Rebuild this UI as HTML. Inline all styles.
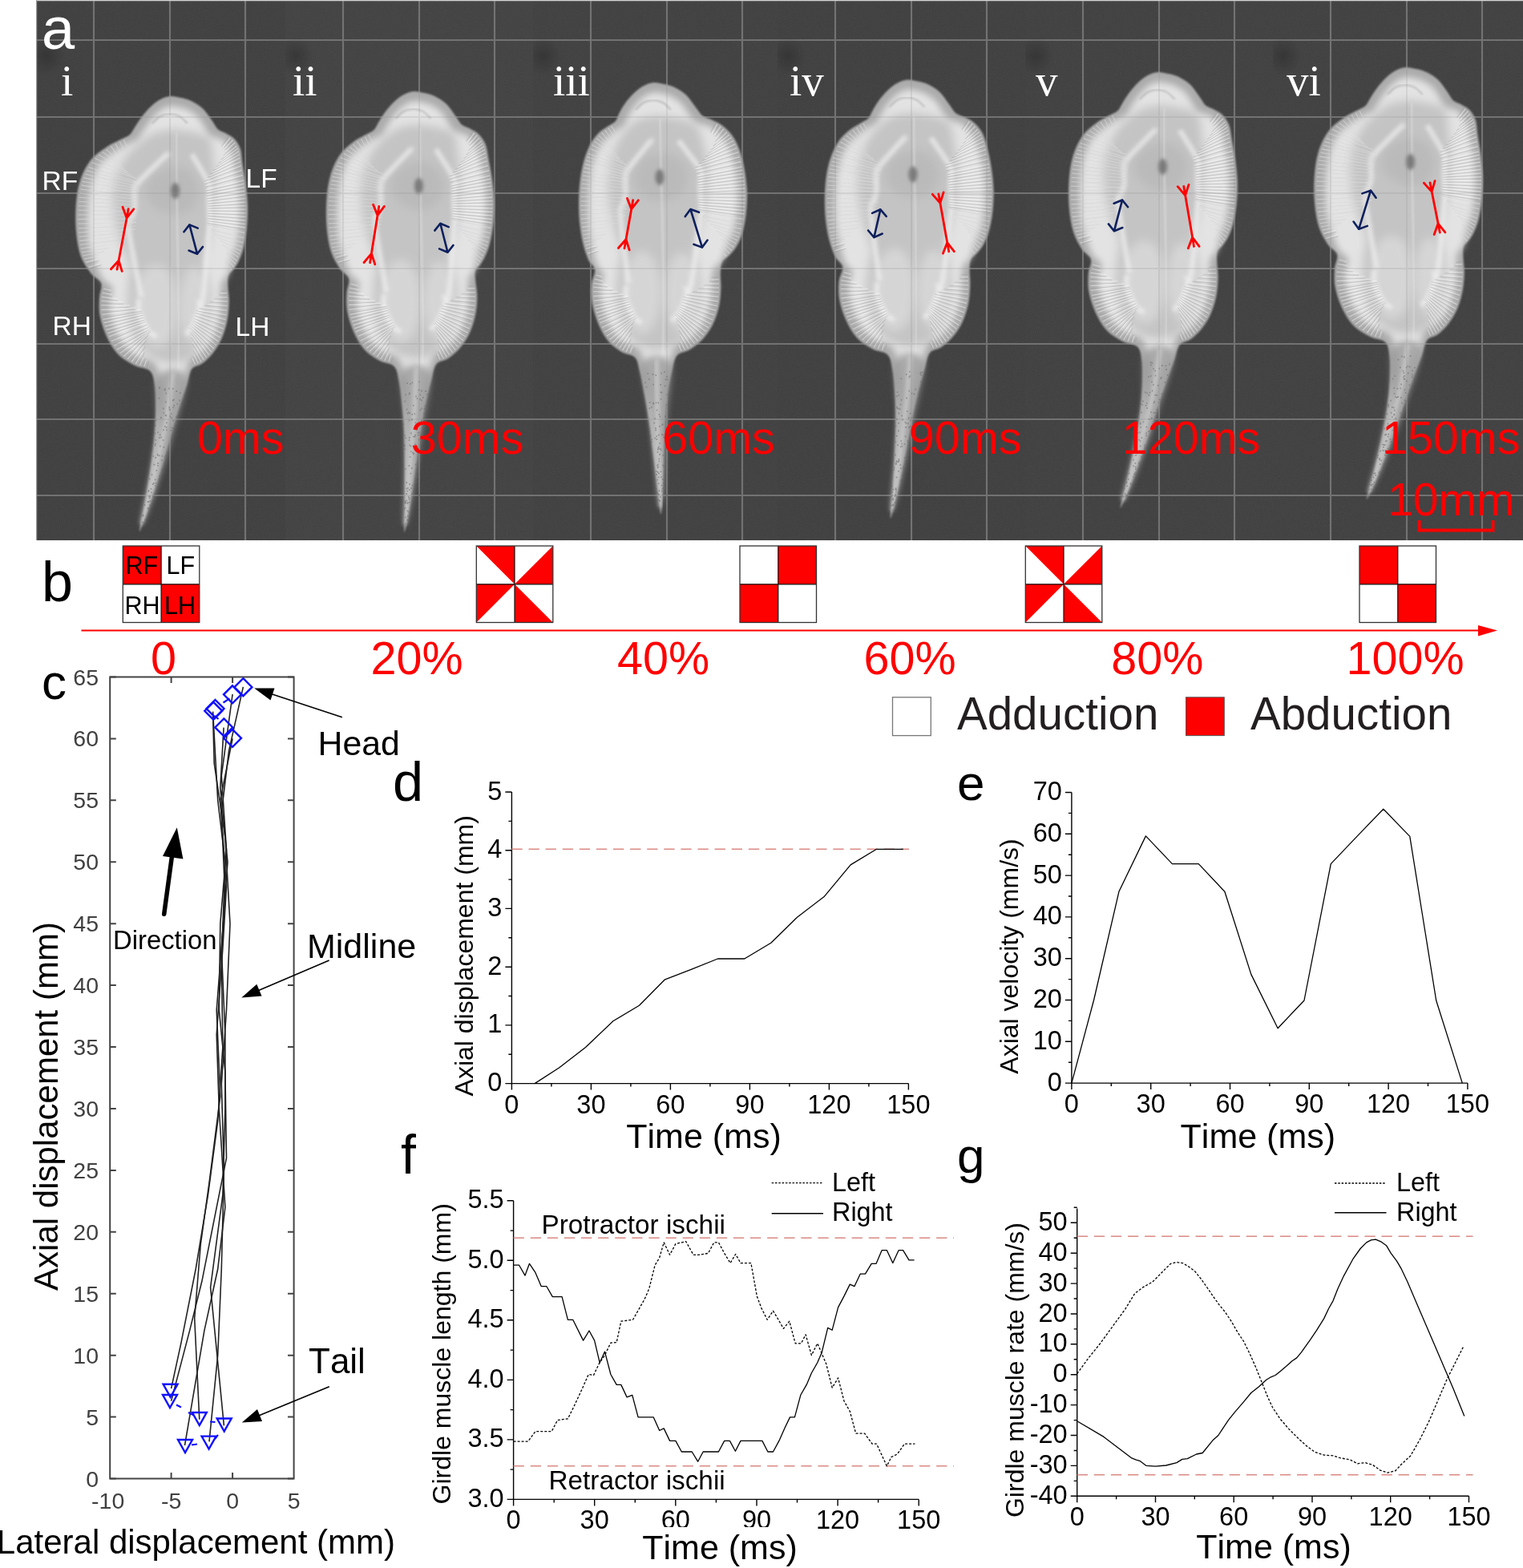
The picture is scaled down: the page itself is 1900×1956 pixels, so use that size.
<!DOCTYPE html>
<html><head><meta charset="utf-8"><title>Figure</title>
<style>html,body{margin:0;padding:0;background:#fff;}body{width:1900px;height:1956px;overflow:hidden;}svg{display:block;} text{font-kerning:none;}</style>
</head><body>
<svg width="1900" height="1956" viewBox="0 0 1900 1956">
<defs><filter id="fb1" x="-5%" y="-5%" width="110%" height="110%"><feGaussianBlur stdDeviation="1.2"/></filter><filter id="fb2" x="-50%" y="-50%" width="200%" height="200%"><feGaussianBlur stdDeviation="2"/></filter><filter id="fb4" x="-30%" y="-30%" width="160%" height="160%"><feGaussianBlur stdDeviation="4"/></filter><filter id="fb6" x="-20%" y="-20%" width="140%" height="140%"><feGaussianBlur stdDeviation="6"/></filter><filter id="nz" x="0" y="0" width="100%" height="100%"><feTurbulence type="fractalNoise" baseFrequency="0.9" numOctaves="2" seed="3"/><feColorMatrix type="matrix" values="0 0 0 0 0.28  0 0 0 0 0.28  0 0 0 0 0.28  0 0 0 0.35 0"/></filter><pattern id="noise" patternUnits="userSpaceOnUse" width="300" height="300"><rect width="300" height="300" filter="url(#nz)"/></pattern><clipPath id="cf0"><rect x="45" y="0" width="311" height="674"/></clipPath><clipPath id="cf1"><rect x="356" y="0" width="309" height="674"/></clipPath><clipPath id="cf2"><rect x="665" y="0" width="305" height="674"/></clipPath><clipPath id="cf3"><rect x="970" y="0" width="309" height="674"/></clipPath><clipPath id="cf4"><rect x="1279" y="0" width="309" height="674"/></clipPath><clipPath id="cf5"><rect x="1588" y="0" width="312" height="674"/></clipPath><radialGradient id="smg"><stop offset="0" stop-color="#1e1e1e" stop-opacity="0.35"/><stop offset="1" stop-color="#1e1e1e" stop-opacity="0"/></radialGradient></defs>
<rect x="45" y="0" width="1855" height="674" fill="#474747"/>
<rect x="45" y="0" width="311" height="674" fill="#3b3b3b"/>
<rect x="356" y="0" width="309" height="674" fill="#3e3e3e"/>
<rect x="665" y="0" width="305" height="674" fill="#3c3c3c"/>
<rect x="970" y="0" width="309" height="674" fill="#3b3b3b"/>
<rect x="1279" y="0" width="309" height="674" fill="#3c3c3c"/>
<rect x="1588" y="0" width="312" height="674" fill="#3c3c3c"/>
<rect x="45" y="0" width="1855" height="674" fill="url(#noise)" opacity="0.5"/>
<path d="M45 50.0H356M45 146.0H356M45 241.0H356M45 335.0H356M45 429.0H356M45 523.0H356M45 618.0H356M117.0 0V674M212.0 0V674M306.0 0V674M356 50.0H665M356 146.0H665M356 241.0H665M356 335.0H665M356 429.0H665M356 523.0H665M356 618.0H665M428.0 0V674M523.0 0V674M617.0 0V674M665 50.0H970M665 146.0H970M665 241.0H970M665 335.0H970M665 429.0H970M665 523.0H970M665 618.0H970M737.0 0V674M832.0 0V674M926.0 0V674M970 50.0H1279M970 146.0H1279M970 241.0H1279M970 335.0H1279M970 429.0H1279M970 523.0H1279M970 618.0H1279M1042.0 0V674M1137.0 0V674M1231.0 0V674M1279 50.0H1588M1279 146.0H1588M1279 241.0H1588M1279 335.0H1588M1279 429.0H1588M1279 523.0H1588M1279 618.0H1588M1351.0 0V674M1446.0 0V674M1540.0 0V674M1588 50.0H1900M1588 146.0H1900M1588 241.0H1900M1588 335.0H1900M1588 429.0H1900M1588 523.0H1900M1588 618.0H1900M1660.0 0V674M1755.0 0V674M1849.0 0V674" stroke="#727272" stroke-width="2.2" fill="none" opacity="0.9"/>
<g clip-path="url(#cf0)"><ellipse cx="58.0" cy="70" rx="22" ry="24" fill="url(#smg)"/></g>
<g clip-path="url(#cf1)"><ellipse cx="369.0" cy="70" rx="22" ry="24" fill="url(#smg)"/></g>
<g clip-path="url(#cf2)"><ellipse cx="678.0" cy="70" rx="22" ry="24" fill="url(#smg)"/></g>
<g clip-path="url(#cf3)"><ellipse cx="983.0" cy="70" rx="22" ry="24" fill="url(#smg)"/></g>
<g clip-path="url(#cf4)"><ellipse cx="1292.0" cy="70" rx="22" ry="24" fill="url(#smg)"/></g>
<g clip-path="url(#cf5)"><ellipse cx="1601.0" cy="70" rx="22" ry="24" fill="url(#smg)"/></g>
<g clip-path="url(#cf0)">
<g><path d="M212.4 120.0 C216.2 119.6 219.5 120.9 223.1 121.5 C226.7 122.2 230.3 122.7 233.8 124.0 C237.4 125.3 241.2 127.2 244.6 129.2 C247.9 131.3 251.0 133.5 253.8 136.3 C256.6 139.1 259.1 142.9 261.4 146.1 C263.8 149.3 265.8 152.6 267.6 155.3 C269.5 158.0 270.2 160.1 272.7 162.1 C275.3 164.0 279.7 165.0 283.0 167.0 C286.4 168.9 290.0 170.5 292.9 173.7 C295.7 176.9 298.4 180.9 300.0 186.0 C301.6 191.1 301.4 197.2 302.5 204.4 C303.5 211.6 305.3 220.2 306.4 228.9 C307.5 237.6 308.7 247.4 309.0 256.6 C309.2 265.8 308.8 275.5 307.9 284.2 C307.1 292.9 305.5 301.8 303.9 308.7 C302.2 315.6 300.0 321.0 297.9 325.6 C295.8 330.2 293.3 333.3 291.1 336.3 C288.9 339.4 285.9 340.4 284.8 344.0 C283.7 347.6 284.3 352.4 284.5 357.8 C284.6 363.2 285.9 369.3 285.8 376.2 C285.6 383.1 285.1 391.6 283.6 399.2 C282.1 406.9 279.7 415.3 276.6 422.3 C273.6 429.2 269.5 435.4 265.4 440.7 C261.3 445.9 256.6 450.2 252.2 453.6 C247.8 456.9 242.4 456.0 239.1 460.6 C235.9 465.2 235.6 472.4 232.8 481.0 C230.0 489.6 225.4 501.9 222.1 512.4 C218.7 522.9 215.7 533.3 212.7 543.8 C209.6 554.2 206.8 564.7 203.7 575.2 C200.6 585.6 197.5 596.1 194.2 606.5 C190.8 617.0 187.2 628.5 183.8 637.9 C180.5 647.3 174.8 663.0 174.0 663.0 C173.1 663.0 177.2 647.3 178.9 637.9 C180.6 628.5 182.7 617.0 184.3 606.5 C186.0 596.1 187.6 585.6 189.0 575.2 C190.4 564.7 191.9 554.2 192.7 543.8 C193.6 533.3 194.1 522.9 194.2 512.4 C194.2 501.9 194.1 489.3 193.0 481.0 C191.8 472.8 191.2 467.0 187.1 462.8 C182.9 458.6 174.8 459.4 168.2 456.0 C161.6 452.6 153.4 448.1 147.6 442.2 C141.8 436.3 137.3 428.6 133.5 420.7 C129.7 412.8 126.4 402.8 124.8 394.6 C123.2 386.5 123.7 378.5 124.0 371.6 C124.2 364.7 128.0 358.3 126.3 353.2 C124.5 348.1 117.7 346.6 113.5 340.9 C109.2 335.3 103.8 327.9 100.7 319.5 C97.7 311.0 96.1 300.8 95.1 290.3 C94.1 279.8 94.0 267.3 94.7 256.6 C95.5 245.8 96.7 235.3 99.8 225.9 C102.9 216.4 107.7 206.8 113.2 199.8 C118.7 192.7 126.7 187.8 132.8 183.5 C138.9 179.3 145.1 176.9 149.9 174.3 C154.7 171.8 158.5 170.8 161.6 168.2 C164.6 165.5 165.7 162.2 168.3 158.4 C170.9 154.6 173.8 149.7 177.1 145.5 C180.3 141.3 184.0 136.8 187.8 133.2 C191.6 129.6 196.0 126.2 200.1 124.0 C204.2 121.8 208.5 120.4 212.4 120.0 Z" fill="#ababab" filter="url(#fb1)"/><path d="M213.5 132.0 C216.7 131.6 219.6 132.9 222.6 133.5 C225.7 134.2 228.7 134.6 231.7 135.8 C234.7 137.0 237.9 138.7 240.6 140.6 C243.4 142.4 246.0 144.4 248.1 146.9 C250.3 149.4 252.0 152.8 253.7 155.6 C255.3 158.4 256.6 161.2 258.0 163.5 C259.4 165.7 259.8 167.4 262.1 168.9 C264.3 170.4 268.4 170.9 271.6 172.3 C274.8 173.8 278.1 173.8 281.2 177.5 C284.2 181.2 287.9 188.9 289.9 194.5 C291.9 200.1 292.0 204.7 293.2 211.1 C294.4 217.5 296.1 225.2 297.0 232.9 C298.0 240.6 298.8 249.0 299.0 257.0 C299.2 265.0 299.0 273.5 298.3 281.1 C297.7 288.7 296.6 296.7 295.2 302.8 C293.8 308.9 291.9 311.1 289.9 317.9 C288.0 324.7 285.7 337.9 283.6 343.4 C281.5 348.9 278.4 347.6 277.1 351.0 C275.8 354.3 275.9 358.7 275.6 363.3 C275.3 368.0 276.0 373.2 275.6 379.0 C275.2 384.8 274.6 391.6 273.2 397.9 C271.8 404.1 269.9 410.9 267.4 416.5 C265.0 422.2 261.8 427.3 258.4 431.7 C255.0 436.0 250.7 439.7 247.0 442.6 C243.3 445.4 239.1 444.3 236.3 448.8 C233.6 453.2 232.7 460.6 230.4 469.1 C228.1 477.7 225.4 489.8 222.6 500.3 C219.7 510.7 216.3 521.2 213.4 531.7 C210.5 542.1 208.0 552.6 205.2 563.0 C202.3 573.5 199.3 583.9 196.2 594.4 C193.0 604.8 189.5 616.3 186.3 625.7 C183.2 635.1 177.7 650.8 177.1 650.8 C176.5 650.8 180.7 635.1 182.6 625.6 C184.6 616.2 186.8 604.7 188.7 594.3 C190.6 583.9 192.4 573.4 193.9 563.0 C195.5 552.6 197.0 542.2 198.1 531.8 C199.3 521.5 200.6 511.3 200.8 501.1 C201.1 490.8 201.2 478.4 199.6 470.2 C198.0 462.0 195.3 455.6 191.2 451.6 C187.0 447.6 180.4 449.0 174.9 446.2 C169.4 443.3 162.9 439.6 158.2 434.6 C153.4 429.6 149.6 423.1 146.3 416.4 C143.0 409.6 140.0 401.2 138.5 394.2 C137.0 387.3 137.1 380.5 137.4 374.5 C137.6 368.6 141.5 363.1 139.8 358.6 C138.2 354.0 131.9 354.8 127.4 347.1 C122.9 339.4 115.9 322.6 112.9 312.5 C109.9 302.4 110.0 295.6 109.5 286.4 C109.0 277.1 109.2 266.4 109.9 257.0 C110.6 247.7 111.6 238.7 113.9 230.4 C116.1 222.1 119.0 213.6 123.1 207.3 C127.3 201.0 132.3 197.5 138.6 192.8 C145.0 188.0 155.6 181.9 161.0 178.8 C166.5 175.7 168.9 176.3 171.5 174.2 C174.1 172.0 174.6 169.2 176.7 166.0 C178.8 162.8 181.4 158.6 184.1 154.9 C186.8 151.2 189.8 147.2 193.0 144.0 C196.2 140.8 199.7 137.6 203.1 135.6 C206.5 133.6 210.2 132.3 213.5 132.0 Z" fill="#e3e3e3" filter="url(#fb4)"/><path d="M185.1 170.0 C194.2 164.5 203.5 163.0 212.0 162.0 C220.5 161.0 228.1 162.3 236.2 164.0 C244.4 165.7 256.2 166.8 261.1 172.0 C265.9 177.2 264.3 185.3 265.5 195.0 C266.7 204.7 268.2 217.5 268.4 230.0 C268.6 242.5 268.1 257.5 266.7 270.0 C265.3 282.5 262.0 295.0 260.1 305.0 C258.2 315.0 255.1 320.8 255.5 330.0 C255.8 339.2 260.8 350.0 262.3 360.0 C263.8 370.0 265.2 380.0 264.4 390.0 C263.6 400.0 261.1 411.3 257.4 420.0 C253.8 428.7 247.9 436.7 242.6 442.0 C237.3 447.3 231.4 450.3 225.4 452.0 C219.3 453.7 213.4 453.7 206.4 452.0 C199.4 450.3 190.1 447.3 183.5 442.0 C176.8 436.7 170.3 428.7 166.3 420.0 C162.3 411.3 160.5 400.0 159.4 390.0 C158.3 380.0 159.2 369.7 159.7 360.0 C160.2 350.3 163.7 341.2 162.3 332.0 C160.9 322.8 154.6 315.3 151.2 305.0 C147.9 294.7 143.8 282.5 142.4 270.0 C140.9 257.5 139.9 242.5 142.4 230.0 C144.9 217.5 150.3 205.0 157.4 195.0 C164.5 185.0 176.0 175.5 185.1 170.0 Z" fill="#ababab" opacity="0.55" filter="url(#fb6)"/><path d="M248.5 238.0 C248.5 241.4 247.9 245.0 246.8 248.3 C245.7 251.5 243.9 254.7 241.9 257.3 C239.8 259.9 237.2 262.3 234.4 264.0 C231.6 265.7 228.4 267.0 225.2 267.5 C222.0 268.1 219.1 268.1 215.4 267.5 C211.7 267.0 207.1 265.7 203.1 264.0 C199.2 262.3 194.8 259.9 191.7 257.3 C188.5 254.7 185.9 251.5 184.2 248.3 C182.5 245.0 181.6 241.4 181.6 238.0 C181.6 234.6 182.5 231.0 184.2 227.7 C185.9 224.5 188.5 221.3 191.7 218.7 C194.8 216.1 199.2 213.7 203.1 212.0 C207.1 210.3 211.7 209.0 215.4 208.5 C219.1 207.9 222.1 207.9 225.3 208.5 C228.4 209.0 231.6 210.3 234.4 212.0 C237.2 213.7 239.8 216.1 241.9 218.7 C243.9 221.3 245.7 224.5 246.8 227.7 C247.9 231.0 248.5 234.6 248.5 238.0 Z" fill="#a9a9a9" opacity="0.35" filter="url(#fb6)"/><path d="M220.7 382.0 C220.7 387.9 220.3 394.2 219.5 399.8 C218.7 405.4 217.5 410.9 215.8 415.4 C214.2 420.0 212.2 424.1 209.7 427.0 C207.2 430.0 203.8 432.2 200.8 433.2 C197.7 434.2 194.3 434.2 191.2 433.2 C188.2 432.2 185.0 430.0 182.3 427.0 C179.6 424.1 177.0 420.0 175.0 415.4 C173.0 410.9 171.3 405.4 170.2 399.8 C169.2 394.2 168.6 387.9 168.6 382.0 C168.5 376.1 169.1 369.8 169.9 364.2 C170.6 358.6 171.7 353.1 173.4 348.6 C175.1 344.0 177.4 339.9 180.1 337.0 C182.7 334.0 186.1 331.8 189.4 330.8 C192.7 329.8 196.4 329.8 199.8 330.8 C203.1 331.8 206.9 334.0 209.5 337.0 C212.2 339.9 214.1 344.0 215.8 348.6 C217.4 353.1 218.6 358.6 219.4 364.2 C220.3 369.8 220.7 376.1 220.7 382.0 Z" fill="#e4e4e4" opacity="0.55" filter="url(#fb6)"/><path d="M262.7 382.0 C262.7 387.7 262.3 393.7 261.5 399.1 C260.8 404.5 259.6 409.8 258.2 414.1 C256.8 418.5 255.0 422.5 253.1 425.3 C251.2 428.2 248.9 430.3 246.8 431.2 C244.6 432.2 242.3 432.2 240.1 431.2 C238.0 430.3 235.7 428.2 233.8 425.3 C231.9 422.5 230.1 418.5 228.7 414.1 C227.3 409.8 226.1 404.5 225.4 399.1 C224.6 393.7 224.2 387.7 224.2 382.0 C224.2 376.3 224.6 370.3 225.3 364.9 C226.0 359.5 227.1 354.2 228.4 349.9 C229.7 345.5 231.3 341.5 233.1 338.7 C234.9 335.8 236.9 333.7 239.0 332.8 C241.0 331.8 243.3 331.8 245.4 332.8 C247.5 333.7 249.7 335.8 251.7 338.7 C253.7 341.5 255.7 345.5 257.3 349.9 C258.9 354.2 260.4 359.5 261.3 364.9 C262.2 370.3 262.6 376.3 262.7 382.0 Z" fill="#e4e4e4" opacity="0.55" filter="url(#fb6)"/><path d="M239.3 192.2 C242.7 198.0 256.1 219.7 259.8 227.1 C263.5 234.6 261.2 233.3 261.4 236.7 C261.6 240.2 261.1 244.4 261.0 248.1 C260.9 251.7 260.8 255.2 260.9 258.7 C261.0 262.3 261.3 265.7 261.5 269.2 C261.7 272.8 262.2 276.9 262.1 280.1 C261.9 283.3 262.2 273.2 260.7 288.3 C259.2 303.4 255.7 355.7 253.2 370.6 C250.6 385.5 246.8 376.4 245.5 377.6" fill="none" stroke="#f0f0f0" stroke-width="7" opacity="0.65" filter="url(#fb2)"/><path d="M251.1 378.1 C250.7 379.5 249.3 383.7 248.4 386.4 C247.4 389.1 246.3 391.8 245.4 394.3 C244.5 396.8 243.7 399.1 242.8 401.3 C241.9 403.6 241.1 405.7 239.9 407.7 C238.7 409.7 237.2 411.6 235.8 413.2 C234.4 414.8 232.2 416.5 231.4 417.2" fill="none" stroke="#f0f0f0" stroke-width="7" opacity="0.65" filter="url(#fb2)"/><path d="M195.5 419.9 C194.0 419.0 189.0 416.9 186.5 414.4 C183.9 411.8 182.3 408.3 180.4 404.7 C178.5 401.2 176.3 397.0 175.0 393.2 C173.8 389.5 173.0 385.6 172.8 382.2 C172.7 378.8 173.7 374.4 173.9 372.9" fill="none" stroke="#f0f0f0" stroke-width="7" opacity="0.65" filter="url(#fb2)"/><path d="M176.4 370.6 C173.7 356.4 162.2 302.2 160.3 285.7 C158.3 269.1 163.2 275.8 164.5 271.3 C165.8 266.8 167.6 262.8 168.1 258.8 C168.7 254.9 167.8 251.6 167.8 247.8 C167.7 244.0 167.2 239.4 167.9 236.1 C168.6 232.8 165.7 235.0 172.0 228.1 C178.4 221.2 200.0 200.6 206.1 194.9 C212.1 189.1 207.8 194.2 208.3 193.6 C208.9 193.1 209.3 192.0 209.5 191.7" fill="none" stroke="#f0f0f0" stroke-width="7" opacity="0.65" filter="url(#fb2)"/><path d="M196.6 470.2 C202.5 458.3 229.1 458.3 232.3 470.2 C235.5 482.2 221.7 519.7 215.7 541.8 C209.6 564.0 202.5 583.6 195.8 603.2 C189.1 622.8 176.9 659.4 175.6 659.4 C174.2 659.4 184.3 622.8 187.8 603.2 C191.3 583.6 195.2 564.0 196.7 541.8 C198.1 519.7 190.6 482.2 196.6 470.2 Z" fill="#848484" opacity="0.6" filter="url(#fb4)"/><path d="M215.5 465.1 C214.2 474.5 211.1 503.5 208.1 521.4 C205.0 539.3 201.1 555.4 197.2 572.5 C193.3 589.5 188.3 610.0 184.8 623.6 C181.3 637.3 177.7 649.2 176.2 654.3" fill="none" stroke="#d8d8d8" stroke-width="5" opacity="0.6" filter="url(#fb2)"/><path d="M219.7 165.0 C219.8 177.5 219.9 214.2 220.3 240.0 C220.7 265.8 221.4 293.3 222.0 320.0 C222.5 346.7 223.2 376.7 223.4 400.0 C223.5 423.3 223.1 450.0 223.0 460.0" fill="none" stroke="#ececec" stroke-width="3" opacity="0.35" filter="url(#fb1)"/><ellipse cx="218.6" cy="238.0" rx="5.5" ry="10" fill="#7a7a7a" filter="url(#fb2)"/><path d="M189.7 154.0 C191.4 152.5 196.3 147.0 200.0 145.0 C203.7 143.0 208.0 142.0 212.0 142.0 C216.0 142.0 220.4 143.0 224.0 145.0 C227.6 147.0 232.2 152.5 233.8 154.0" fill="none" stroke="#a0a0a0" stroke-width="2" opacity="0.55" filter="url(#fb1)"/><clipPath id="fc0"><path d="M212.6 122.5 C216.3 122.1 219.5 123.4 223.0 124.0 C226.5 124.7 229.9 125.2 233.4 126.5 C236.8 127.7 240.5 129.6 243.8 131.6 C247.0 133.6 249.9 135.7 252.6 138.5 C255.3 141.2 257.7 145.0 259.9 148.1 C262.1 151.2 263.9 154.4 265.6 157.0 C267.4 159.6 268.0 161.6 270.5 163.5 C273.0 165.3 277.3 166.2 280.6 168.1 C284.0 169.9 287.5 171.2 290.4 174.5 C293.3 177.8 296.1 182.5 297.8 187.8 C299.5 193.0 299.4 198.8 300.5 205.8 C301.6 212.8 303.4 221.3 304.5 229.8 C305.5 238.2 306.6 247.7 306.9 256.7 C307.1 265.6 306.7 275.1 305.9 283.5 C305.1 292.0 303.7 300.7 302.1 307.5 C300.4 314.2 298.3 318.9 296.2 324.0 C294.1 329.0 291.7 334.2 289.5 337.8 C287.4 341.4 284.4 341.9 283.2 345.5 C282.1 349.0 282.6 353.7 282.6 359.0 C282.7 364.2 283.8 370.1 283.6 376.8 C283.4 383.5 282.9 391.6 281.4 399.0 C280.0 406.3 277.6 414.4 274.7 421.1 C271.8 427.7 267.9 433.8 263.9 438.8 C260.0 443.8 255.3 448.0 251.0 451.3 C246.8 454.5 241.6 453.6 238.5 458.1 C235.4 462.7 235.1 469.9 232.4 478.5 C229.6 487.2 225.5 499.4 222.2 509.9 C219.0 520.3 215.9 530.8 212.9 541.3 C209.8 551.7 207.1 562.2 204.0 572.6 C201.0 583.1 197.9 593.5 194.6 604.0 C191.3 614.5 187.7 626.0 184.4 635.4 C181.0 644.8 175.4 660.5 174.6 660.5 C173.8 660.5 177.9 644.8 179.7 635.4 C181.5 625.9 183.5 614.4 185.3 604.0 C187.0 593.5 188.6 583.1 190.0 572.6 C191.5 562.2 193.0 551.7 193.9 541.3 C194.8 530.9 195.5 520.5 195.6 510.0 C195.6 499.6 195.6 487.0 194.3 478.8 C193.1 470.5 192.1 464.6 187.9 460.4 C183.8 456.3 175.9 457.3 169.5 454.0 C163.1 450.6 155.3 446.3 149.8 440.6 C144.2 434.9 139.9 427.5 136.2 419.8 C132.5 412.1 129.2 402.5 127.6 394.6 C126.0 386.6 126.5 378.9 126.8 372.2 C127.0 365.5 130.9 359.3 129.1 354.3 C127.4 349.3 120.7 348.3 116.4 342.2 C112.1 336.2 106.3 326.8 103.2 318.0 C100.2 309.2 99.0 299.7 98.1 289.5 C97.2 279.3 97.1 267.1 97.9 256.7 C98.7 246.2 99.8 236.0 102.7 226.8 C105.6 217.6 110.0 208.3 115.2 201.4 C120.4 194.5 127.8 189.8 133.9 185.5 C140.1 181.1 147.2 177.9 152.2 175.3 C157.1 172.6 160.6 172.0 163.6 169.4 C166.6 166.9 167.6 163.6 170.1 160.0 C172.6 156.3 175.4 151.5 178.6 147.4 C181.7 143.4 185.2 139.0 188.9 135.5 C192.6 132.0 196.8 128.6 200.7 126.4 C204.7 124.3 208.9 122.9 212.6 122.5 Z"/></clipPath><g clip-path="url(#fc0)"><path d="M285.6 170.4L276.7 182.4M289.3 172.8L279.5 184.3M292.4 175.7L280.8 187.3M295.0 179.2L278.7 194.1M296.8 182.3L275.7 199.5M298.2 185.6L272.4 204.3M299.2 189.4L268.9 208.6M300.0 193.6L265.6 213.0M300.5 198.2L262.4 217.4M301.0 203.2L259.0 221.6M301.6 208.5L255.5 225.8M302.6 214.4L255.6 229.2M303.8 220.6L256.4 233.2M304.9 227.1L257.2 238.1M305.5 231.4L257.7 241.0M306.1 235.8L258.1 244.4M306.6 240.4L258.5 247.7M307.0 245.0L258.8 251.0M307.4 249.7L259.0 254.2M307.6 254.3L259.2 257.2M307.8 258.9L259.3 260.0M307.8 263.5L259.3 263.0M307.7 268.2L259.2 266.2M307.5 272.8L259.1 269.4M307.3 277.4L258.9 272.6M306.9 281.8L258.7 275.7M306.5 286.2L258.4 278.5M306.0 290.5L258.7 281.0M305.0 296.8L262.5 286.6M303.9 302.8L266.1 291.6M302.7 308.3L269.7 296.1M301.3 313.1L273.3 300.1M299.8 317.4L276.6 304.4M298.3 321.3L279.7 308.9M296.3 325.9L282.1 314.7M294.1 329.7L284.3 320.2M291.8 333.0L283.0 323.6M289.0 336.8L280.3 327.1M283.7 362.5L275.1 363.1M284.2 367.4L273.4 367.9M284.5 372.7L267.5 372.7M284.4 377.9L261.3 376.8M284.1 383.5L254.9 381.1M283.7 389.3L248.5 384.8M283.0 395.1L244.7 387.5M281.9 400.8L244.2 390.4M280.6 406.6L243.3 393.8M278.9 412.5L242.3 397.2M276.9 418.1L241.3 400.1M274.7 423.3L240.4 402.3M272.2 428.1L239.4 404.2M269.5 432.7L238.2 406.3M266.5 437.0L236.9 408.1M263.4 440.9L235.9 409.4M260.1 444.4L237.1 413.6M256.8 447.7L238.9 420.8M253.5 450.6L240.0 428.5M250.3 453.1L240.9 436.1M246.7 455.2L241.0 443.9M243.0 457.1L238.8 447.8M182.8 459.9L185.6 450.4M177.7 458.3L181.5 447.2M172.3 456.3L180.4 439.6M167.2 453.9L181.3 432.3M162.0 451.0L182.6 425.0M156.8 447.7L184.8 418.0M151.8 444.0L188.2 413.0M147.5 439.8L187.8 412.5M143.7 435.0L186.7 411.2M140.2 429.7L185.1 408.7M137.1 424.0L183.2 405.4M134.2 418.1L181.3 401.4M132.4 414.0L180.3 399.2M130.7 409.6L179.2 396.3M129.2 405.1L178.2 393.3M127.9 400.7L177.4 390.4M126.9 396.5L176.9 388.6M125.8 390.4L169.8 386.0M125.3 384.5L161.9 383.3M125.3 378.9L154.2 379.4M125.6 373.5L146.8 375.1M126.0 368.3L139.6 370.3M126.7 363.1L138.2 365.4M111.5 335.1L126.3 330.5M107.8 329.6L123.2 325.2M104.3 323.3L123.3 318.8M102.6 319.1L129.3 314.1M101.3 314.8L135.6 309.4M100.2 310.2L142.0 304.5M99.2 305.4L148.4 299.6M98.3 300.5L155.1 294.8M97.6 295.4L161.8 290.3M97.0 290.2L168.8 286.0M96.6 284.8L170.6 281.9M96.3 279.2L170.3 277.5M96.2 273.5L170.2 272.9M96.2 267.8L170.2 268.4M96.3 262.1L170.4 264.0M96.6 256.6L170.6 259.9M97.1 251.3L170.9 255.9M97.7 246.1L171.4 252.1M98.4 240.9L171.9 248.4M99.3 235.9L172.5 244.9M100.4 231.0L173.2 241.7M101.6 226.2L173.9 238.9M103.1 221.5L174.8 236.1M104.7 216.9L175.7 233.4M106.5 212.4L176.8 230.7M108.9 208.1L175.6 228.3M113.2 202.2L170.4 222.9M117.8 197.2L164.6 219.0M122.6 192.8L159.1 214.9M127.4 189.0L154.8 209.9M132.1 185.6L151.3 204.7M138.1 181.8L149.9 198.5M143.9 178.8L150.3 192.0M149.2 176.2L154.5 187.4M154.0 173.7L159.4 184.9" stroke="#999999" stroke-width="1.1" opacity="0.36" fill="none"/><path d="M287.4 171.5L278.3 183.4M290.9 174.2L280.7 185.3M293.7 177.4L281.4 188.8M296.3 181.2L279.1 195.8M297.8 184.5L275.7 200.9M298.9 188.1L272.2 205.7M299.7 192.2L268.7 210.3M300.3 196.6L265.3 214.9M300.8 201.5L261.9 219.4M301.4 206.7L258.4 223.7M302.2 212.4L255.4 228.1M303.4 218.5L256.2 231.8M304.5 224.9L257.0 236.5M305.2 229.2L257.4 239.4M305.8 233.6L257.9 242.7M306.4 238.1L258.3 246.0M306.8 242.7L258.7 249.4M307.2 247.4L258.9 252.6M307.5 252.0L259.1 255.7M307.7 256.6L259.2 258.6M307.8 261.2L259.3 261.5M307.8 265.8L259.3 264.6M307.6 270.5L259.2 267.8M307.4 275.1L259.0 271.0M307.1 279.6L258.8 274.2M306.7 284.0L258.6 276.7M306.0 290.5L258.1 281.3M305.0 296.8L261.3 286.3M303.9 302.8L265.1 291.3M302.7 308.3L268.8 295.8M301.3 313.1L272.5 299.8M299.8 317.4L276.0 304.0M298.3 321.3L279.2 308.6M296.3 325.9L281.7 314.3M294.1 329.7L284.0 319.9M291.8 333.0L283.0 323.6M289.0 336.8L280.3 327.1M284.1 365.7L275.4 366.2M284.4 370.9L273.0 371.1M284.5 376.2L266.6 375.6M284.2 381.6L260.0 379.9M283.9 387.3L253.3 384.0M283.3 393.2L246.6 386.9M282.3 398.9L244.4 389.4M281.1 404.7L243.6 392.6M279.5 410.5L242.7 396.1M277.6 416.3L241.7 399.2M275.5 421.6L240.7 401.6M273.1 426.5L239.8 403.6M270.4 431.2L238.6 405.6M267.5 435.6L237.3 407.6M264.4 439.6L236.2 409.1M261.2 443.3L236.4 411.7M257.9 446.6L238.8 418.9M254.6 449.6L240.2 426.8M251.3 452.3L241.3 434.7M247.9 454.5L241.8 442.8M244.2 456.5L239.9 447.3M179.4 458.8L182.4 449.4M174.0 457.0L178.5 446.1M168.8 454.7L178.3 438.6M163.8 452.0L179.3 431.1M158.5 448.8L180.7 423.7M153.4 445.3L183.8 417.3M148.9 441.2L187.9 412.7M145.0 436.6L187.1 411.8M141.4 431.5L185.7 409.6M138.1 425.9L183.9 406.6M135.1 420.1L181.9 402.7M133.3 416.1L180.9 400.5M131.5 411.8L179.8 397.7M130.0 407.3L178.7 394.8M128.6 402.9L177.8 391.8M127.4 398.6L177.2 389.7M126.1 392.4L176.4 386.2M125.4 386.5L169.6 384.0M125.3 380.7L161.9 380.8M125.5 375.2L154.4 376.8M125.8 370.1L147.0 372.6M126.4 364.8L140.1 367.4M127.2 359.7L138.8 362.4M110.3 333.4L125.3 328.8M106.6 327.5L122.1 323.3M104.3 323.3L123.4 319.0M102.6 319.1L129.3 314.1M101.3 314.8L135.6 309.4M100.2 310.2L142.0 304.5M99.2 305.4L148.4 299.6M98.3 300.5L155.1 294.8M97.6 295.4L161.8 290.3M97.0 290.2L168.8 286.0M96.6 284.8L170.6 281.9M96.3 279.2L170.3 277.5M96.2 273.5L170.2 272.9M96.2 267.8L170.2 268.4M96.3 262.1L170.4 264.0M96.6 256.6L170.6 259.9M97.1 251.3L170.9 255.9M97.7 246.1L171.4 252.1M98.4 240.9L171.9 248.4M99.3 235.9L172.5 244.9M100.4 231.0L173.2 241.7M101.6 226.2L173.9 238.9M103.1 221.5L174.8 236.1M104.7 216.9L175.7 233.4M106.5 212.4L176.8 230.7M108.9 208.1L175.6 228.3M113.2 202.2L170.4 222.9M117.8 197.2L164.6 219.0M122.6 192.8L159.1 214.9M127.4 189.0L154.8 209.9M132.1 185.6L151.3 204.7M138.1 181.8L149.9 198.5M143.9 178.8L150.3 192.0M149.2 176.2L154.5 187.4M154.0 173.7L159.4 184.9" stroke="#ffffff" stroke-width="1.3" opacity="0.38" fill="none"/></g><path d="M220.5 503.8h1.6M184.6 613.2h1.6M195.7 566.6h1.6M198.2 593.7h1.6M197.5 496.8h1.6M183.4 625.8h1.6M181.2 613.0h1.6M203.6 557.9h1.6M219.2 520.2h1.6M175.8 637.2h1.6M214.8 484.9h1.6M177.5 643.7h1.6M205.6 518.1h1.6M204.6 485.5h1.6M199.1 556.6h1.6M200.0 521.0h1.6M206.6 518.5h1.6M193.0 530.8h1.6M184.7 626.1h1.6M188.7 592.1h1.6M178.5 653.0h1.6M205.9 501.5h1.6M193.1 605.9h1.6M178.0 643.3h1.6M186.5 624.8h1.6M206.8 533.2h1.6M185.4 633.9h1.6M198.0 568.3h1.6M205.1 486.5h1.6M185.1 619.1h1.6M210.6 510.5h1.6M193.6 602.7h1.6M200.4 545.6h1.6M201.6 568.8h1.6M193.5 571.0h1.6M187.4 565.6h1.6M219.4 488.0h1.6M176.9 651.4h1.6M193.5 548.9h1.6M206.0 567.8h1.6M188.1 614.4h1.6M179.8 630.0h1.6M204.8 569.8h1.6M196.2 580.9h1.6M207.1 527.3h1.6M173.2 646.9h1.6M191.1 616.7h1.6M184.0 634.5h1.6M185.8 621.1h1.6M196.3 578.0h1.6M224.1 490.2h1.6M191.8 579.6h1.6M196.0 568.2h1.6M198.9 542.5h1.6M201.1 574.1h1.6M194.6 586.9h1.6M204.8 485.3h1.6M211.4 511.3h1.6M186.2 630.1h1.6M190.2 619.0h1.6M215.3 524.8h1.6M185.8 597.5h1.6M198.1 483.4h1.6M184.8 611.8h1.6M214.9 499.5h1.6M192.7 540.3h1.6M210.4 508.2h1.6M203.0 509.7h1.6M189.8 604.2h1.6M203.2 536.4h1.6M209.9 484.6h1.6M193.0 553.6h1.6M223.1 499.4h1.6M190.3 569.1h1.6M201.2 585.7h1.6M198.2 484.1h1.6M216.3 505.9h1.6M215.4 508.3h1.6M192.9 598.4h1.6M220.4 518.8h1.6M186.4 619.2h1.6M211.5 519.3h1.6M202.7 549.1h1.6M207.1 536.3h1.6M206.4 490.7h1.6M180.3 648.7h1.6M213.4 533.7h1.6M215.2 534.4h1.6M187.7 609.8h1.6M193.6 524.3h1.6M176.9 633.2h1.6M190.7 622.9h1.6M191.3 579.6h1.6M187.7 631.3h1.6M191.0 602.9h1.6M198.1 546.2h1.6M212.9 516.2h1.6M192.7 555.7h1.6M216.3 498.6h1.6M204.9 531.9h1.6M212.8 537.0h1.6M175.8 636.9h1.6M203.6 515.4h1.6M178.3 652.1h1.6M196.3 539.4h1.6M197.7 597.7h1.6M177.5 642.5h1.6M183.7 633.9h1.6M207.1 564.7h1.6M213.1 521.2h1.6" stroke="#6a6a6a" stroke-width="1.8" opacity="0.55"/></g>
</g>
<g clip-path="url(#cf1)">
<g><path d="M516.0 114.0 C519.8 113.6 523.1 114.9 526.7 115.5 C530.3 116.2 533.9 116.7 537.4 118.0 C541.0 119.3 544.8 121.2 548.2 123.2 C551.5 125.3 554.6 127.5 557.4 130.3 C560.2 133.1 562.7 136.9 565.0 140.1 C567.4 143.3 569.4 146.6 571.3 149.3 C573.3 152.0 574.0 154.1 576.7 156.1 C579.3 158.0 583.8 159.0 587.2 161.0 C590.7 162.9 594.5 164.5 597.5 167.7 C600.6 170.9 603.7 174.9 605.7 180.0 C607.7 185.1 608.2 191.2 609.5 198.4 C610.9 205.6 612.7 214.2 613.9 222.9 C615.1 231.6 616.3 241.4 616.6 250.6 C616.8 259.8 616.4 269.5 615.5 278.2 C614.6 286.9 613.0 295.8 611.3 302.7 C609.6 309.6 607.4 315.0 605.3 319.6 C603.3 324.2 601.0 327.3 598.9 330.3 C596.8 333.4 593.8 334.4 592.8 338.0 C591.9 341.6 593.0 346.4 593.4 351.8 C593.8 357.2 595.4 363.3 595.3 370.2 C595.3 377.1 594.7 385.6 593.0 393.2 C591.4 400.9 588.8 409.3 585.5 416.3 C582.2 423.2 577.8 429.4 573.3 434.7 C568.8 439.9 563.3 444.2 558.4 447.6 C553.5 450.9 547.5 449.9 544.1 454.6 C540.6 459.3 540.1 466.8 537.7 475.7 C535.3 484.7 532.0 497.4 529.7 508.2 C527.5 519.0 525.8 529.8 524.1 540.7 C522.4 551.5 521.1 562.3 519.5 573.1 C518.0 584.0 516.5 594.8 514.9 605.6 C513.3 616.4 511.6 628.3 509.9 638.1 C508.2 647.8 505.4 664.0 504.6 664.0 C503.7 664.0 504.9 647.8 505.0 638.1 C505.0 628.3 505.1 616.4 505.0 605.6 C505.0 594.8 504.9 584.0 504.8 573.1 C504.6 562.3 504.7 551.5 504.2 540.7 C503.7 529.8 502.9 519.0 501.8 508.2 C500.8 497.4 499.5 484.3 497.8 475.7 C496.1 467.2 495.6 461.2 491.6 456.9 C487.5 452.6 479.8 453.5 473.7 450.0 C467.6 446.6 460.2 442.1 454.8 436.2 C449.4 430.3 445.1 422.6 441.5 414.7 C437.9 406.8 434.8 396.8 433.3 388.6 C431.8 380.5 432.2 372.5 432.5 365.6 C432.9 358.7 436.7 352.3 435.2 347.2 C433.8 342.1 427.6 340.6 423.9 334.9 C420.1 329.3 415.5 321.9 412.8 313.5 C410.1 305.0 408.6 294.8 407.6 284.3 C406.7 273.8 406.6 261.3 407.3 250.6 C408.0 239.8 409.2 229.3 411.9 219.9 C414.7 210.4 418.9 200.8 423.6 193.8 C428.3 186.7 434.9 181.8 440.2 177.5 C445.5 173.3 451.2 170.9 455.6 168.3 C459.9 165.8 463.5 164.8 466.3 162.2 C469.1 159.5 469.9 156.2 472.3 152.4 C474.7 148.6 477.5 143.7 480.7 139.5 C483.8 135.3 487.6 130.8 491.4 127.2 C495.2 123.6 499.6 120.2 503.7 118.0 C507.8 115.8 512.1 114.4 516.0 114.0 Z" fill="#ababab" filter="url(#fb1)"/><path d="M517.1 126.0 C520.3 125.6 523.2 126.9 526.2 127.5 C529.3 128.2 532.3 128.6 535.3 129.8 C538.3 131.0 541.5 132.7 544.2 134.6 C547.0 136.4 549.6 138.4 551.7 140.9 C553.9 143.4 555.7 146.8 557.4 149.6 C559.1 152.4 560.4 155.2 561.9 157.5 C563.3 159.7 563.8 161.4 566.2 162.9 C568.5 164.4 572.6 164.9 575.9 166.3 C579.2 167.8 582.6 167.8 585.9 171.5 C589.2 175.2 593.5 182.9 595.9 188.5 C598.3 194.1 598.8 198.7 600.1 205.1 C601.5 211.5 603.1 219.2 604.1 226.9 C605.1 234.6 606.0 243.0 606.2 251.0 C606.4 259.0 606.1 267.5 605.5 275.1 C604.8 282.7 603.7 290.7 602.3 296.8 C600.8 302.9 598.6 305.1 596.8 311.9 C595.0 318.7 593.4 331.9 591.5 337.4 C589.5 342.9 586.3 341.6 585.1 345.0 C583.9 348.3 584.2 352.7 584.1 357.3 C584.0 362.0 584.7 367.2 584.3 373.0 C583.9 378.8 583.2 385.6 581.8 391.9 C580.3 398.1 578.2 404.9 575.5 410.5 C572.9 416.2 569.5 421.3 565.8 425.7 C562.1 430.0 557.5 433.7 553.4 436.6 C549.4 439.4 544.8 438.3 541.7 442.8 C538.6 447.3 537.1 454.6 534.9 463.5 C532.8 472.3 530.9 484.9 529.0 495.6 C527.0 506.4 525.0 517.3 523.3 528.1 C521.7 539.0 520.6 549.7 519.2 560.6 C517.8 571.4 516.4 582.2 514.9 593.0 C513.4 603.8 511.8 615.7 510.3 625.4 C508.7 635.2 506.1 651.4 505.5 651.4 C504.9 651.3 506.2 635.1 506.5 625.4 C506.9 615.6 507.2 603.7 507.4 592.9 C507.7 582.1 507.9 571.4 508.0 560.6 C508.1 549.8 508.2 539.0 508.1 528.3 C507.9 517.6 508.0 507.1 507.3 496.5 C506.6 485.9 505.7 473.0 503.8 464.6 C501.9 456.1 499.7 449.7 495.8 445.6 C491.9 441.5 485.6 443.0 480.5 440.2 C475.3 437.3 469.3 433.6 464.8 428.6 C460.3 423.6 456.7 417.1 453.6 410.4 C450.5 403.6 447.6 395.2 446.2 388.2 C444.8 381.3 444.9 374.5 445.2 368.5 C445.4 362.6 449.2 357.1 447.8 352.6 C446.3 348.0 440.5 348.8 436.5 341.1 C432.6 333.4 426.7 316.6 424.1 306.5 C421.5 296.4 421.4 289.6 420.9 280.4 C420.4 271.1 420.6 260.4 421.3 251.0 C422.0 241.7 422.9 232.7 424.9 224.4 C426.9 216.1 429.7 207.6 433.3 201.3 C437.0 195.0 441.2 191.5 446.7 186.8 C452.3 182.0 461.7 175.9 466.7 172.8 C471.7 169.7 474.1 170.3 476.4 168.2 C478.8 166.0 479.1 163.2 481.0 160.0 C482.9 156.8 485.2 152.6 487.8 148.9 C490.4 145.2 493.5 141.2 496.6 138.0 C499.8 134.8 503.3 131.6 506.7 129.6 C510.1 127.6 513.8 126.3 517.1 126.0 Z" fill="#e3e3e3" filter="url(#fb4)"/><path d="M489.4 164.0 C497.9 158.5 507.2 157.0 515.6 156.0 C524.0 155.0 531.7 156.3 540.0 158.0 C548.3 159.7 560.1 160.8 565.2 166.0 C570.4 171.2 569.3 179.3 570.8 189.0 C572.3 198.7 574.0 211.5 574.3 224.0 C574.6 236.5 574.0 251.5 572.6 264.0 C571.1 276.5 567.6 289.0 565.7 299.0 C563.8 309.0 560.5 314.8 561.1 324.0 C561.8 333.2 567.8 344.0 569.6 354.0 C571.5 364.0 573.1 374.0 572.3 384.0 C571.4 394.0 568.6 405.3 564.7 414.0 C560.8 422.7 554.5 430.7 548.7 436.0 C542.9 441.3 536.3 444.3 529.9 446.0 C523.5 447.7 517.1 447.7 510.3 446.0 C503.4 444.3 495.0 441.3 488.7 436.0 C482.4 430.7 476.2 422.7 472.5 414.0 C468.7 405.3 467.0 394.0 466.0 384.0 C465.0 374.0 465.8 363.7 466.4 354.0 C467.0 344.3 470.7 335.2 469.5 326.0 C468.4 316.8 462.5 309.3 459.5 299.0 C456.4 288.7 452.6 276.5 451.3 264.0 C449.9 251.5 449.1 236.5 451.3 224.0 C453.5 211.5 458.1 199.0 464.5 189.0 C470.8 179.0 480.8 169.5 489.4 164.0 Z" fill="#ababab" opacity="0.55" filter="url(#fb6)"/><path d="M553.6 232.0 C553.6 235.4 553.0 239.0 551.8 242.3 C550.7 245.5 548.9 248.7 546.7 251.3 C544.6 253.9 541.8 256.3 538.9 258.0 C536.0 259.7 532.6 261.0 529.3 261.5 C526.0 262.1 522.8 262.1 519.1 261.5 C515.5 261.0 511.1 259.7 507.4 258.0 C503.7 256.3 499.7 253.9 496.8 251.3 C493.9 248.7 491.5 245.5 489.9 242.3 C488.4 239.0 487.5 235.4 487.5 232.0 C487.5 228.6 488.4 225.0 489.9 221.7 C491.5 218.5 493.9 215.3 496.8 212.7 C499.7 210.1 503.7 207.7 507.4 206.0 C511.1 204.3 515.5 203.0 519.1 202.5 C522.8 201.9 526.1 201.9 529.4 202.5 C532.7 203.0 536.0 204.3 538.9 206.0 C541.8 207.7 544.6 210.1 546.7 212.7 C548.9 215.3 550.7 218.5 551.8 221.7 C553.0 225.0 553.6 228.6 553.6 232.0 Z" fill="#a9a9a9" opacity="0.35" filter="url(#fb6)"/><path d="M525.0 376.0 C525.1 381.9 524.6 388.2 523.7 393.8 C522.8 399.4 521.4 404.9 519.7 409.4 C518.0 414.0 515.9 418.1 513.4 421.0 C511.0 424.0 507.9 426.2 505.0 427.2 C502.1 428.2 498.9 428.2 496.0 427.2 C493.1 426.2 490.1 424.0 487.6 421.0 C485.0 418.1 482.6 414.0 480.7 409.4 C478.8 404.9 477.2 399.4 476.2 393.8 C475.2 388.2 474.7 381.9 474.6 376.0 C474.6 370.1 475.1 363.8 475.9 358.2 C476.7 352.6 477.8 347.1 479.5 342.6 C481.1 338.0 483.4 333.9 485.9 331.0 C488.4 328.0 491.6 325.8 494.6 324.8 C497.7 323.8 501.1 323.8 504.3 324.8 C507.4 325.8 510.8 328.0 513.3 331.0 C515.9 333.9 517.9 338.0 519.6 342.6 C521.3 347.1 522.7 352.6 523.6 358.2 C524.5 363.8 525.0 370.1 525.0 376.0 Z" fill="#e4e4e4" opacity="0.55" filter="url(#fb6)"/><path d="M570.4 376.0 C570.4 381.7 569.9 387.7 569.1 393.1 C568.3 398.5 567.0 403.8 565.5 408.1 C564.0 412.5 562.0 416.5 560.0 419.3 C557.9 422.2 555.5 424.3 553.2 425.2 C550.9 426.2 548.3 426.2 546.0 425.2 C543.7 424.3 541.3 422.2 539.2 419.3 C537.2 416.5 535.2 412.5 533.7 408.1 C532.2 403.8 530.9 398.5 530.1 393.1 C529.3 387.7 528.8 381.7 528.8 376.0 C528.8 370.3 529.3 364.3 530.0 358.9 C530.7 353.5 531.8 348.2 533.1 343.9 C534.4 339.5 536.1 335.5 537.9 332.7 C539.7 329.8 541.8 327.7 543.9 326.8 C546.1 325.8 548.4 325.8 550.7 326.8 C552.9 327.7 555.3 329.8 557.5 332.7 C559.7 335.5 562.0 339.5 563.9 343.9 C565.8 348.2 567.7 353.5 568.8 358.9 C569.9 364.3 570.3 370.3 570.4 376.0 Z" fill="#e4e4e4" opacity="0.55" filter="url(#fb6)"/><path d="M543.7 186.2 C547.3 192.0 561.5 213.7 565.4 221.1 C569.3 228.6 566.8 227.3 567.1 230.7 C567.3 234.2 566.7 238.4 566.6 242.1 C566.6 245.7 566.4 249.2 566.5 252.7 C566.6 256.3 566.9 259.7 567.1 263.2 C567.3 266.8 567.9 270.9 567.7 274.1 C567.6 277.3 567.6 267.2 566.3 282.3 C565.0 297.4 562.5 349.7 560.1 364.6 C557.7 379.5 553.2 370.4 551.8 371.6" fill="none" stroke="#f0f0f0" stroke-width="7" opacity="0.65" filter="url(#fb2)"/><path d="M557.9 372.1 C557.4 373.5 555.9 377.7 554.9 380.4 C553.9 383.1 552.7 385.8 551.7 388.3 C550.7 390.8 549.9 393.1 548.9 395.3 C547.9 397.6 547.0 399.7 545.8 401.7 C544.5 403.7 542.9 405.6 541.3 407.2 C539.8 408.8 537.4 410.5 536.6 411.2" fill="none" stroke="#f0f0f0" stroke-width="7" opacity="0.65" filter="url(#fb2)"/><path d="M500.1 413.9 C498.6 413.0 493.9 410.9 491.5 408.4 C489.1 405.8 487.5 402.3 485.7 398.7 C483.9 395.2 481.9 391.0 480.7 387.2 C479.5 383.5 478.8 379.6 478.6 376.2 C478.5 372.8 479.5 368.4 479.7 366.9" fill="none" stroke="#f0f0f0" stroke-width="7" opacity="0.65" filter="url(#fb2)"/><path d="M482.0 364.6 C479.7 350.4 469.5 296.2 467.8 279.7 C466.1 263.1 470.5 269.8 471.7 265.3 C472.9 260.8 474.6 256.8 475.1 252.8 C475.6 248.9 474.8 245.6 474.7 241.8 C474.7 238.0 474.2 233.4 474.9 230.1 C475.6 226.8 472.8 229.0 478.7 222.1 C484.5 215.2 504.5 194.6 510.1 188.9 C515.6 183.1 511.6 188.2 512.2 187.6 C512.7 187.1 513.0 186.0 513.2 185.7" fill="none" stroke="#f0f0f0" stroke-width="7" opacity="0.65" filter="url(#fb2)"/><path d="M500.9 464.6 C505.7 452.2 532.5 452.2 536.9 464.6 C541.2 476.9 530.3 515.7 526.8 538.6 C523.3 561.6 519.5 581.8 516.0 602.1 C512.4 622.4 506.8 660.3 505.5 660.3 C504.2 660.3 507.6 622.4 508.0 602.1 C508.4 581.8 509.0 561.6 507.8 538.6 C506.7 515.7 496.1 476.9 500.9 464.6 Z" fill="#848484" opacity="0.6" filter="url(#fb4)"/><path d="M519.4 459.3 C518.9 469.0 517.9 499.0 516.7 517.5 C515.6 536.0 514.0 552.7 512.6 570.4 C511.2 588.0 509.6 609.2 508.4 623.3 C507.1 637.4 505.7 649.7 505.2 655.0" fill="none" stroke="#d8d8d8" stroke-width="5" opacity="0.6" filter="url(#fb2)"/><path d="M523.4 159.0 C523.5 171.5 523.8 208.2 524.2 234.0 C524.7 259.8 525.4 287.3 526.0 314.0 C526.6 340.7 527.7 370.7 527.9 394.0 C528.1 417.3 527.3 444.0 527.2 454.0" fill="none" stroke="#ececec" stroke-width="3" opacity="0.35" filter="url(#fb1)"/><ellipse cx="522.5" cy="232.0" rx="5.5" ry="10" fill="#7a7a7a" filter="url(#fb2)"/><path d="M493.4 148.0 C495.1 146.5 499.9 141.0 503.6 139.0 C507.3 137.0 511.6 136.0 515.6 136.0 C519.6 136.0 524.0 137.0 527.6 139.0 C531.2 141.0 535.8 146.5 537.5 148.0" fill="none" stroke="#a0a0a0" stroke-width="2" opacity="0.55" filter="url(#fb1)"/><clipPath id="fc1"><path d="M516.2 116.5 C519.9 116.1 523.1 117.4 526.6 118.0 C530.1 118.7 533.5 119.2 537.0 120.5 C540.4 121.7 544.1 123.6 547.4 125.6 C550.6 127.6 553.5 129.7 556.2 132.5 C558.9 135.2 561.3 139.0 563.5 142.1 C565.7 145.2 567.6 148.4 569.4 151.0 C571.2 153.6 571.9 155.6 574.5 157.5 C577.0 159.3 581.4 160.2 584.9 162.1 C588.3 163.9 592.0 165.2 595.1 168.5 C598.2 171.8 601.5 176.5 603.6 181.8 C605.7 187.0 606.1 192.8 607.5 199.8 C608.9 206.8 610.7 215.3 611.9 223.8 C613.0 232.2 614.1 241.7 614.4 250.7 C614.7 259.6 614.3 269.1 613.4 277.5 C612.6 286.0 611.0 294.7 609.4 301.5 C607.7 308.2 605.5 312.9 603.5 318.0 C601.5 323.0 599.4 328.2 597.4 331.8 C595.3 335.4 592.2 335.9 591.3 339.5 C590.3 343.0 591.2 347.7 591.5 353.0 C591.8 358.2 593.2 364.1 593.0 370.8 C592.9 377.5 592.3 385.6 590.7 393.0 C589.1 400.3 586.6 408.4 583.4 415.1 C580.3 421.7 576.1 427.8 571.8 432.8 C567.4 437.8 562.0 442.0 557.3 445.3 C552.6 448.5 546.9 447.5 543.6 452.1 C540.2 456.8 539.5 464.3 537.1 473.2 C534.8 482.1 531.8 494.8 529.6 505.6 C527.4 516.4 525.6 527.2 523.9 538.1 C522.3 548.9 521.0 559.7 519.5 570.5 C518.0 581.3 516.5 592.1 514.9 603.0 C513.3 613.8 511.6 625.7 510.0 635.4 C508.3 645.2 505.5 661.4 504.8 661.4 C504.0 661.4 505.2 645.1 505.3 635.4 C505.4 625.7 505.5 613.8 505.6 603.0 C505.6 592.1 505.6 581.3 505.5 570.5 C505.4 559.7 505.4 548.9 505.0 538.1 C504.6 527.3 504.0 516.5 503.0 505.8 C502.0 495.0 500.8 482.0 499.0 473.4 C497.3 464.9 496.4 458.7 492.5 454.5 C488.5 450.2 481.0 451.3 475.1 448.0 C469.1 444.6 462.0 440.3 456.9 434.6 C451.7 428.9 447.5 421.5 444.0 413.8 C440.6 406.1 437.4 396.5 436.0 388.6 C434.5 380.6 434.9 372.9 435.2 366.2 C435.5 359.5 439.3 353.3 437.9 348.3 C436.4 343.3 430.3 342.3 426.5 336.2 C422.7 330.2 417.8 320.8 415.1 312.0 C412.4 303.2 411.2 293.7 410.4 283.5 C409.6 273.3 409.5 261.1 410.2 250.7 C410.9 240.2 412.1 230.0 414.7 220.8 C417.2 211.6 421.1 202.3 425.6 195.4 C430.1 188.5 436.1 183.8 441.5 179.5 C446.9 175.1 453.4 171.9 457.9 169.3 C462.3 166.6 465.7 166.0 468.4 163.4 C471.1 160.9 471.8 157.6 474.1 154.0 C476.4 150.3 479.1 145.5 482.2 141.4 C485.3 137.4 488.8 133.0 492.5 129.5 C496.2 126.0 500.4 122.6 504.3 120.4 C508.3 118.3 512.5 116.9 516.2 116.5 Z"/></clipPath><g clip-path="url(#fc1)"><path d="M590.0 164.4L581.7 176.4M593.8 166.8L584.6 178.3M597.2 169.7L586.1 181.3M600.1 173.2L584.4 188.1M602.2 176.3L581.5 193.5M603.9 179.6L578.3 198.3M605.2 183.4L574.8 202.6M606.2 187.6L571.4 207.0M607.1 192.2L568.1 211.4M607.9 197.2L564.6 215.6M608.8 202.5L560.9 219.8M609.9 208.4L561.0 223.2M611.2 214.6L561.9 227.2M612.3 221.1L562.7 232.1M613.0 225.4L563.1 235.0M613.6 229.8L563.6 238.4M614.1 234.4L564.0 241.7M614.6 239.0L564.3 245.0M614.9 243.7L564.6 248.2M615.2 248.3L564.7 251.2M615.3 252.9L564.8 254.0M615.3 257.5L564.8 257.0M615.2 262.2L564.8 260.2M615.1 266.8L564.6 263.4M614.8 271.4L564.5 266.6M614.4 275.8L564.2 269.7M614.0 280.2L563.9 272.5M613.4 284.5L564.3 275.0M612.5 290.8L568.1 280.6M611.3 296.8L571.9 285.6M610.0 302.3L575.7 290.1M608.6 307.1L579.4 294.1M607.0 311.4L582.9 298.4M605.6 315.3L586.1 302.9M603.7 319.9L588.6 308.7M601.6 323.7L590.9 314.2M599.4 327.0L589.7 317.6M596.7 330.8L587.1 321.1M592.9 356.5L583.6 357.1M593.6 361.4L581.8 361.9M594.0 366.7L575.5 366.7M593.9 371.9L568.8 370.8M593.6 377.5L562.0 375.1M593.1 383.3L555.1 378.8M592.3 389.1L550.9 381.5M591.2 394.8L550.4 384.4M589.7 400.6L549.5 387.8M587.9 406.5L548.4 391.2M585.8 412.1L547.3 394.1M583.4 417.3L546.3 396.3M580.7 422.1L545.2 398.2M577.7 426.7L543.9 400.3M574.5 431.0L542.5 402.1M571.1 434.9L541.4 403.4M567.6 438.4L542.7 407.6M563.8 441.7L544.7 414.8M560.0 444.6L545.8 422.5M556.4 447.1L546.9 430.1M552.4 449.2L546.9 437.9M548.4 451.1L544.4 441.8M487.5 453.9L490.5 444.4M482.7 452.3L486.7 441.2M477.6 450.3L485.8 433.6M472.9 447.9L486.7 426.3M468.1 445.0L487.8 419.0M463.3 441.7L489.9 412.0M458.8 438.0L493.1 407.0M454.8 433.8L492.7 406.5M451.2 429.0L491.7 405.2M447.9 423.7L490.2 402.7M444.9 418.0L488.5 399.4M442.1 412.1L486.6 395.4M440.5 408.0L485.7 393.2M438.9 403.6L484.7 390.3M437.5 399.1L483.7 387.3M436.3 394.7L482.9 384.4M435.3 390.5L482.5 382.6M434.3 384.4L475.8 380.0M433.8 378.5L468.3 377.3M433.8 372.9L461.1 373.4M434.0 367.5L454.1 369.1M434.5 362.3L447.3 364.3M435.3 357.1L446.0 359.4M422.3 329.1L436.2 324.5M419.1 323.6L433.4 319.2M416.0 317.3L433.7 312.8M414.5 313.1L439.2 308.1M413.3 308.8L445.0 303.4M412.3 304.2L450.9 298.5M411.4 299.4L456.9 293.6M410.6 294.5L463.0 288.8M409.9 289.4L469.3 284.3M409.4 284.2L475.7 280.0M409.0 278.8L477.3 275.9M408.7 273.2L477.1 271.5M408.6 267.5L477.0 266.9M408.6 261.8L477.0 262.4M408.7 256.1L477.1 258.0M409.0 250.6L477.3 253.9M409.5 245.3L477.7 249.9M410.0 240.1L478.1 246.1M410.7 234.9L478.6 242.4M411.5 229.9L479.1 238.9M412.5 225.0L479.8 235.7M413.7 220.2L480.5 232.9M415.0 215.5L481.2 230.1M416.5 210.9L482.1 227.4M418.2 206.4L483.1 224.7M420.2 202.1L482.0 222.3M423.8 196.2L477.1 216.9M427.7 191.2L471.8 213.0M431.7 186.8L466.8 208.9M435.8 183.0L462.7 203.9M439.8 179.6L459.3 198.7M445.1 175.8L457.7 192.5M450.2 172.8L457.7 186.0M455.1 170.2L461.2 181.4M459.5 167.7L465.7 178.9" stroke="#999999" stroke-width="1.1" opacity="0.36" fill="none"/><path d="M591.9 165.5L583.3 177.4M595.6 168.2L585.9 179.3M598.7 171.4L586.9 182.8M601.5 175.2L584.9 189.8M603.3 178.5L581.6 194.9M604.8 182.1L578.1 199.7M605.9 186.2L574.6 204.3M606.9 190.6L571.1 208.9M607.7 195.5L567.6 213.4M608.5 200.7L563.9 217.7M609.5 206.4L560.8 222.1M610.8 212.5L561.6 225.8M611.9 218.9L562.5 230.5M612.6 223.2L562.9 233.4M613.3 227.6L563.4 236.7M613.8 232.1L563.8 240.0M614.3 236.7L564.2 243.4M614.8 241.4L564.5 246.6M615.1 246.0L564.7 249.7M615.3 250.6L564.8 252.6M615.3 255.2L564.8 255.5M615.3 259.8L564.8 258.6M615.2 264.5L564.7 261.8M614.9 269.1L564.6 265.0M614.6 273.6L564.3 268.2M614.2 278.0L564.1 270.7M613.4 284.5L563.6 275.3M612.5 290.8L566.9 280.3M611.3 296.8L570.9 285.3M610.0 302.3L574.8 289.8M608.6 307.1L578.6 293.8M607.0 311.4L582.2 298.0M605.6 315.3L585.6 302.6M603.7 319.9L588.2 308.3M601.6 323.7L590.6 313.9M599.4 327.0L589.7 317.6M596.7 330.8L587.1 321.1M593.3 359.7L584.0 360.2M593.9 364.9L581.5 365.1M593.9 370.2L574.6 369.6M593.7 375.6L567.5 373.9M593.3 381.3L560.3 378.0M592.6 387.2L553.0 380.9M591.6 392.9L550.6 383.4M590.3 398.7L549.8 386.6M588.5 404.5L548.8 390.1M586.5 410.3L547.7 393.2M584.2 415.6L546.7 395.6M581.6 420.5L545.6 397.6M578.7 425.2L544.4 399.6M575.6 429.6L543.0 401.6M572.3 433.6L541.7 403.1M568.8 437.3L542.0 405.7M565.1 440.6L544.6 412.9M561.3 443.6L546.1 420.8M557.6 446.3L547.3 428.7M553.8 448.5L547.8 436.8M549.7 450.5L545.6 441.3M484.3 452.8L487.5 443.4M479.3 451.0L484.0 440.1M474.4 448.7L483.8 432.6M469.7 446.0L484.7 425.1M464.9 442.8L486.1 417.7M460.2 439.3L489.0 411.3M456.0 435.2L492.9 406.7M452.3 430.6L492.1 405.8M448.9 425.5L490.7 403.6M445.8 419.9L489.0 400.6M443.0 414.1L487.2 396.7M441.3 410.1L486.3 394.5M439.7 405.8L485.2 391.7M438.2 401.3L484.2 388.8M436.8 396.9L483.3 385.8M435.7 392.6L482.7 383.7M434.5 386.4L482.0 380.2M433.9 380.5L475.6 378.0M433.7 374.7L468.3 374.8M433.9 369.2L461.2 370.8M434.3 364.1L454.3 366.6M435.0 358.8L447.8 361.4M435.9 353.7L446.7 356.4M421.2 327.4L435.3 322.8M418.0 321.5L432.5 317.3M416.0 317.3L433.7 313.0M414.5 313.1L439.2 308.1M413.3 308.8L445.0 303.4M412.3 304.2L450.9 298.5M411.4 299.4L456.9 293.6M410.6 294.5L463.0 288.8M409.9 289.4L469.3 284.3M409.4 284.2L475.7 280.0M409.0 278.8L477.3 275.9M408.7 273.2L477.1 271.5M408.6 267.5L477.0 266.9M408.6 261.8L477.0 262.4M408.7 256.1L477.1 258.0M409.0 250.6L477.3 253.9M409.5 245.3L477.7 249.9M410.0 240.1L478.1 246.1M410.7 234.9L478.6 242.4M411.5 229.9L479.1 238.9M412.5 225.0L479.8 235.7M413.7 220.2L480.5 232.9M415.0 215.5L481.2 230.1M416.5 210.9L482.1 227.4M418.2 206.4L483.1 224.7M420.2 202.1L482.0 222.3M423.8 196.2L477.1 216.9M427.7 191.2L471.8 213.0M431.7 186.8L466.8 208.9M435.8 183.0L462.7 203.9M439.8 179.6L459.3 198.7M445.1 175.8L457.7 192.5M450.2 172.8L457.7 186.0M455.1 170.2L461.2 181.4M459.5 167.7L465.7 178.9" stroke="#ffffff" stroke-width="1.3" opacity="0.38" fill="none"/></g><path d="M528.2 515.9h1.6M523.3 497.9h1.6M510.2 490.5h1.6M502.0 654.9h1.6M511.6 590.6h1.6M511.9 556.7h1.6M525.5 509.7h1.6M509.8 491.3h1.6M511.1 478.8h1.6M521.8 548.5h1.6M504.5 543.3h1.6M528.2 521.6h1.6M521.8 486.5h1.6M517.1 543.0h1.6M518.7 536.0h1.6M514.2 564.6h1.6M507.4 637.3h1.6M504.5 500.7h1.6M505.4 645.3h1.6M528.7 510.0h1.6M517.8 579.3h1.6M504.7 633.6h1.6M522.7 539.3h1.6M524.9 499.4h1.6M523.4 492.7h1.6M517.9 601.4h1.6M508.0 626.9h1.6M506.7 510.7h1.6M510.8 570.2h1.6M530.3 488.0h1.6M515.0 566.4h1.6M509.1 514.7h1.6M513.6 477.3h1.6M513.3 523.1h1.6M521.1 542.9h1.6M503.4 635.5h1.6M505.5 546.4h1.6M519.5 594.4h1.6M523.5 511.5h1.6M502.6 529.1h1.6M507.5 612.6h1.6M514.9 505.8h1.6M513.4 516.8h1.6M510.4 555.4h1.6M509.6 581.0h1.6M505.3 492.3h1.6M518.2 494.3h1.6M520.9 539.9h1.6M515.2 566.0h1.6M501.1 651.4h1.6M507.1 478.2h1.6M514.9 544.6h1.6M508.0 608.9h1.6M500.7 648.7h1.6M504.7 625.5h1.6M502.1 632.6h1.6M507.3 648.7h1.6M505.1 653.3h1.6M529.7 507.1h1.6M503.3 554.6h1.6M513.0 584.0h1.6M504.5 560.3h1.6M519.7 497.1h1.6M504.1 556.6h1.6M517.2 554.2h1.6M510.3 603.8h1.6M510.0 546.0h1.6M507.8 515.7h1.6M503.8 555.4h1.6M513.6 605.6h1.6M504.7 585.1h1.6M512.1 540.6h1.6M531.8 491.9h1.6M509.9 611.1h1.6M506.5 602.0h1.6M516.5 516.4h1.6M512.2 609.0h1.6M522.3 476.4h1.6M508.9 638.6h1.6M510.6 642.0h1.6M510.5 515.4h1.6M523.3 573.6h1.6M523.8 541.6h1.6M507.9 628.1h1.6M520.4 587.6h1.6M506.6 616.0h1.6M504.3 627.3h1.6M524.2 541.7h1.6M505.7 627.5h1.6M517.7 527.4h1.6M510.1 626.7h1.6M507.9 643.5h1.6M509.7 622.8h1.6M512.0 540.3h1.6M511.9 563.3h1.6M505.3 625.9h1.6M525.2 487.5h1.6M513.1 523.9h1.6M527.1 496.2h1.6M509.8 524.4h1.6M508.9 619.8h1.6M525.0 525.0h1.6M509.7 549.2h1.6M507.6 648.8h1.6M506.6 609.6h1.6M509.8 621.4h1.6M506.6 624.4h1.6M513.2 615.6h1.6M516.7 544.9h1.6M515.9 615.5h1.6" stroke="#6a6a6a" stroke-width="1.8" opacity="0.55"/></g>
</g>
<g clip-path="url(#cf2)">
<g><path d="M815.4 103.0 C819.2 102.6 822.5 103.9 826.1 104.5 C829.7 105.2 833.3 105.7 836.8 107.0 C840.4 108.3 844.2 110.2 847.6 112.2 C850.9 114.3 854.0 116.5 856.8 119.3 C859.6 122.1 862.0 125.9 864.4 129.1 C866.9 132.3 869.1 135.6 871.2 138.3 C873.3 141.0 874.4 143.1 877.3 145.1 C880.3 147.0 885.0 148.0 889.0 150.0 C893.0 151.9 897.2 153.5 901.3 156.7 C905.4 159.9 910.0 163.9 913.5 169.0 C917.1 174.1 920.2 180.2 922.7 187.4 C925.3 194.6 927.4 203.2 928.9 211.9 C930.4 220.6 931.6 230.4 932.0 239.6 C932.3 248.8 931.7 258.5 930.7 267.2 C929.7 275.9 927.9 284.8 925.8 291.7 C923.7 298.6 921.0 304.0 918.1 308.6 C915.3 313.2 911.9 316.3 908.9 319.3 C906.0 322.4 902.3 323.4 900.7 327.0 C899.0 330.6 899.0 335.4 898.8 340.8 C898.6 346.2 899.7 352.3 899.4 359.2 C899.1 366.1 898.7 374.6 897.0 382.2 C895.2 389.9 892.5 398.3 889.0 405.3 C885.5 412.2 881.0 418.4 876.1 423.7 C871.2 428.9 865.1 433.2 859.8 436.6 C854.6 439.9 848.1 439.1 844.5 443.6 C840.9 448.1 840.1 455.1 838.1 463.6 C836.0 472.0 833.7 484.0 832.2 494.2 C830.8 504.5 830.1 514.7 829.5 524.9 C828.8 535.1 828.6 545.4 828.2 555.6 C827.9 565.8 827.6 576.1 827.3 586.3 C827.0 596.5 826.9 607.8 826.4 617.0 C825.9 626.2 825.4 641.5 824.6 641.5 C823.7 641.5 822.7 626.2 821.5 617.0 C820.3 607.8 818.8 596.5 817.5 586.3 C816.2 576.1 814.8 565.8 813.5 555.6 C812.2 545.4 811.1 535.1 809.5 524.9 C808.0 514.7 806.2 504.5 804.3 494.2 C802.4 484.0 800.2 471.6 798.2 463.6 C796.1 455.5 795.8 449.8 792.0 445.8 C788.2 441.7 781.0 442.4 775.5 439.0 C769.9 435.6 763.4 431.1 758.6 425.2 C753.7 419.3 749.6 411.6 746.3 403.7 C743.0 395.8 740.0 385.8 738.6 377.6 C737.3 369.5 737.4 361.5 738.0 354.6 C738.6 347.7 743.0 341.3 742.3 336.2 C741.7 331.1 736.6 329.6 734.0 323.9 C731.5 318.3 728.9 310.9 727.0 302.5 C725.1 294.0 723.5 283.8 722.7 273.3 C721.9 262.8 721.8 250.3 722.4 239.6 C723.0 228.8 724.3 218.3 726.4 208.9 C728.5 199.4 731.6 189.8 735.0 182.8 C738.3 175.7 742.4 170.8 746.3 166.5 C750.3 162.3 755.0 159.9 758.6 157.3 C762.2 154.8 765.5 153.8 767.8 151.2 C770.1 148.5 770.3 145.2 772.4 141.4 C774.4 137.6 777.0 132.7 780.1 128.5 C783.1 124.3 787.0 119.8 790.8 116.2 C794.6 112.6 799.0 109.2 803.1 107.0 C807.2 104.8 811.5 103.4 815.4 103.0 Z" fill="#ababab" filter="url(#fb1)"/><path d="M816.5 115.0 C819.7 114.6 822.6 115.9 825.6 116.5 C828.7 117.2 831.7 117.6 834.7 118.8 C837.7 120.0 840.9 121.7 843.6 123.6 C846.4 125.4 848.9 127.4 851.2 129.9 C853.4 132.4 855.3 135.8 857.1 138.6 C859.0 141.4 860.7 144.2 862.4 146.5 C864.1 148.7 864.9 150.4 867.5 151.9 C870.1 153.4 874.5 153.9 878.3 155.3 C882.0 156.8 885.4 156.8 889.9 160.5 C894.4 164.2 901.3 171.9 905.1 177.5 C908.9 183.1 910.7 187.7 912.8 194.1 C914.9 200.5 916.4 208.2 917.6 215.9 C918.8 223.6 919.7 232.0 920.0 240.0 C920.2 248.0 919.9 256.5 919.1 264.1 C918.4 271.7 917.1 279.7 915.4 285.8 C913.7 291.9 911.6 294.1 909.0 300.9 C906.3 307.7 902.3 320.9 899.3 326.4 C896.2 331.9 892.7 330.6 890.9 334.0 C889.0 337.3 888.7 341.7 888.2 346.3 C887.6 351.0 888.3 356.2 887.8 362.0 C887.2 367.8 886.6 374.6 885.0 380.9 C883.5 387.1 881.3 393.9 878.4 399.5 C875.6 405.2 872.0 410.3 868.2 414.7 C864.3 419.0 859.3 422.7 855.0 425.6 C850.8 428.4 845.9 427.4 842.5 431.8 C839.2 436.2 837.0 443.5 835.0 451.9 C833.0 460.4 831.8 472.2 830.5 482.4 C829.3 492.6 828.2 502.9 827.5 513.1 C826.9 523.3 826.9 533.5 826.6 543.7 C826.3 553.9 826.1 564.2 825.9 574.4 C825.6 584.6 825.5 595.8 825.2 605.0 C824.8 614.2 824.4 629.6 823.8 629.5 C823.1 629.5 822.3 614.2 821.4 605.0 C820.5 595.8 819.4 584.5 818.4 574.3 C817.4 564.1 816.4 553.9 815.3 543.7 C814.3 533.6 813.3 523.3 812.3 513.2 C811.2 503.1 810.3 493.2 808.9 483.1 C807.5 473.1 805.9 461.1 803.8 453.0 C801.8 444.9 800.0 438.6 796.4 434.6 C792.9 430.6 787.1 432.0 782.3 429.2 C777.6 426.3 772.0 422.6 767.9 417.6 C763.7 412.6 760.4 406.1 757.5 399.4 C754.6 392.6 751.9 384.2 750.6 377.2 C749.3 370.3 749.3 363.5 749.7 357.5 C750.1 351.6 753.9 346.1 753.1 341.6 C752.2 337.0 747.1 337.8 744.4 330.1 C741.6 322.4 738.5 305.6 736.7 295.5 C735.0 285.4 734.4 278.6 734.0 269.4 C733.6 260.1 733.8 249.4 734.4 240.0 C734.9 230.7 735.8 221.7 737.5 213.4 C739.1 205.1 741.6 196.6 744.3 190.3 C747.1 184.0 749.8 180.5 754.0 175.8 C758.2 171.0 765.7 164.9 769.7 161.8 C773.8 158.7 776.2 159.3 778.2 157.2 C780.2 155.0 780.1 152.2 781.7 149.0 C783.2 145.8 785.1 141.6 787.5 137.9 C789.9 134.2 792.9 130.2 796.0 127.0 C799.1 123.8 802.7 120.6 806.1 118.6 C809.5 116.6 813.2 115.3 816.5 115.0 Z" fill="#e3e3e3" filter="url(#fb4)"/><path d="M790.0 153.0 C797.5 147.5 806.7 146.0 815.0 145.0 C823.3 144.0 831.3 145.3 840.0 147.0 C848.7 148.7 860.8 149.8 867.0 155.0 C873.2 160.2 874.3 168.3 877.0 178.0 C879.7 187.7 882.3 200.5 883.0 213.0 C883.7 225.5 882.7 240.5 881.0 253.0 C879.3 265.5 875.3 278.0 873.0 288.0 C870.7 298.0 867.0 303.8 867.0 313.0 C867.0 322.2 871.7 333.0 873.0 343.0 C874.3 353.0 876.0 363.0 875.0 373.0 C874.0 383.0 871.2 394.3 867.0 403.0 C862.8 411.7 856.2 419.7 850.0 425.0 C843.8 430.3 836.7 433.3 830.0 435.0 C823.3 436.7 816.7 436.7 810.0 435.0 C803.3 433.3 795.8 430.3 790.0 425.0 C784.2 419.7 778.5 411.7 775.0 403.0 C771.5 394.3 769.8 383.0 769.0 373.0 C768.2 363.0 769.0 352.7 770.0 343.0 C771.0 333.3 775.5 324.2 775.0 315.0 C774.5 305.8 769.5 298.3 767.0 288.0 C764.5 277.7 761.2 265.5 760.0 253.0 C758.8 240.5 758.3 225.5 760.0 213.0 C761.7 200.5 765.0 188.0 770.0 178.0 C775.0 168.0 782.5 158.5 790.0 153.0 Z" fill="#ababab" opacity="0.55" filter="url(#fb6)"/><path d="M859.0 221.0 C859.0 224.4 858.3 228.0 856.9 231.3 C855.6 234.5 853.5 237.7 851.0 240.3 C848.6 242.9 845.4 245.3 842.0 247.0 C838.6 248.7 834.7 250.0 830.9 250.5 C827.1 251.1 822.9 251.1 819.1 250.5 C815.3 250.0 811.4 248.7 808.0 247.0 C804.6 245.3 801.4 242.9 799.0 240.3 C796.5 237.7 794.4 234.5 793.1 231.3 C791.7 228.0 791.0 224.4 791.0 221.0 C791.0 217.6 791.7 214.0 793.1 210.7 C794.4 207.5 796.5 204.3 799.0 201.7 C801.4 199.1 804.6 196.7 808.0 195.0 C811.4 193.3 815.3 192.0 819.1 191.5 C822.9 190.9 827.1 190.9 830.9 191.5 C834.7 192.0 838.6 193.3 842.0 195.0 C845.4 196.7 848.6 199.1 851.0 201.7 C853.5 204.3 855.6 207.5 856.9 210.7 C858.3 214.0 859.0 217.6 859.0 221.0 Z" fill="#a9a9a9" opacity="0.35" filter="url(#fb6)"/><path d="M825.0 365.0 C825.0 370.9 824.5 377.2 823.6 382.8 C822.6 388.4 821.1 393.9 819.4 398.4 C817.6 403.0 815.4 407.1 813.0 410.0 C810.6 413.0 807.9 415.2 805.2 416.2 C802.5 417.2 799.5 417.2 796.8 416.2 C794.1 415.2 791.4 413.0 789.0 410.0 C786.6 407.1 784.4 403.0 782.6 398.4 C780.9 393.9 779.4 388.4 778.4 382.8 C777.5 377.2 777.0 370.9 777.0 365.0 C777.0 359.1 777.5 352.8 778.4 347.2 C779.4 341.6 780.9 336.1 782.6 331.6 C784.4 327.0 786.6 322.9 789.0 320.0 C791.4 317.0 794.1 314.8 796.8 313.8 C799.5 312.8 802.5 312.8 805.2 313.8 C807.9 314.8 810.6 317.0 813.0 320.0 C815.4 322.9 817.6 327.0 819.4 331.6 C821.1 336.1 822.6 341.6 823.6 347.2 C824.5 352.8 825.0 359.1 825.0 365.0 Z" fill="#e4e4e4" opacity="0.55" filter="url(#fb6)"/><path d="M873.0 365.0 C873.0 370.7 872.5 376.7 871.7 382.1 C870.8 387.5 869.5 392.8 867.9 397.1 C866.2 401.5 864.2 405.5 862.0 408.3 C859.8 411.2 857.3 413.3 854.8 414.2 C852.4 415.2 849.6 415.2 847.2 414.2 C844.7 413.3 842.2 411.2 840.0 408.3 C837.8 405.5 835.8 401.5 834.1 397.1 C832.5 392.8 831.2 387.5 830.3 382.1 C829.5 376.7 829.0 370.7 829.0 365.0 C829.0 359.3 829.5 353.3 830.3 347.9 C831.2 342.5 832.5 337.2 834.1 332.9 C835.8 328.5 837.8 324.5 840.0 321.7 C842.2 318.8 844.7 316.7 847.2 315.8 C849.6 314.8 852.4 314.8 854.8 315.8 C857.3 316.7 859.8 318.8 862.0 321.7 C864.2 324.5 866.2 328.5 867.9 332.9 C869.5 337.2 870.8 342.5 871.7 347.9 C872.5 353.3 873.0 359.3 873.0 365.0 Z" fill="#e4e4e4" opacity="0.55" filter="url(#fb6)"/><path d="M846.3 175.2 C850.7 181.0 867.9 202.7 872.7 210.1 C877.4 217.6 874.4 216.3 874.6 219.7 C874.9 223.2 874.2 227.4 874.1 231.1 C874.0 234.7 873.9 238.2 874.0 241.7 C874.1 245.3 874.5 248.7 874.7 252.2 C874.9 255.8 875.5 259.9 875.4 263.1 C875.2 266.3 875.9 256.2 873.7 271.3 C871.5 286.4 865.6 338.7 862.2 353.6 C858.8 368.5 854.8 359.4 853.3 360.6" fill="none" stroke="#f0f0f0" stroke-width="7" opacity="0.65" filter="url(#fb2)"/><path d="M859.8 361.1 C859.2 362.5 857.7 366.7 856.6 369.4 C855.5 372.1 854.3 374.8 853.3 377.3 C852.2 379.8 851.3 382.1 850.3 384.3 C849.2 386.6 848.3 388.7 846.9 390.7 C845.6 392.7 843.9 394.6 842.3 396.2 C840.6 397.8 838.1 399.5 837.2 400.2" fill="none" stroke="#f0f0f0" stroke-width="7" opacity="0.65" filter="url(#fb2)"/><path d="M800.6 402.9 C799.3 402.0 794.9 399.9 792.7 397.4 C790.4 394.8 789.0 391.3 787.3 387.7 C785.6 384.2 783.7 380.0 782.6 376.2 C781.5 372.5 780.9 368.6 780.7 365.2 C780.6 361.8 781.5 357.4 781.7 355.9" fill="none" stroke="#f0f0f0" stroke-width="7" opacity="0.65" filter="url(#fb2)"/><path d="M783.9 353.6 C782.3 339.4 775.2 285.2 774.1 268.7 C773.1 252.1 776.4 258.8 777.5 254.3 C778.5 249.8 779.9 245.8 780.3 241.8 C780.8 237.9 780.1 234.6 780.1 230.8 C780.0 227.0 779.6 222.4 780.2 219.1 C780.8 215.8 778.4 218.0 783.4 211.1 C788.4 204.2 805.4 183.6 810.1 177.9 C814.9 172.1 811.5 177.2 812.0 176.6 C812.4 176.1 812.7 175.0 812.9 174.7" fill="none" stroke="#f0f0f0" stroke-width="7" opacity="0.65" filter="url(#fb2)"/><path d="M801.0 453.0 C805.0 441.3 831.8 441.3 837.0 453.0 C842.2 464.7 833.5 501.3 832.0 523.0 C830.5 544.7 829.2 563.8 828.0 583.0 C826.8 602.2 826.3 638.0 825.0 638.0 C823.7 638.0 822.0 602.2 820.0 583.0 C818.0 563.8 816.2 544.7 813.0 523.0 C809.8 501.3 797.0 464.7 801.0 453.0 Z" fill="#848484" opacity="0.6" filter="url(#fb4)"/><path d="M819.0 448.0 C819.2 457.2 819.7 485.5 820.0 503.0 C820.3 520.5 820.5 536.3 821.0 553.0 C821.5 569.7 822.5 589.7 823.0 603.0 C823.5 616.3 823.8 628.0 824.0 633.0" fill="none" stroke="#d8d8d8" stroke-width="5" opacity="0.6" filter="url(#fb2)"/><path d="M823.0 148.0 C823.3 160.5 824.3 197.2 825.0 223.0 C825.7 248.8 826.5 276.3 827.0 303.0 C827.5 329.7 828.0 359.7 828.0 383.0 C828.0 406.3 827.2 433.0 827.0 443.0" fill="none" stroke="#ececec" stroke-width="3" opacity="0.35" filter="url(#fb1)"/><ellipse cx="823.0" cy="221.0" rx="5.5" ry="10" fill="#7a7a7a" filter="url(#fb2)"/><path d="M793.0 137.0 C794.7 135.5 799.3 130.0 803.0 128.0 C806.7 126.0 811.0 125.0 815.0 125.0 C819.0 125.0 823.3 126.0 827.0 128.0 C830.7 130.0 835.3 135.5 837.0 137.0" fill="none" stroke="#a0a0a0" stroke-width="2" opacity="0.55" filter="url(#fb1)"/><clipPath id="fc2"><path d="M815.6 105.5 C819.3 105.1 822.5 106.4 826.0 107.0 C829.5 107.7 832.9 108.2 836.4 109.5 C839.8 110.7 843.5 112.6 846.8 114.6 C850.0 116.6 852.9 118.7 855.6 121.5 C858.3 124.2 860.6 128.0 862.9 131.1 C865.2 134.2 867.3 137.4 869.4 140.0 C871.4 142.6 872.4 144.6 875.3 146.5 C878.2 148.3 882.8 149.2 886.8 151.1 C890.7 152.9 894.7 154.2 898.9 157.5 C903.1 160.8 908.2 165.5 911.8 170.8 C915.4 176.0 918.2 181.8 920.7 188.8 C923.1 195.8 925.1 204.3 926.5 212.8 C928.0 221.2 929.2 230.7 929.5 239.7 C929.8 248.6 929.3 258.1 928.3 266.5 C927.3 275.0 925.7 283.7 923.6 290.5 C921.6 297.2 919.0 301.9 916.2 307.0 C913.4 312.0 909.9 317.2 906.9 320.8 C904.0 324.4 900.3 324.9 898.6 328.5 C896.9 332.0 896.9 336.7 896.6 342.0 C896.3 347.2 897.3 353.1 897.0 359.8 C896.6 366.5 896.2 374.6 894.5 382.0 C892.8 389.3 890.1 397.4 886.8 404.1 C883.5 410.7 879.1 416.8 874.4 421.8 C869.8 426.8 863.9 431.0 858.8 434.3 C853.8 437.5 847.7 436.7 844.1 441.1 C840.5 445.6 839.5 452.7 837.4 461.1 C835.4 469.6 833.3 481.5 831.9 491.8 C830.5 502.0 829.7 512.2 829.1 522.5 C828.4 532.7 828.2 542.9 827.9 553.1 C827.6 563.4 827.3 573.6 827.0 583.8 C826.7 594.0 826.6 605.3 826.1 614.5 C825.7 623.7 825.2 639.0 824.4 639.0 C823.6 639.0 822.6 623.7 821.5 614.5 C820.4 605.3 819.0 594.0 817.7 583.8 C816.4 573.6 815.2 563.4 813.9 553.1 C812.6 542.9 811.5 532.7 810.1 522.5 C808.7 512.3 807.1 502.1 805.3 491.9 C803.5 481.7 801.4 469.4 799.4 461.4 C797.3 453.3 796.7 447.5 793.0 443.4 C789.2 439.4 782.3 440.3 776.9 437.0 C771.5 433.7 765.2 429.3 760.5 423.6 C755.8 417.9 751.9 410.5 748.6 402.8 C745.4 395.1 742.5 385.5 741.1 377.6 C739.8 369.6 739.9 361.9 740.5 355.2 C741.0 348.5 745.3 342.3 744.6 337.3 C743.9 332.3 738.8 331.3 736.2 325.2 C733.6 319.2 730.9 309.8 729.0 301.0 C727.2 292.2 725.7 282.7 725.0 272.5 C724.4 262.3 724.3 250.1 724.9 239.7 C725.5 229.2 726.7 219.0 728.7 209.8 C730.7 200.6 733.7 191.3 736.9 184.4 C740.1 177.5 743.9 172.8 747.9 168.5 C751.9 164.1 757.2 160.9 760.9 158.3 C764.6 155.6 767.7 155.0 770.0 152.4 C772.2 149.9 772.4 146.6 774.3 143.0 C776.3 139.3 778.7 134.5 781.6 130.4 C784.5 126.4 788.2 122.0 791.9 118.5 C795.6 115.0 799.8 111.6 803.7 109.4 C807.7 107.3 811.9 105.9 815.6 105.5 Z"/></clipPath><g clip-path="url(#fc2)"><path d="M892.6 153.4L886.5 165.4M897.1 155.8L890.1 167.3M901.4 158.7L892.4 170.3M905.5 162.2L892.0 177.1M908.6 165.3L889.9 182.5M911.4 168.6L886.9 187.3M914.0 172.4L883.3 191.6M916.4 176.6L879.7 196.0M918.7 181.2L875.8 200.4M920.7 186.2L871.7 204.6M922.6 191.5L867.5 208.8M924.2 197.4L867.6 212.2M925.7 203.6L868.6 216.2M927.0 210.1L869.6 221.1M927.8 214.4L870.1 224.0M928.5 218.8L870.6 227.4M929.1 223.4L871.1 230.7M929.6 228.0L871.4 234.0M930.1 232.7L871.7 237.2M930.4 237.3L871.9 240.2M930.5 241.9L872.0 243.0M930.5 246.5L872.0 246.0M930.4 251.2L872.0 249.2M930.2 255.8L871.8 252.4M929.9 260.4L871.6 255.6M929.5 264.8L871.3 258.7M929.0 269.2L871.0 261.5M928.3 273.5L871.4 264.0M927.2 279.8L875.9 269.6M925.9 285.8L880.3 274.6M924.4 291.3L884.6 279.1M922.7 296.1L888.9 283.1M920.9 300.4L893.0 287.4M918.9 304.3L896.7 291.9M916.2 308.9L899.6 297.7M913.2 312.7L902.1 303.2M910.1 316.0L900.4 306.6M906.4 319.8L897.0 310.1M897.6 345.5L887.6 346.1M897.9 350.4L885.4 350.9M898.0 355.7L878.5 355.7M897.8 360.9L871.4 359.8M897.5 366.5L864.1 364.1M897.1 372.3L856.8 367.8M896.3 378.1L852.4 370.5M895.1 383.8L851.8 373.4M893.5 389.6L850.9 376.8M891.5 395.5L849.7 380.2M889.3 401.1L848.6 383.1M886.8 406.3L847.5 385.3M883.9 411.1L846.4 387.2M880.8 415.7L845.0 389.3M877.4 420.0L843.5 391.1M873.8 423.9L842.3 392.4M869.9 427.4L843.7 396.6M865.8 430.7L845.8 403.8M861.7 433.6L847.0 411.5M857.7 436.1L848.1 419.1M853.5 438.2L848.1 426.9M849.2 440.1L845.3 430.8M788.2 442.9L791.6 433.4M783.8 441.3L788.1 430.2M779.1 439.3L787.4 422.6M774.8 436.9L788.2 415.3M770.6 434.0L789.2 408.0M766.3 430.7L791.2 401.0M762.2 427.0L794.1 396.0M758.6 422.8L793.8 395.5M755.3 418.0L792.9 394.2M752.2 412.7L791.4 391.7M749.4 407.0L789.8 388.4M746.9 401.1L788.1 384.4M745.3 397.0L787.3 382.2M743.9 392.6L786.3 379.3M742.6 388.1L785.4 376.3M741.4 383.7L784.7 373.4M740.5 379.5L784.3 371.6M739.6 373.4L778.1 369.0M739.1 367.5L771.2 366.3M739.1 361.9L764.4 362.4M739.4 356.5L757.9 358.1M740.0 351.3L751.7 353.3M741.1 346.1L750.9 348.4M733.5 318.1L746.2 313.5M731.5 312.6L744.3 308.2M729.5 306.3L744.9 301.8M728.4 302.1L749.7 297.1M727.5 297.8L754.7 292.4M726.7 293.2L759.7 287.5M725.9 288.4L764.8 282.6M725.2 283.5L770.0 277.8M724.6 278.4L775.4 273.3M724.2 273.2L780.9 269.0M723.9 267.8L782.3 264.9M723.6 262.2L782.1 260.5M723.5 256.5L782.0 255.9M723.5 250.8L782.0 251.4M723.6 245.1L782.1 247.0M723.9 239.6L782.3 242.9M724.2 234.3L782.6 238.9M724.7 229.1L782.9 235.1M725.3 223.9L783.3 231.4M726.0 218.9L783.8 227.9M726.9 214.0L784.4 224.7M727.8 209.2L784.9 221.9M729.0 204.5L785.6 219.1M730.2 199.9L786.4 216.4M731.6 195.4L787.2 213.7M733.1 191.1L786.2 211.3M735.5 185.2L782.1 205.9M738.0 180.2L777.6 202.0M740.7 175.8L773.2 197.9M743.5 172.0L769.7 192.9M746.4 168.6L766.5 187.7M750.4 164.8L764.4 181.5M754.5 161.8L763.6 175.0M758.5 159.2L766.0 170.4M762.2 156.7L769.7 167.9" stroke="#999999" stroke-width="1.1" opacity="0.36" fill="none"/><path d="M894.8 154.5L888.5 166.4M899.4 157.2L891.7 168.3M903.4 160.4L893.6 171.8M907.6 164.2L893.0 178.8M910.5 167.5L890.2 183.9M913.2 171.1L886.8 188.7M915.6 175.2L883.2 193.3M917.9 179.6L879.3 197.9M920.0 184.5L875.2 202.4M922.0 189.7L871.0 206.7M923.7 195.4L867.3 211.1M925.2 201.5L868.3 214.8M926.6 207.9L869.3 219.5M927.4 212.2L869.8 222.4M928.1 216.6L870.3 225.7M928.8 221.1L870.8 229.0M929.4 225.7L871.3 232.4M929.9 230.4L871.6 235.6M930.2 235.0L871.8 238.7M930.5 239.6L872.0 241.6M930.5 244.2L872.0 244.5M930.5 248.8L872.0 247.6M930.3 253.5L871.9 250.8M930.1 258.1L871.7 254.0M929.7 262.6L871.5 257.2M929.2 267.0L871.2 259.7M928.3 273.5L870.6 264.3M927.2 279.8L874.5 269.3M925.9 285.8L879.0 274.3M924.4 291.3L883.5 278.8M922.7 296.1L888.0 282.8M920.9 300.4L892.2 287.0M918.9 304.3L896.1 291.6M916.2 308.9L899.1 297.3M913.2 312.7L901.8 302.9M910.1 316.0L900.4 306.6M906.4 319.8L897.0 310.1M897.8 348.7L887.8 349.2M898.0 353.9L884.8 354.1M897.9 359.2L877.5 358.6M897.7 364.6L869.9 362.9M897.2 370.3L862.3 367.0M896.6 376.2L854.6 369.9M895.5 381.9L852.0 372.4M894.0 387.7L851.2 375.6M892.2 393.5L850.1 379.1M890.1 399.3L849.0 382.2M887.7 404.6L847.9 384.6M884.9 409.5L846.8 386.6M881.8 414.2L845.5 388.6M878.5 418.6L844.0 390.6M875.0 422.6L842.7 392.1M871.3 426.3L842.9 394.7M867.2 429.6L845.7 401.9M863.1 432.6L847.3 409.8M859.1 435.3L848.5 417.7M854.9 437.5L849.1 425.8M850.6 439.5L846.6 430.3M785.3 441.8L788.8 432.4M780.6 440.0L785.6 429.1M776.2 437.7L785.5 421.6M772.0 435.0L786.4 414.1M767.7 431.8L787.6 406.7M763.5 428.3L790.3 400.3M759.7 424.2L793.9 395.7M756.3 419.6L793.2 394.8M753.2 414.5L791.9 392.6M750.3 408.9L790.4 389.6M747.7 403.1L788.6 385.7M746.1 399.1L787.8 383.5M744.6 394.8L786.8 380.7M743.2 390.3L785.9 377.8M742.0 385.9L785.1 374.8M740.9 381.6L784.5 372.7M739.8 375.4L783.9 369.2M739.2 369.5L777.9 367.0M739.1 363.7L771.1 363.8M739.3 358.2L764.6 359.8M739.7 353.1L758.2 355.6M740.7 347.8L752.3 350.4M742.0 342.7L751.7 345.4M732.9 316.4L745.6 311.8M730.8 310.5L743.6 306.3M729.5 306.3L744.9 302.0M728.4 302.1L749.7 297.1M727.5 297.8L754.7 292.4M726.7 293.2L759.7 287.5M725.9 288.4L764.8 282.6M725.2 283.5L770.0 277.8M724.6 278.4L775.4 273.3M724.2 273.2L780.9 269.0M723.9 267.8L782.3 264.9M723.6 262.2L782.1 260.5M723.5 256.5L782.0 255.9M723.5 250.8L782.0 251.4M723.6 245.1L782.1 247.0M723.9 239.6L782.3 242.9M724.2 234.3L782.6 238.9M724.7 229.1L782.9 235.1M725.3 223.9L783.3 231.4M726.0 218.9L783.8 227.9M726.9 214.0L784.4 224.7M727.8 209.2L784.9 221.9M729.0 204.5L785.6 219.1M730.2 199.9L786.4 216.4M731.6 195.4L787.2 213.7M733.1 191.1L786.2 211.3M735.5 185.2L782.1 205.9M738.0 180.2L777.6 202.0M740.7 175.8L773.2 197.9M743.5 172.0L769.7 192.9M746.4 168.6L766.5 187.7M750.4 164.8L764.4 181.5M754.5 161.8L763.6 175.0M758.5 159.2L766.0 170.4M762.2 156.7L769.7 167.9" stroke="#ffffff" stroke-width="1.3" opacity="0.38" fill="none"/></g><path d="M818.8 627.1h1.6M818.1 588.1h1.6M819.1 630.7h1.6M825.0 612.5h1.6M828.7 608.7h1.6M814.7 503.8h1.6M819.7 583.4h1.6M812.0 507.8h1.6M827.2 608.8h1.6M819.5 598.6h1.6M823.1 620.2h1.6M817.8 502.3h1.6M809.7 534.4h1.6M820.4 559.0h1.6M830.9 559.8h1.6M821.4 572.7h1.6M828.5 609.8h1.6M828.0 546.3h1.6M807.5 466.2h1.6M831.3 492.3h1.6M826.4 580.4h1.6M818.9 511.7h1.6M818.8 613.8h1.6M805.7 482.8h1.6M826.1 542.7h1.6M821.2 557.3h1.6M812.6 548.3h1.6M821.7 624.2h1.6M814.0 503.0h1.6M820.8 603.2h1.6M821.3 616.8h1.6M809.8 538.1h1.6M826.0 617.3h1.6M811.0 543.7h1.6M816.5 546.7h1.6M828.0 605.8h1.6M820.0 589.0h1.6M831.3 470.0h1.6M819.9 623.6h1.6M818.6 548.0h1.6M819.2 629.0h1.6M829.6 473.5h1.6M822.3 559.8h1.6M824.2 595.2h1.6M819.2 580.7h1.6M804.1 477.4h1.6M822.6 519.6h1.6M815.5 527.6h1.6M826.5 568.2h1.6M819.7 564.2h1.6M826.7 602.7h1.6M827.1 614.9h1.6M824.4 465.6h1.6M816.3 522.2h1.6M812.0 551.1h1.6M831.7 505.4h1.6M829.0 519.3h1.6M820.1 579.3h1.6M821.6 517.2h1.6M820.6 582.4h1.6M808.9 473.0h1.6M825.6 609.3h1.6M828.9 481.4h1.6M820.0 560.9h1.6M819.1 615.0h1.6M814.3 479.7h1.6M823.7 588.4h1.6M827.3 545.3h1.6M825.5 530.0h1.6M828.1 463.8h1.6M823.4 489.4h1.6M824.8 605.5h1.6M823.9 561.4h1.6M821.2 590.7h1.6M820.5 502.7h1.6M811.5 551.5h1.6M822.4 553.1h1.6M824.9 489.6h1.6M820.9 595.3h1.6M828.4 610.1h1.6M821.5 575.6h1.6M809.5 509.3h1.6M831.8 509.4h1.6M831.8 473.3h1.6M827.3 581.5h1.6M823.4 479.9h1.6M823.8 497.9h1.6M825.9 598.0h1.6M830.4 554.0h1.6M809.8 502.0h1.6M818.1 610.1h1.6M817.2 534.1h1.6M821.6 612.1h1.6M823.0 559.8h1.6M818.5 544.4h1.6M821.0 542.6h1.6M817.3 536.5h1.6M827.6 620.2h1.6M830.8 505.0h1.6M813.7 467.0h1.6M819.6 615.8h1.6M830.9 576.7h1.6M822.3 567.0h1.6M817.5 468.2h1.6M825.1 541.9h1.6M826.0 529.4h1.6M822.0 531.9h1.6M818.4 592.0h1.6M822.6 625.1h1.6M828.7 544.5h1.6" stroke="#6a6a6a" stroke-width="1.8" opacity="0.55"/></g>
</g>
<g clip-path="url(#cf3)">
<g><path d="M1132.0 99.6 C1135.8 99.2 1139.1 100.5 1142.7 101.1 C1146.3 101.8 1149.9 102.3 1153.4 103.6 C1157.0 104.9 1160.8 106.8 1164.2 108.8 C1167.5 110.9 1170.6 113.1 1173.4 115.9 C1176.2 118.7 1178.7 122.5 1181.0 125.7 C1183.4 128.9 1185.5 132.2 1187.5 134.9 C1189.6 137.6 1190.4 139.7 1193.2 141.7 C1196.0 143.6 1200.6 144.6 1204.3 146.6 C1208.0 148.5 1211.9 150.1 1215.4 153.3 C1219.0 156.5 1222.7 160.5 1225.4 165.6 C1228.1 170.7 1229.7 176.8 1231.6 184.0 C1233.5 191.2 1235.4 199.8 1236.7 208.5 C1238.1 217.2 1239.3 227.0 1239.6 236.2 C1239.8 245.4 1239.4 255.1 1238.4 263.8 C1237.5 272.5 1235.8 281.4 1233.9 288.3 C1232.0 295.2 1229.4 300.6 1226.9 305.2 C1224.3 309.8 1221.2 312.9 1218.6 315.9 C1215.9 319.0 1212.6 320.0 1211.1 323.6 C1209.6 327.2 1209.7 332.0 1209.6 337.4 C1209.5 342.8 1210.6 348.9 1210.3 355.8 C1210.1 362.7 1209.7 371.2 1208.1 378.8 C1206.4 386.5 1203.9 394.9 1200.6 401.9 C1197.4 408.8 1193.0 415.0 1188.6 420.3 C1184.2 425.5 1178.8 429.8 1174.0 433.2 C1169.2 436.5 1163.3 435.6 1159.8 440.2 C1156.4 444.9 1155.8 452.2 1153.3 461.0 C1150.7 469.8 1146.9 482.4 1144.3 493.0 C1141.6 503.7 1139.5 514.4 1137.3 525.0 C1135.1 535.7 1133.3 546.4 1131.2 557.0 C1129.1 567.7 1127.0 578.4 1124.8 589.0 C1122.6 599.7 1120.2 611.4 1117.9 621.0 C1115.6 630.6 1111.8 646.6 1111.0 646.6 C1110.1 646.6 1112.3 630.6 1113.0 621.0 C1113.6 611.4 1114.4 599.7 1115.0 589.0 C1115.5 578.4 1116.1 567.7 1116.5 557.0 C1116.9 546.4 1117.4 535.7 1117.4 525.0 C1117.4 514.4 1117.0 503.7 1116.4 493.0 C1115.7 482.4 1114.9 469.5 1113.3 461.0 C1111.8 452.6 1111.3 446.7 1107.2 442.5 C1103.1 438.2 1095.3 439.1 1088.9 435.6 C1082.6 432.2 1074.9 427.7 1069.4 421.8 C1063.8 415.9 1059.4 408.2 1055.8 400.3 C1052.1 392.4 1048.8 382.4 1047.3 374.2 C1045.8 366.1 1046.0 358.1 1046.6 351.2 C1047.3 344.3 1052.1 337.9 1051.3 332.8 C1050.6 327.7 1045.0 326.2 1042.2 320.5 C1039.3 314.9 1036.4 307.5 1034.3 299.1 C1032.2 290.6 1030.4 280.4 1029.6 269.9 C1028.7 259.4 1028.6 246.9 1029.2 236.2 C1029.9 225.4 1031.2 214.9 1033.6 205.5 C1036.1 196.0 1040.0 186.4 1044.2 179.4 C1048.3 172.3 1054.0 167.4 1058.8 163.1 C1063.6 158.9 1068.9 156.5 1072.9 153.9 C1077.0 151.4 1080.5 150.4 1083.1 147.8 C1085.7 145.1 1086.3 141.8 1088.6 138.0 C1090.8 134.2 1093.5 129.3 1096.7 125.1 C1099.8 120.9 1103.6 116.4 1107.4 112.8 C1111.2 109.2 1115.6 105.8 1119.7 103.6 C1123.8 101.4 1128.1 100.0 1132.0 99.6 Z" fill="#ababab" filter="url(#fb1)"/><path d="M1133.1 111.6 C1136.3 111.2 1139.2 112.5 1142.2 113.1 C1145.3 113.8 1148.3 114.2 1151.3 115.4 C1154.3 116.6 1157.5 118.3 1160.2 120.2 C1163.0 122.0 1165.5 124.0 1167.8 126.5 C1170.0 129.0 1171.8 132.4 1173.5 135.2 C1175.3 138.0 1176.8 140.8 1178.4 143.1 C1180.0 145.3 1180.5 147.0 1183.0 148.5 C1185.5 150.0 1189.7 150.5 1193.2 151.9 C1196.7 153.4 1200.1 153.4 1203.9 157.1 C1207.7 160.8 1213.2 168.5 1216.2 174.1 C1219.2 179.7 1220.3 184.3 1221.9 190.7 C1223.6 197.1 1225.2 204.8 1226.3 212.5 C1227.4 220.2 1228.2 228.6 1228.5 236.6 C1228.7 244.6 1228.4 253.1 1227.7 260.7 C1227.0 268.3 1225.8 276.3 1224.3 282.4 C1222.7 288.5 1220.8 290.7 1218.3 297.5 C1215.9 304.3 1212.5 317.5 1209.8 323.0 C1207.0 328.5 1203.8 327.2 1202.1 330.6 C1200.4 333.9 1200.2 338.3 1199.8 342.9 C1199.3 347.6 1199.9 352.8 1199.5 358.6 C1199.0 364.4 1198.4 371.2 1196.9 377.5 C1195.5 383.7 1193.4 390.5 1190.8 396.1 C1188.1 401.8 1184.8 406.9 1181.2 411.3 C1177.5 415.6 1172.9 419.3 1169.0 422.2 C1165.0 425.0 1160.5 423.9 1157.4 428.4 C1154.4 432.8 1153.0 440.2 1150.7 448.9 C1148.5 457.6 1146.2 470.0 1144.0 480.6 C1141.7 491.3 1139.2 502.0 1137.1 512.7 C1135.0 523.3 1133.4 534.0 1131.5 544.6 C1129.6 555.3 1127.6 565.9 1125.5 576.6 C1123.5 587.3 1121.2 599.0 1119.0 608.6 C1116.9 618.2 1113.3 634.1 1112.7 634.1 C1112.1 634.1 1114.4 618.1 1115.3 608.5 C1116.2 598.9 1117.2 587.2 1118.1 576.5 C1118.9 565.9 1119.6 555.3 1120.3 544.7 C1120.9 534.0 1121.5 523.4 1121.8 512.8 C1122.1 502.3 1122.6 491.9 1122.3 481.5 C1121.9 471.0 1121.4 458.4 1119.6 450.0 C1117.8 441.6 1115.4 435.2 1111.4 431.2 C1107.4 427.2 1101.0 428.6 1095.7 425.8 C1090.4 422.9 1084.2 419.2 1079.6 414.2 C1075.0 409.2 1071.3 402.7 1068.1 396.0 C1064.9 389.2 1062.0 380.8 1060.5 373.8 C1059.1 366.9 1059.0 360.1 1059.5 354.1 C1059.9 348.2 1064.2 342.7 1063.2 338.2 C1062.2 333.6 1056.6 334.4 1053.6 326.7 C1050.6 319.0 1047.0 302.2 1045.1 292.1 C1043.2 282.0 1042.5 275.2 1042.1 266.0 C1041.7 256.7 1041.9 246.0 1042.5 236.6 C1043.1 227.3 1044.1 218.3 1045.9 210.0 C1047.8 201.7 1050.4 193.2 1053.7 186.9 C1057.0 180.6 1060.7 177.1 1065.7 172.4 C1070.8 167.6 1079.5 161.5 1084.1 158.4 C1088.7 155.3 1091.1 155.9 1093.3 153.8 C1095.6 151.6 1095.7 148.8 1097.5 145.6 C1099.3 142.4 1101.4 138.2 1103.9 134.5 C1106.5 130.8 1109.5 126.8 1112.6 123.6 C1115.7 120.4 1119.3 117.2 1122.7 115.2 C1126.1 113.2 1129.8 111.9 1133.1 111.6 Z" fill="#e3e3e3" filter="url(#fb4)"/><path d="M1105.8 149.6 C1114.0 144.1 1123.2 142.6 1131.6 141.6 C1140.0 140.6 1147.8 141.9 1156.3 143.6 C1164.7 145.3 1176.7 146.4 1182.3 151.6 C1187.9 156.8 1187.8 164.9 1189.8 174.6 C1191.8 184.3 1193.9 197.1 1194.4 209.6 C1194.8 222.1 1194.1 237.1 1192.5 249.6 C1191.0 262.1 1187.3 274.6 1185.1 284.6 C1183.0 294.6 1179.6 300.4 1179.7 309.6 C1179.8 318.8 1184.3 329.6 1185.6 339.6 C1186.9 349.6 1188.5 359.6 1187.6 369.6 C1186.6 379.6 1184.0 390.9 1180.1 399.6 C1176.2 408.3 1170.0 416.3 1164.3 421.6 C1158.5 426.9 1152.1 429.9 1145.7 431.6 C1139.4 433.3 1133.1 433.3 1126.2 431.6 C1119.2 429.9 1110.5 426.9 1104.0 421.6 C1097.6 416.3 1091.3 408.3 1087.4 399.6 C1083.6 390.9 1081.7 379.6 1080.8 369.6 C1079.9 359.6 1080.8 349.3 1081.9 339.6 C1083.0 329.9 1088.0 320.8 1087.4 311.6 C1086.8 302.4 1081.3 294.9 1078.6 284.6 C1075.8 274.3 1072.1 262.1 1070.8 249.6 C1069.5 237.1 1068.8 222.1 1070.8 209.6 C1072.8 197.1 1077.0 184.6 1082.8 174.6 C1088.6 164.6 1097.7 155.1 1105.8 149.6 Z" fill="#ababab" opacity="0.55" filter="url(#fb6)"/><path d="M1172.2 217.6 C1172.2 221.0 1171.5 224.6 1170.3 227.9 C1169.1 231.1 1167.2 234.3 1164.9 236.9 C1162.6 239.5 1159.6 241.9 1156.5 243.6 C1153.4 245.3 1149.8 246.6 1146.3 247.1 C1142.8 247.7 1139.1 247.7 1135.4 247.1 C1131.6 246.6 1127.4 245.3 1123.9 243.6 C1120.3 241.9 1116.6 239.5 1113.9 236.9 C1111.1 234.3 1108.8 231.1 1107.3 227.9 C1105.9 224.6 1105.1 221.0 1105.1 217.6 C1105.1 214.2 1105.9 210.6 1107.3 207.3 C1108.8 204.1 1111.1 200.9 1113.9 198.3 C1116.6 195.7 1120.3 193.3 1123.9 191.6 C1127.5 189.9 1131.6 188.6 1135.4 188.1 C1139.1 187.5 1142.8 187.5 1146.3 188.1 C1149.8 188.6 1153.4 189.9 1156.5 191.6 C1159.6 193.3 1162.6 195.7 1164.9 198.3 C1167.2 200.9 1169.1 204.1 1170.3 207.3 C1171.5 210.6 1172.2 214.2 1172.2 217.6 Z" fill="#a9a9a9" opacity="0.35" filter="url(#fb6)"/><path d="M1140.9 361.6 C1140.9 367.5 1140.4 373.8 1139.6 379.4 C1138.7 385.0 1137.4 390.5 1135.7 395.0 C1134.0 399.6 1131.9 403.7 1129.4 406.6 C1126.9 409.6 1123.7 411.8 1120.7 412.8 C1117.8 413.8 1114.5 413.8 1111.5 412.8 C1108.6 411.8 1105.5 409.6 1102.9 406.6 C1100.3 403.7 1097.8 399.6 1095.8 395.0 C1093.9 390.5 1092.3 385.0 1091.2 379.4 C1090.2 373.8 1089.6 367.5 1089.6 361.6 C1089.6 355.7 1090.2 349.4 1091.2 343.8 C1092.3 338.2 1093.9 332.7 1095.8 328.2 C1097.8 323.6 1100.3 319.5 1102.9 316.6 C1105.5 313.6 1108.5 311.4 1111.5 310.4 C1114.5 309.4 1117.8 309.4 1120.7 310.4 C1123.7 311.4 1126.9 313.6 1129.4 316.6 C1131.9 319.5 1134.0 323.6 1135.7 328.2 C1137.4 332.7 1138.7 338.2 1139.6 343.8 C1140.4 349.4 1140.9 355.7 1140.9 361.6 Z" fill="#e4e4e4" opacity="0.55" filter="url(#fb6)"/><path d="M1185.7 361.6 C1185.7 367.3 1185.3 373.3 1184.5 378.7 C1183.7 384.1 1182.4 389.4 1180.9 393.7 C1179.4 398.1 1177.5 402.1 1175.4 404.9 C1173.4 407.8 1171.0 409.9 1168.7 410.8 C1166.4 411.8 1163.9 411.8 1161.6 410.8 C1159.3 409.9 1156.9 407.8 1154.9 404.9 C1152.9 402.1 1151.0 398.1 1149.5 393.7 C1148.0 389.4 1146.7 384.1 1145.9 378.7 C1145.1 373.3 1144.7 367.3 1144.7 361.6 C1144.7 355.9 1145.1 349.9 1145.9 344.5 C1146.7 339.1 1147.9 333.8 1149.4 329.5 C1150.9 325.1 1152.8 321.1 1154.8 318.3 C1156.8 315.4 1159.1 313.3 1161.4 312.4 C1163.6 311.4 1166.1 311.4 1168.4 312.4 C1170.7 313.3 1173.1 315.4 1175.1 318.3 C1177.2 321.1 1179.2 325.1 1180.7 329.5 C1182.2 333.8 1183.6 339.1 1184.4 344.5 C1185.3 349.9 1185.7 355.9 1185.7 361.6 Z" fill="#e4e4e4" opacity="0.55" filter="url(#fb6)"/><path d="M1161.1 171.8 C1165.0 177.6 1180.6 199.3 1184.8 206.7 C1189.1 214.2 1186.4 212.9 1186.6 216.3 C1186.8 219.8 1186.3 224.0 1186.2 227.7 C1186.1 231.3 1186.0 234.8 1186.1 238.3 C1186.1 241.9 1186.5 245.3 1186.7 248.8 C1186.9 252.4 1187.5 256.5 1187.3 259.7 C1187.2 262.9 1187.8 252.8 1185.8 267.9 C1183.8 283.0 1178.7 335.3 1175.6 350.2 C1172.5 365.1 1168.7 356.0 1167.4 357.2" fill="none" stroke="#f0f0f0" stroke-width="7" opacity="0.65" filter="url(#fb2)"/><path d="M1173.4 357.7 C1172.9 359.1 1171.4 363.3 1170.4 366.0 C1169.4 368.7 1168.3 371.4 1167.3 373.9 C1166.3 376.4 1165.5 378.7 1164.5 380.9 C1163.5 383.2 1162.6 385.3 1161.4 387.3 C1160.1 389.3 1158.5 391.2 1157.0 392.8 C1155.5 394.4 1153.1 396.1 1152.3 396.8" fill="none" stroke="#f0f0f0" stroke-width="7" opacity="0.65" filter="url(#fb2)"/><path d="M1115.7 399.5 C1114.2 398.6 1109.4 396.5 1106.9 394.0 C1104.5 391.4 1102.9 387.9 1101.0 384.3 C1099.2 380.8 1097.1 376.6 1095.9 372.8 C1094.6 369.1 1093.9 365.2 1093.8 361.8 C1093.6 358.4 1094.6 354.0 1094.8 352.5" fill="none" stroke="#f0f0f0" stroke-width="7" opacity="0.65" filter="url(#fb2)"/><path d="M1097.3 350.2 C1095.5 336.0 1087.6 281.8 1086.4 265.3 C1085.2 248.7 1089.0 255.4 1090.1 250.9 C1091.3 246.4 1092.8 242.4 1093.3 238.4 C1093.8 234.5 1093.0 231.2 1093.0 227.4 C1093.0 223.6 1092.5 219.0 1093.1 215.7 C1093.8 212.4 1091.2 214.6 1096.7 207.7 C1102.2 200.8 1121.0 180.2 1126.3 174.5 C1131.6 168.7 1127.8 173.8 1128.3 173.2 C1128.8 172.7 1129.1 171.6 1129.3 171.3" fill="none" stroke="#f0f0f0" stroke-width="7" opacity="0.65" filter="url(#fb2)"/><path d="M1116.6 450.0 C1121.9 437.9 1148.7 437.9 1152.6 450.0 C1156.5 462.2 1144.6 500.4 1140.1 523.0 C1135.7 545.6 1130.7 565.6 1126.1 585.6 C1121.4 605.6 1113.5 643.0 1112.1 643.0 C1110.8 643.0 1116.6 605.6 1118.1 585.6 C1119.6 565.6 1121.4 545.6 1121.1 523.0 C1120.9 500.4 1111.4 462.2 1116.6 450.0 Z" fill="#848484" opacity="0.6" filter="url(#fb4)"/><path d="M1135.3 444.8 C1134.6 454.4 1132.8 483.9 1130.9 502.2 C1129.1 520.4 1126.7 536.9 1124.4 554.3 C1122.1 571.7 1119.3 592.5 1117.3 606.5 C1115.2 620.4 1113.0 632.5 1112.2 637.7" fill="none" stroke="#d8d8d8" stroke-width="5" opacity="0.6" filter="url(#fb2)"/><path d="M1139.5 144.6 C1139.7 157.1 1140.3 193.8 1140.8 219.6 C1141.4 245.4 1142.2 272.9 1142.7 299.6 C1143.2 326.3 1143.7 356.3 1143.7 379.6 C1143.8 402.9 1143.2 429.6 1143.1 439.6" fill="none" stroke="#ececec" stroke-width="3" opacity="0.35" filter="url(#fb1)"/><ellipse cx="1139.0" cy="217.6" rx="5.5" ry="10" fill="#7a7a7a" filter="url(#fb2)"/><path d="M1109.5 133.6 C1111.2 132.1 1115.9 126.6 1119.6 124.6 C1123.3 122.6 1127.6 121.6 1131.6 121.6 C1135.6 121.6 1139.9 122.6 1143.6 124.6 C1147.3 126.6 1151.9 132.1 1153.5 133.6" fill="none" stroke="#a0a0a0" stroke-width="2" opacity="0.55" filter="url(#fb1)"/><clipPath id="fc3"><path d="M1132.2 102.1 C1135.9 101.7 1139.1 103.0 1142.6 103.6 C1146.1 104.3 1149.5 104.8 1153.0 106.1 C1156.4 107.3 1160.1 109.2 1163.4 111.2 C1166.6 113.2 1169.5 115.3 1172.2 118.1 C1174.9 120.8 1177.3 124.6 1179.5 127.7 C1181.7 130.8 1183.7 134.0 1185.6 136.6 C1187.6 139.2 1188.4 141.2 1191.1 143.1 C1193.8 144.9 1198.3 145.8 1202.0 147.7 C1205.6 149.5 1209.4 150.8 1213.0 154.1 C1216.6 157.4 1220.7 162.1 1223.4 167.4 C1226.2 172.6 1227.7 178.4 1229.5 185.4 C1231.4 192.4 1233.3 200.9 1234.5 209.4 C1235.8 217.8 1237.0 227.3 1237.3 236.3 C1237.5 245.2 1237.1 254.7 1236.2 263.1 C1235.3 271.6 1233.7 280.3 1231.9 287.1 C1230.0 293.8 1227.6 298.5 1225.1 303.6 C1222.6 308.6 1219.4 313.8 1216.7 317.4 C1214.1 321.0 1210.7 321.5 1209.2 325.1 C1207.7 328.6 1207.8 333.3 1207.6 338.6 C1207.4 343.8 1208.4 349.7 1208.1 356.4 C1207.8 363.1 1207.3 371.2 1205.7 378.6 C1204.2 385.9 1201.7 394.0 1198.6 400.7 C1195.4 407.3 1191.3 413.4 1187.0 418.4 C1182.8 423.4 1177.5 427.6 1172.9 430.9 C1168.3 434.1 1162.7 433.1 1159.3 437.7 C1156.0 442.4 1155.3 449.7 1152.8 458.5 C1150.2 467.3 1146.8 479.8 1144.2 490.5 C1141.7 501.1 1139.4 511.8 1137.3 522.5 C1135.1 533.1 1133.3 543.8 1131.3 554.4 C1129.2 565.1 1127.1 575.8 1124.9 586.4 C1122.8 597.1 1120.4 608.8 1118.1 618.4 C1115.9 628.0 1112.1 644.0 1111.3 644.0 C1110.5 644.0 1112.8 628.0 1113.5 618.4 C1114.2 608.8 1115.0 597.1 1115.6 586.4 C1116.2 575.8 1116.8 565.1 1117.3 554.5 C1117.7 543.8 1118.2 533.1 1118.3 522.5 C1118.4 511.9 1118.2 501.2 1117.6 490.6 C1117.0 480.0 1116.2 467.2 1114.7 458.7 C1113.1 450.3 1112.2 444.2 1108.1 440.0 C1104.0 435.9 1096.4 436.9 1090.3 433.6 C1084.2 430.2 1076.8 425.9 1071.5 420.2 C1066.1 414.5 1061.9 407.1 1058.3 399.4 C1054.8 391.7 1051.6 382.1 1050.1 374.2 C1048.6 366.2 1048.7 358.5 1049.3 351.8 C1049.9 345.1 1054.6 338.9 1053.8 333.9 C1053.0 328.9 1047.4 327.9 1044.5 321.8 C1041.7 315.8 1038.6 306.4 1036.6 297.6 C1034.5 288.8 1033.0 279.3 1032.2 269.1 C1031.4 258.9 1031.3 246.7 1032.0 236.3 C1032.7 225.8 1033.9 215.6 1036.2 206.4 C1038.6 197.2 1042.1 187.9 1046.1 181.0 C1050.1 174.1 1055.3 169.4 1060.2 165.1 C1065.0 160.7 1071.1 157.5 1075.2 154.9 C1079.4 152.2 1082.7 151.6 1085.2 149.0 C1087.8 146.5 1088.3 143.2 1090.4 139.6 C1092.6 135.9 1095.2 131.1 1098.2 127.0 C1101.2 123.0 1104.8 118.6 1108.5 115.1 C1112.2 111.6 1116.4 108.2 1120.3 106.0 C1124.3 103.9 1128.5 102.5 1132.2 102.1 Z"/></clipPath><g clip-path="url(#fc3)"><path d="M1207.4 150.0L1200.0 162.0M1211.5 152.4L1203.3 163.9M1215.3 155.3L1205.1 166.9M1218.8 158.8L1204.0 173.7M1221.2 161.9L1201.4 179.1M1223.4 165.2L1198.3 183.9M1225.3 169.0L1194.8 188.2M1227.0 173.2L1191.3 192.6M1228.4 177.8L1187.7 197.0M1229.8 182.8L1183.9 201.2M1231.1 188.1L1180.0 205.4M1232.4 194.0L1180.2 208.8M1233.8 200.2L1181.1 212.8M1235.0 206.7L1182.0 217.7M1235.7 211.0L1182.4 220.6M1236.4 215.4L1182.9 224.0M1236.9 220.0L1183.4 227.3M1237.4 224.6L1183.7 230.6M1237.8 229.3L1184.0 233.8M1238.1 233.9L1184.1 236.8M1238.2 238.5L1184.2 239.6M1238.2 243.1L1184.2 242.6M1238.2 247.8L1184.2 245.8M1238.0 252.4L1184.0 249.0M1237.7 257.0L1183.8 252.2M1237.3 261.4L1183.6 255.3M1236.8 265.8L1183.3 258.1M1236.2 270.1L1183.6 260.6M1235.2 276.4L1187.8 266.2M1233.9 282.4L1191.8 271.2M1232.6 287.9L1195.9 275.7M1231.0 292.7L1199.8 279.7M1229.3 297.0L1203.6 284.0M1227.6 300.9L1207.0 288.5M1225.1 305.5L1209.7 294.3M1222.4 309.3L1212.0 299.8M1219.6 312.6L1210.5 303.2M1216.2 316.4L1207.3 306.7M1208.5 342.1L1199.2 342.7M1208.8 347.0L1197.2 347.5M1209.0 352.3L1190.8 352.3M1208.9 357.5L1184.2 356.4M1208.6 363.1L1177.4 360.7M1208.1 368.9L1170.6 364.4M1207.4 374.7L1166.5 367.1M1206.3 380.4L1165.9 370.0M1204.8 386.2L1165.1 373.4M1203.0 392.1L1164.0 376.8M1200.9 397.7L1162.9 379.7M1198.6 402.9L1162.0 381.9M1195.9 407.7L1160.9 383.8M1192.9 412.3L1159.6 385.9M1189.8 416.6L1158.2 387.7M1186.5 420.5L1157.1 389.0M1182.9 424.0L1158.4 393.2M1179.2 427.3L1160.4 400.4M1175.5 430.2L1161.5 408.1M1172.0 432.7L1162.5 415.7M1168.0 434.8L1162.6 423.5M1164.1 436.7L1160.0 427.4M1103.0 439.5L1106.0 430.0M1098.1 437.9L1102.1 426.8M1092.9 435.9L1101.1 419.2M1088.1 433.5L1102.0 411.9M1083.1 430.6L1103.2 404.6M1078.1 427.3L1105.3 397.6M1073.4 423.6L1108.6 392.6M1069.3 419.4L1108.2 392.1M1065.6 414.6L1107.2 390.8M1062.3 409.3L1105.6 388.3M1059.2 403.6L1103.8 385.0M1056.4 397.7L1101.9 381.0M1054.7 393.6L1101.0 378.8M1053.1 389.2L1099.9 375.9M1051.6 384.7L1099.0 372.9M1050.4 380.3L1098.2 370.0M1049.3 376.1L1097.7 368.2M1048.3 370.0L1090.8 365.6M1047.8 364.1L1083.2 362.9M1047.8 358.5L1075.8 359.0M1048.1 353.1L1068.6 354.7M1048.8 347.9L1061.8 349.9M1050.1 342.7L1060.8 345.0M1041.6 314.7L1055.6 310.1M1039.3 309.2L1053.5 304.8M1037.1 302.9L1054.1 298.4M1035.9 298.7L1059.4 293.7M1034.9 294.4L1064.9 289.0M1034.0 289.8L1070.5 284.1M1033.1 285.0L1076.1 279.2M1032.4 280.1L1081.9 274.4M1031.7 275.0L1087.8 269.9M1031.2 269.8L1093.9 265.6M1030.9 264.4L1095.4 261.5M1030.6 258.8L1095.2 257.1M1030.5 253.1L1095.1 252.5M1030.5 247.4L1095.1 248.0M1030.6 241.7L1095.2 243.6M1030.9 236.2L1095.4 239.5M1031.3 230.9L1095.7 235.5M1031.8 225.7L1096.1 231.7M1032.5 220.5L1096.6 228.0M1033.3 215.5L1097.1 224.5M1034.2 210.6L1097.7 221.3M1035.3 205.8L1098.4 218.5M1036.5 201.1L1099.1 215.7M1037.9 196.5L1100.0 213.0M1039.5 192.0L1100.9 210.3M1041.3 187.7L1099.8 207.9M1044.5 181.8L1095.2 202.5M1047.8 176.8L1090.2 198.6M1051.3 172.4L1085.4 194.5M1055.0 168.6L1081.6 189.5M1058.5 165.2L1078.3 184.3M1063.3 161.4L1076.5 178.1M1068.1 158.4L1076.1 171.6M1072.6 155.8L1079.3 167.0M1076.7 153.3L1083.4 164.5" stroke="#999999" stroke-width="1.1" opacity="0.36" fill="none"/><path d="M1209.5 151.1L1201.8 163.0M1213.5 153.8L1204.7 164.9M1217.0 157.0L1206.1 168.4M1220.4 160.8L1204.7 175.4M1222.7 164.1L1201.6 180.5M1224.7 167.7L1198.2 185.3M1226.4 171.8L1194.6 189.9M1228.0 176.2L1191.0 194.5M1229.3 181.1L1187.2 199.0M1230.6 186.3L1183.3 203.3M1232.0 192.0L1179.9 207.7M1233.4 198.1L1180.8 211.4M1234.6 204.5L1181.7 216.1M1235.4 208.8L1182.2 219.0M1236.0 213.2L1182.7 222.3M1236.7 217.7L1183.2 225.6M1237.2 222.3L1183.5 229.0M1237.6 227.0L1183.9 232.2M1238.0 231.6L1184.1 235.3M1238.2 236.2L1184.2 238.2M1238.3 240.8L1184.3 241.1M1238.2 245.4L1184.2 244.2M1238.1 250.1L1184.1 247.4M1237.8 254.7L1184.0 250.6M1237.5 259.2L1183.7 253.8M1237.0 263.6L1183.5 256.3M1236.2 270.1L1182.9 260.9M1235.2 276.4L1186.5 265.9M1233.9 282.4L1190.7 270.9M1232.6 287.9L1194.9 275.4M1231.0 292.7L1199.0 279.4M1229.3 297.0L1202.8 283.6M1227.6 300.9L1206.4 288.2M1225.1 305.5L1209.2 293.9M1222.4 309.3L1211.7 299.5M1219.6 312.6L1210.5 303.2M1216.2 316.4L1207.3 306.7M1208.8 345.3L1199.4 345.8M1209.0 350.5L1196.7 350.7M1208.9 355.8L1189.9 355.2M1208.7 361.2L1182.8 359.5M1208.3 366.9L1175.7 363.6M1207.7 372.8L1168.6 366.5M1206.7 378.5L1166.1 369.0M1205.3 384.3L1165.4 372.2M1203.6 390.1L1164.4 375.7M1201.6 395.9L1163.3 378.8M1199.4 401.2L1162.3 381.2M1196.8 406.1L1161.3 383.2M1193.9 410.8L1160.0 385.2M1190.8 415.2L1158.6 387.2M1187.6 419.2L1157.4 388.7M1184.1 422.9L1157.7 391.3M1180.5 426.2L1160.2 398.5M1176.8 429.2L1161.7 406.4M1173.2 431.9L1162.9 414.3M1169.4 434.1L1163.4 422.4M1165.4 436.1L1161.2 426.9M1099.8 438.4L1102.9 429.0M1094.6 436.6L1099.2 425.7M1089.6 434.3L1099.1 418.2M1084.8 431.6L1100.0 410.7M1079.8 428.4L1101.4 403.3M1074.9 424.9L1104.4 396.9M1070.6 420.8L1108.3 392.3M1066.8 416.2L1107.6 391.4M1063.4 411.1L1106.1 389.2M1060.2 405.5L1104.4 386.2M1057.3 399.7L1102.5 382.3M1055.5 395.7L1101.6 380.1M1053.9 391.4L1100.5 377.3M1052.3 386.9L1099.4 374.4M1051.0 382.5L1098.5 371.4M1049.8 378.2L1098.0 369.3M1048.6 372.0L1097.2 365.8M1048.0 366.1L1090.6 363.6M1047.8 360.3L1083.2 360.4M1048.0 354.8L1075.9 356.4M1048.5 349.7L1068.9 352.2M1049.6 344.4L1062.4 347.0M1051.0 339.3L1061.7 342.0M1040.9 313.0L1054.9 308.4M1038.6 307.1L1052.7 302.9M1037.1 302.9L1054.2 298.6M1035.9 298.7L1059.4 293.7M1034.9 294.4L1064.9 289.0M1034.0 289.8L1070.5 284.1M1033.1 285.0L1076.1 279.2M1032.4 280.1L1081.9 274.4M1031.7 275.0L1087.8 269.9M1031.2 269.8L1093.9 265.6M1030.9 264.4L1095.4 261.5M1030.6 258.8L1095.2 257.1M1030.5 253.1L1095.1 252.5M1030.5 247.4L1095.1 248.0M1030.6 241.7L1095.2 243.6M1030.9 236.2L1095.4 239.5M1031.3 230.9L1095.7 235.5M1031.8 225.7L1096.1 231.7M1032.5 220.5L1096.6 228.0M1033.3 215.5L1097.1 224.5M1034.2 210.6L1097.7 221.3M1035.3 205.8L1098.4 218.5M1036.5 201.1L1099.1 215.7M1037.9 196.5L1100.0 213.0M1039.5 192.0L1100.9 210.3M1041.3 187.7L1099.8 207.9M1044.5 181.8L1095.2 202.5M1047.8 176.8L1090.2 198.6M1051.3 172.4L1085.4 194.5M1055.0 168.6L1081.6 189.5M1058.5 165.2L1078.3 184.3M1063.3 161.4L1076.5 178.1M1068.1 158.4L1076.1 171.6M1072.6 155.8L1079.3 167.0M1076.7 153.3L1083.4 164.5" stroke="#ffffff" stroke-width="1.3" opacity="0.38" fill="none"/></g><path d="M1109.5 630.3h1.6M1149.8 464.6h1.6M1120.5 493.1h1.6M1120.2 575.9h1.6M1112.2 618.2h1.6M1111.0 630.6h1.6M1131.9 567.0h1.6M1128.3 581.9h1.6M1114.2 586.0h1.6M1116.3 616.7h1.6M1120.5 515.5h1.6M1117.3 611.1h1.6M1115.9 626.7h1.6M1113.1 630.9h1.6M1123.0 584.3h1.6M1141.3 506.3h1.6M1135.1 515.9h1.6M1114.1 629.7h1.6M1141.3 485.7h1.6M1117.2 578.8h1.6M1134.6 469.2h1.6M1147.3 466.2h1.6M1123.4 550.2h1.6M1129.3 533.0h1.6M1112.2 622.9h1.6M1128.5 526.7h1.6M1130.9 513.2h1.6M1124.7 556.7h1.6M1122.5 579.8h1.6M1147.9 476.1h1.6M1125.5 523.5h1.6M1135.5 531.9h1.6M1113.0 629.3h1.6M1116.8 531.5h1.6M1111.4 619.2h1.6M1123.0 557.4h1.6M1124.3 518.7h1.6M1118.1 494.4h1.6M1131.9 555.4h1.6M1118.0 575.2h1.6M1114.6 583.4h1.6M1133.0 533.3h1.6M1113.6 623.7h1.6M1116.5 610.5h1.6M1124.2 553.3h1.6M1113.5 636.2h1.6M1128.7 544.3h1.6M1120.6 574.5h1.6M1122.8 599.5h1.6M1131.8 568.3h1.6M1134.1 463.7h1.6M1120.6 573.0h1.6M1136.7 490.8h1.6M1120.0 537.5h1.6M1148.3 467.9h1.6M1118.1 522.9h1.6M1123.7 498.8h1.6M1112.3 614.0h1.6M1118.7 509.5h1.6M1118.0 543.8h1.6M1133.0 521.5h1.6M1117.1 624.5h1.6M1130.0 467.2h1.6M1111.0 611.0h1.6M1130.4 496.5h1.6M1132.1 528.3h1.6M1120.2 587.8h1.6M1122.6 504.6h1.6M1118.0 507.7h1.6M1116.8 578.5h1.6M1116.6 618.1h1.6M1133.5 470.5h1.6M1116.2 567.5h1.6M1114.0 546.7h1.6M1112.4 596.3h1.6M1131.5 572.5h1.6M1113.4 610.5h1.6M1119.3 555.2h1.6M1136.1 521.1h1.6M1111.4 605.4h1.6M1129.7 527.8h1.6M1139.7 491.6h1.6M1115.5 618.8h1.6M1135.1 524.6h1.6M1116.7 551.4h1.6M1120.3 509.7h1.6M1116.9 609.1h1.6M1126.2 584.0h1.6M1109.5 633.1h1.6M1134.2 532.4h1.6M1117.7 595.5h1.6M1117.7 576.7h1.6M1118.8 489.1h1.6M1120.4 527.8h1.6M1131.9 552.2h1.6M1133.4 487.6h1.6M1117.0 613.7h1.6M1127.6 553.9h1.6M1148.3 464.3h1.6M1126.4 582.2h1.6M1112.3 606.8h1.6M1123.5 472.3h1.6M1131.8 549.9h1.6M1113.5 621.7h1.6M1127.7 570.8h1.6M1139.0 519.4h1.6M1115.3 627.4h1.6M1117.7 620.3h1.6M1119.8 576.1h1.6M1122.2 510.3h1.6" stroke="#6a6a6a" stroke-width="1.8" opacity="0.55"/></g>
</g>
<g clip-path="url(#cf4)">
<g><path d="M1444.2 90.0 C1448.0 89.6 1451.3 90.9 1454.9 91.5 C1458.5 92.2 1462.1 92.7 1465.6 94.0 C1469.2 95.3 1473.0 97.2 1476.4 99.2 C1479.7 101.3 1482.8 103.5 1485.6 106.3 C1488.4 109.1 1490.9 112.9 1493.2 116.1 C1495.6 119.3 1497.6 122.6 1499.5 125.3 C1501.4 128.0 1502.2 130.1 1504.8 132.1 C1507.4 134.0 1511.8 135.0 1515.3 137.0 C1518.7 138.9 1522.5 140.5 1525.5 143.7 C1528.5 146.9 1531.5 150.9 1533.4 156.0 C1535.3 161.1 1535.6 167.2 1536.9 174.4 C1538.2 181.6 1540.0 190.2 1541.1 198.9 C1542.3 207.6 1543.5 217.4 1543.8 226.6 C1544.0 235.8 1543.6 245.5 1542.7 254.2 C1541.8 262.9 1540.2 271.8 1538.5 278.7 C1536.8 285.6 1534.5 291.0 1532.3 295.6 C1530.1 300.2 1527.5 303.3 1525.2 306.3 C1523.0 309.4 1519.9 310.4 1518.7 314.0 C1517.6 317.6 1518.2 322.4 1518.3 327.8 C1518.4 333.2 1519.7 339.3 1519.6 346.2 C1519.4 353.1 1518.9 361.6 1517.4 369.2 C1515.8 376.9 1513.3 385.3 1510.2 392.3 C1507.1 399.2 1502.9 405.4 1498.6 410.7 C1494.4 415.9 1489.4 420.2 1484.9 423.6 C1480.3 426.9 1474.8 426.0 1471.4 430.6 C1467.9 435.2 1467.4 442.4 1464.3 451.1 C1461.2 459.7 1456.4 472.1 1452.7 482.6 C1449.0 493.0 1445.6 503.5 1442.2 514.0 C1438.7 524.5 1435.4 535.0 1431.9 545.5 C1428.4 556.0 1424.7 566.5 1420.9 577.0 C1417.1 587.5 1412.8 599.0 1409.0 608.4 C1405.1 617.9 1398.6 633.6 1397.7 633.6 C1396.9 633.6 1401.8 617.9 1404.1 608.4 C1406.3 599.0 1408.9 587.5 1411.1 577.0 C1413.3 566.5 1415.3 556.0 1417.2 545.5 C1419.0 535.0 1421.0 524.5 1422.2 514.0 C1423.5 503.5 1424.4 493.0 1424.8 482.6 C1425.1 472.1 1425.4 459.4 1424.5 451.1 C1423.5 442.8 1423.1 437.0 1419.2 432.8 C1415.2 428.6 1407.2 429.4 1400.8 426.0 C1394.4 422.6 1386.4 418.1 1380.8 412.2 C1375.2 406.3 1370.8 398.6 1367.1 390.7 C1363.4 382.8 1360.1 372.8 1358.5 364.6 C1357.0 356.5 1357.4 348.5 1357.8 341.6 C1358.2 334.7 1362.4 328.3 1361.0 323.2 C1359.7 318.1 1353.4 316.6 1349.8 310.9 C1346.1 305.3 1341.7 297.9 1339.1 289.5 C1336.4 281.0 1334.8 270.8 1333.9 260.3 C1332.9 249.8 1332.8 237.3 1333.5 226.6 C1334.2 215.8 1335.4 205.3 1338.2 195.9 C1341.0 186.4 1345.4 176.8 1350.3 169.8 C1355.2 162.7 1362.1 157.8 1367.6 153.5 C1373.1 149.3 1378.8 146.9 1383.3 144.3 C1387.8 141.8 1391.4 140.8 1394.3 138.2 C1397.1 135.5 1398.0 132.2 1400.4 128.4 C1402.8 124.6 1405.7 119.7 1408.9 115.5 C1412.1 111.3 1415.8 106.8 1419.6 103.2 C1423.4 99.6 1427.8 96.2 1431.9 94.0 C1436.0 91.8 1440.3 90.4 1444.2 90.0 Z" fill="#ababab" filter="url(#fb1)"/><path d="M1445.3 102.0 C1448.5 101.6 1451.4 102.9 1454.4 103.5 C1457.5 104.2 1460.5 104.6 1463.5 105.8 C1466.5 107.0 1469.7 108.7 1472.4 110.6 C1475.2 112.4 1477.8 114.4 1479.9 116.9 C1482.1 119.4 1483.9 122.8 1485.6 125.6 C1487.2 128.4 1488.6 131.2 1490.0 133.5 C1491.5 135.7 1491.9 137.4 1494.2 138.9 C1496.6 140.4 1500.7 140.9 1504.0 142.3 C1507.2 143.8 1510.6 143.8 1513.8 147.5 C1517.1 151.2 1521.2 158.9 1523.5 164.5 C1525.8 170.1 1526.2 174.7 1527.5 181.1 C1528.8 187.5 1530.5 195.2 1531.5 202.9 C1532.5 210.6 1533.3 219.0 1533.5 227.0 C1533.7 235.0 1533.5 243.5 1532.8 251.1 C1532.1 258.7 1531.0 266.7 1529.6 272.8 C1528.2 278.9 1526.2 281.1 1524.1 287.9 C1522.1 294.7 1519.7 307.9 1517.5 313.4 C1515.2 318.9 1512.1 317.6 1510.7 321.0 C1509.3 324.3 1509.4 328.7 1509.1 333.3 C1508.9 338.0 1509.5 343.2 1509.1 349.0 C1508.7 354.8 1508.0 361.6 1506.7 367.9 C1505.3 374.1 1503.2 380.9 1500.7 386.5 C1498.2 392.2 1495.0 397.3 1491.5 401.7 C1488.0 406.0 1483.6 409.7 1479.8 412.6 C1476.0 415.4 1471.6 414.3 1468.7 418.8 C1465.8 423.2 1464.8 430.6 1462.3 439.2 C1459.8 447.8 1456.7 459.9 1453.5 470.4 C1450.4 480.8 1446.7 491.4 1443.4 501.9 C1440.1 512.4 1437.2 522.8 1433.9 533.3 C1430.6 543.8 1427.1 554.3 1423.5 564.8 C1419.8 575.2 1415.8 586.8 1412.1 596.2 C1408.5 605.6 1402.2 621.4 1401.6 621.3 C1401.0 621.3 1406.0 605.6 1408.4 596.1 C1410.8 586.7 1413.6 575.2 1416.0 564.7 C1418.4 554.2 1420.6 543.8 1422.6 533.3 C1424.6 522.9 1426.6 512.4 1428.1 502.0 C1429.6 491.7 1431.2 481.5 1431.8 471.2 C1432.3 460.9 1432.7 448.5 1431.3 440.2 C1429.9 432.0 1427.4 425.6 1423.4 421.6 C1419.4 417.6 1412.8 419.0 1407.5 416.2 C1402.1 413.3 1395.8 409.6 1391.2 404.6 C1386.5 399.6 1382.8 393.1 1379.6 386.4 C1376.4 379.6 1373.4 371.2 1371.9 364.2 C1370.5 357.3 1370.5 350.5 1370.8 344.5 C1371.2 338.6 1375.2 333.1 1373.8 328.6 C1372.4 324.0 1366.4 324.8 1362.6 317.1 C1358.7 309.4 1353.1 292.6 1350.6 282.5 C1348.1 272.4 1347.8 265.6 1347.4 256.4 C1346.9 247.1 1347.1 236.4 1347.8 227.0 C1348.5 217.7 1349.4 208.7 1351.5 200.4 C1353.5 192.1 1356.3 183.6 1360.1 177.3 C1363.8 171.0 1368.2 167.5 1373.9 162.8 C1379.7 158.0 1389.4 151.9 1394.4 148.8 C1399.5 145.7 1401.9 146.3 1404.3 144.2 C1406.8 142.0 1407.1 139.2 1409.1 136.0 C1411.0 132.8 1413.4 128.6 1416.0 124.9 C1418.6 121.2 1421.7 117.2 1424.8 114.0 C1428.0 110.8 1431.5 107.6 1434.9 105.6 C1438.3 103.6 1442.0 102.3 1445.3 102.0 Z" fill="#e3e3e3" filter="url(#fb4)"/><path d="M1417.4 140.0 C1426.1 134.5 1435.3 133.0 1443.8 132.0 C1452.3 131.0 1459.9 132.3 1468.1 134.0 C1476.4 135.7 1488.2 136.8 1493.3 142.0 C1498.4 147.2 1497.1 155.3 1498.6 165.0 C1500.0 174.7 1501.6 187.5 1501.9 200.0 C1502.2 212.5 1501.6 227.5 1500.2 240.0 C1498.8 252.5 1495.3 265.0 1493.4 275.0 C1491.4 285.0 1488.2 290.8 1488.6 300.0 C1488.9 309.2 1493.9 320.0 1495.5 330.0 C1497.0 340.0 1498.5 350.0 1497.6 360.0 C1496.8 370.0 1494.2 381.3 1490.5 390.0 C1486.7 398.7 1480.7 406.7 1475.2 412.0 C1469.7 417.3 1463.6 420.3 1457.5 422.0 C1451.3 423.7 1445.2 423.7 1438.3 422.0 C1431.4 420.3 1422.4 417.3 1415.9 412.0 C1409.4 406.7 1403.0 398.7 1399.1 390.0 C1395.2 381.3 1393.4 370.0 1392.4 360.0 C1391.4 350.0 1392.3 339.7 1393.0 330.0 C1393.7 320.3 1397.8 311.2 1396.7 302.0 C1395.7 292.8 1389.7 285.3 1386.6 275.0 C1383.6 264.7 1379.7 252.5 1378.3 240.0 C1376.9 227.5 1376.0 212.5 1378.3 200.0 C1380.6 187.5 1385.4 175.0 1391.9 165.0 C1398.4 155.0 1408.8 145.5 1417.4 140.0 Z" fill="#ababab" opacity="0.55" filter="url(#fb6)"/><path d="M1481.4 208.0 C1481.4 211.4 1480.8 215.0 1479.7 218.3 C1478.5 221.5 1476.7 224.7 1474.6 227.3 C1472.5 229.9 1469.7 232.3 1466.9 234.0 C1464.0 235.7 1460.7 237.0 1457.4 237.5 C1454.1 238.1 1451.0 238.1 1447.3 237.5 C1443.6 237.0 1439.2 235.7 1435.5 234.0 C1431.7 232.3 1427.7 229.9 1424.7 227.3 C1421.7 224.7 1419.2 221.5 1417.7 218.3 C1416.1 215.0 1415.2 211.4 1415.2 208.0 C1415.2 204.6 1416.1 201.0 1417.7 197.7 C1419.2 194.5 1421.7 191.3 1424.7 188.7 C1427.7 186.1 1431.7 183.7 1435.5 182.0 C1439.2 180.3 1443.7 179.0 1447.3 178.5 C1451.0 177.9 1454.2 177.9 1457.5 178.5 C1460.7 179.0 1464.0 180.3 1466.9 182.0 C1469.8 183.7 1472.5 186.1 1474.6 188.7 C1476.7 191.3 1478.5 194.5 1479.7 197.7 C1480.8 201.0 1481.4 204.6 1481.4 208.0 Z" fill="#a9a9a9" opacity="0.35" filter="url(#fb6)"/><path d="M1452.8 352.0 C1452.8 357.9 1452.3 364.2 1451.5 369.8 C1450.6 375.4 1449.4 380.9 1447.7 385.4 C1446.1 390.0 1444.1 394.1 1441.6 397.0 C1439.1 400.0 1435.8 402.2 1432.8 403.2 C1429.8 404.2 1426.5 404.2 1423.5 403.2 C1420.5 402.2 1417.4 400.0 1414.8 397.0 C1412.1 394.1 1409.6 390.0 1407.6 385.4 C1405.7 380.9 1404.0 375.4 1403.0 369.8 C1401.9 364.2 1401.4 357.9 1401.4 352.0 C1401.3 346.1 1401.9 339.8 1402.7 334.2 C1403.6 328.6 1404.9 323.1 1406.6 318.6 C1408.4 314.0 1410.8 309.9 1413.4 307.0 C1416.0 304.0 1419.3 301.8 1422.4 300.8 C1425.5 299.8 1429.0 299.8 1432.2 300.8 C1435.4 301.8 1438.9 304.0 1441.5 307.0 C1444.0 309.9 1446.0 314.0 1447.7 318.6 C1449.3 323.1 1450.6 328.6 1451.4 334.2 C1452.3 339.8 1452.8 346.1 1452.8 352.0 Z" fill="#e4e4e4" opacity="0.55" filter="url(#fb6)"/><path d="M1495.8 352.0 C1495.9 357.7 1495.4 363.7 1494.7 369.1 C1493.9 374.5 1492.7 379.8 1491.2 384.1 C1489.8 388.5 1487.9 392.5 1486.0 395.3 C1484.0 398.2 1481.7 400.3 1479.5 401.2 C1477.3 402.2 1474.9 402.2 1472.7 401.2 C1470.5 400.3 1468.2 398.2 1466.2 395.3 C1464.3 392.5 1462.4 388.5 1461.0 384.1 C1459.5 379.8 1458.3 374.5 1457.6 369.1 C1456.8 363.7 1456.4 357.7 1456.4 352.0 C1456.4 346.3 1456.8 340.3 1457.5 334.9 C1458.2 329.5 1459.3 324.2 1460.7 319.9 C1462.0 315.5 1463.7 311.5 1465.5 308.7 C1467.4 305.8 1469.5 303.7 1471.6 302.8 C1473.7 301.8 1476.0 301.8 1478.2 302.8 C1480.4 303.7 1482.6 305.8 1484.7 308.7 C1486.7 311.5 1488.7 315.5 1490.4 319.9 C1492.0 324.2 1493.6 329.5 1494.5 334.9 C1495.4 340.3 1495.8 346.3 1495.8 352.0 Z" fill="#e4e4e4" opacity="0.55" filter="url(#fb6)"/><path d="M1471.7 162.2 C1475.2 168.0 1489.2 189.7 1493.1 197.1 C1496.9 204.6 1494.5 203.3 1494.7 206.7 C1495.0 210.2 1494.4 214.4 1494.3 218.1 C1494.3 221.7 1494.1 225.2 1494.2 228.7 C1494.3 232.3 1494.6 235.7 1494.8 239.2 C1495.0 242.8 1495.5 246.9 1495.4 250.1 C1495.3 253.3 1495.5 243.2 1494.0 258.3 C1492.4 273.4 1488.7 325.7 1486.1 340.6 C1483.5 355.5 1479.5 346.4 1478.2 347.6" fill="none" stroke="#f0f0f0" stroke-width="7" opacity="0.65" filter="url(#fb2)"/><path d="M1484.0 348.1 C1483.5 349.5 1482.1 353.7 1481.1 356.4 C1480.2 359.1 1479.1 361.8 1478.1 364.3 C1477.2 366.8 1476.4 369.1 1475.5 371.3 C1474.5 373.6 1473.7 375.7 1472.5 377.7 C1471.3 379.7 1469.7 381.6 1468.3 383.2 C1466.8 384.8 1464.5 386.5 1463.7 387.2" fill="none" stroke="#f0f0f0" stroke-width="7" opacity="0.65" filter="url(#fb2)"/><path d="M1427.7 389.9 C1426.2 389.0 1421.3 386.9 1418.8 384.4 C1416.4 381.8 1414.7 378.3 1412.9 374.7 C1411.0 371.2 1408.9 367.0 1407.6 363.2 C1406.4 359.5 1405.7 355.6 1405.5 352.2 C1405.4 348.8 1406.4 344.4 1406.6 342.9" fill="none" stroke="#f0f0f0" stroke-width="7" opacity="0.65" filter="url(#fb2)"/><path d="M1409.0 340.6 C1406.7 326.4 1396.8 272.2 1395.1 255.7 C1393.5 239.1 1397.9 245.8 1399.1 241.3 C1400.3 236.8 1402.0 232.8 1402.5 228.8 C1403.0 224.9 1402.2 221.6 1402.2 217.8 C1402.2 214.0 1401.7 209.4 1402.4 206.1 C1403.0 202.8 1400.2 205.0 1406.2 198.1 C1412.2 191.2 1432.5 170.6 1438.2 164.9 C1443.9 159.1 1439.8 164.2 1440.3 163.6 C1440.8 163.1 1441.2 162.0 1441.4 161.7" fill="none" stroke="#f0f0f0" stroke-width="7" opacity="0.65" filter="url(#fb2)"/><path d="M1428.4 440.3 C1434.7 428.3 1461.3 428.3 1464.2 440.3 C1467.0 452.2 1452.1 489.8 1445.2 512.1 C1438.3 534.3 1430.3 553.9 1422.7 573.6 C1415.1 593.3 1400.9 630.0 1399.6 630.0 C1398.2 630.0 1410.3 593.3 1414.7 573.6 C1419.1 553.9 1423.9 534.3 1426.2 512.1 C1428.5 489.8 1422.1 452.2 1428.4 440.3 Z" fill="#848484" opacity="0.6" filter="url(#fb4)"/><path d="M1447.3 435.1 C1445.8 444.5 1442.0 473.6 1438.4 491.5 C1434.8 509.5 1430.1 525.7 1425.5 542.8 C1420.9 559.9 1414.8 580.4 1410.7 594.1 C1406.5 607.8 1402.2 619.8 1400.5 624.9" fill="none" stroke="#d8d8d8" stroke-width="5" opacity="0.6" filter="url(#fb2)"/><path d="M1451.6 135.0 C1451.7 147.5 1451.9 184.2 1452.3 210.0 C1452.8 235.8 1453.5 263.3 1454.1 290.0 C1454.6 316.7 1455.3 346.7 1455.5 370.0 C1455.6 393.3 1455.1 420.0 1455.0 430.0" fill="none" stroke="#ececec" stroke-width="3" opacity="0.35" filter="url(#fb1)"/><ellipse cx="1450.6" cy="208.0" rx="5.5" ry="10" fill="#7a7a7a" filter="url(#fb2)"/><path d="M1421.6 124.0 C1423.3 122.5 1428.1 117.0 1431.8 115.0 C1435.5 113.0 1439.8 112.0 1443.8 112.0 C1447.8 112.0 1452.2 113.0 1455.8 115.0 C1459.4 117.0 1464.0 122.5 1465.7 124.0" fill="none" stroke="#a0a0a0" stroke-width="2" opacity="0.55" filter="url(#fb1)"/><clipPath id="fc4"><path d="M1444.4 92.5 C1448.1 92.1 1451.3 93.4 1454.8 94.0 C1458.3 94.7 1461.7 95.2 1465.2 96.5 C1468.6 97.7 1472.3 99.6 1475.6 101.6 C1478.8 103.6 1481.7 105.7 1484.4 108.5 C1487.1 111.2 1489.5 115.0 1491.7 118.1 C1493.9 121.2 1495.7 124.4 1497.5 127.0 C1499.4 129.6 1500.0 131.6 1502.6 133.5 C1505.1 135.3 1509.5 136.2 1512.9 138.1 C1516.3 139.9 1520.0 141.2 1523.0 144.5 C1526.1 147.8 1529.3 152.5 1531.2 157.8 C1533.2 163.0 1533.5 168.8 1534.8 175.8 C1536.2 182.8 1538.0 191.3 1539.1 199.8 C1540.2 208.2 1541.4 217.7 1541.6 226.7 C1541.9 235.6 1541.5 245.1 1540.6 253.5 C1539.8 262.0 1538.3 270.7 1536.7 277.5 C1535.0 284.2 1532.8 288.9 1530.6 294.0 C1528.4 299.0 1525.9 304.2 1523.6 307.8 C1521.4 311.4 1518.3 311.9 1517.1 315.5 C1515.9 319.0 1516.4 323.7 1516.4 329.0 C1516.5 334.2 1517.6 340.1 1517.4 346.8 C1517.2 353.5 1516.6 361.6 1515.1 369.0 C1513.6 376.3 1511.2 384.4 1508.2 391.1 C1505.2 397.7 1501.2 403.8 1497.1 408.8 C1493.1 413.8 1488.1 418.0 1483.7 421.3 C1479.3 424.5 1474.1 423.6 1470.8 428.1 C1467.5 432.7 1466.9 440.0 1463.9 448.6 C1461.0 457.2 1456.5 469.5 1452.9 480.0 C1449.3 490.5 1445.9 501.0 1442.4 511.5 C1439.0 522.0 1435.8 532.5 1432.3 543.0 C1428.8 553.4 1425.2 563.9 1421.4 574.4 C1417.7 584.9 1413.5 596.5 1409.6 605.9 C1405.8 615.3 1399.3 631.1 1398.6 631.1 C1397.8 631.1 1402.7 615.3 1405.0 605.9 C1407.2 596.4 1409.9 584.9 1412.1 574.4 C1414.3 563.9 1416.4 553.4 1418.3 543.0 C1420.2 532.5 1422.1 522.0 1423.5 511.5 C1424.8 501.1 1425.8 490.6 1426.2 480.2 C1426.6 469.7 1426.9 457.1 1425.9 448.8 C1424.9 440.5 1424.1 434.6 1420.1 430.4 C1416.1 426.3 1408.3 427.3 1402.1 424.0 C1395.9 420.6 1388.4 416.3 1383.0 410.6 C1377.6 404.9 1373.3 397.5 1369.7 389.8 C1366.1 382.1 1362.8 372.5 1361.3 364.6 C1359.8 356.6 1360.1 348.9 1360.5 342.2 C1360.9 335.5 1365.0 329.3 1363.7 324.3 C1362.4 319.3 1356.2 318.3 1352.5 312.2 C1348.7 306.2 1344.1 296.8 1341.4 288.0 C1338.8 279.2 1337.5 269.7 1336.7 259.5 C1335.8 249.3 1335.7 237.1 1336.5 226.7 C1337.2 216.2 1338.4 206.0 1341.0 196.8 C1343.6 187.6 1347.6 178.3 1352.3 171.4 C1356.9 164.5 1363.3 159.8 1368.8 155.5 C1374.4 151.1 1381.0 147.9 1385.6 145.3 C1390.2 142.6 1393.6 142.0 1396.3 139.4 C1399.1 136.9 1399.9 133.6 1402.2 130.0 C1404.6 126.3 1407.3 121.5 1410.4 117.4 C1413.5 113.4 1417.0 109.0 1420.7 105.5 C1424.4 102.0 1428.6 98.6 1432.5 96.4 C1436.5 94.3 1440.7 92.9 1444.4 92.5 Z"/></clipPath><g clip-path="url(#fc4)"><path d="M1518.0 140.4L1509.5 152.4M1521.8 142.8L1512.5 154.3M1525.1 145.7L1513.9 157.3M1528.0 149.2L1512.1 164.1M1529.9 152.3L1509.2 169.5M1531.5 155.6L1505.9 174.3M1532.8 159.4L1502.4 178.6M1533.8 163.6L1499.1 183.0M1534.6 168.2L1495.8 187.4M1535.3 173.2L1492.3 191.6M1536.1 178.5L1488.6 195.8M1537.2 184.4L1488.8 199.2M1538.4 190.6L1489.6 203.2M1539.5 197.1L1490.4 208.1M1540.2 201.4L1490.9 211.0M1540.8 205.8L1491.3 214.4M1541.3 210.4L1491.7 217.7M1541.8 215.0L1492.0 221.0M1542.1 219.7L1492.3 224.2M1542.4 224.3L1492.5 227.2M1542.5 228.9L1492.5 230.0M1542.5 233.5L1492.5 233.0M1542.5 238.2L1492.5 236.2M1542.3 242.8L1492.4 239.4M1542.0 247.4L1492.2 242.6M1541.6 251.8L1491.9 245.7M1541.2 256.2L1491.6 248.5M1540.7 260.5L1492.0 251.0M1539.7 266.8L1495.8 256.6M1538.6 272.8L1499.6 261.6M1537.3 278.3L1503.3 266.1M1535.9 283.1L1507.0 270.1M1534.3 287.4L1510.4 274.4M1532.8 291.3L1513.6 278.9M1530.7 295.9L1516.1 284.7M1528.4 299.7L1518.3 290.2M1526.0 303.0L1517.0 293.6M1523.1 306.8L1514.2 297.1M1517.5 332.5L1508.6 333.1M1518.0 337.4L1506.8 337.9M1518.3 342.7L1500.8 342.7M1518.1 347.9L1494.4 346.8M1517.9 353.5L1487.9 351.1M1517.4 359.3L1481.3 354.8M1516.7 365.1L1477.4 357.5M1515.6 370.8L1476.8 360.4M1514.2 376.6L1476.0 363.8M1512.5 382.5L1475.0 367.2M1510.5 388.1L1473.9 370.1M1508.2 393.3L1473.0 372.3M1505.6 398.1L1472.0 374.2M1502.8 402.7L1470.7 376.3M1499.8 407.0L1469.4 378.1M1496.6 410.9L1468.3 379.4M1493.2 414.4L1469.5 383.6M1489.7 417.7L1471.5 390.8M1486.3 420.6L1472.5 398.5M1482.9 423.1L1473.5 406.1M1479.2 425.2L1473.6 413.9M1475.4 427.1L1471.2 417.8M1415.0 429.9L1417.9 420.4M1410.0 428.3L1414.0 417.2M1404.7 426.3L1412.9 409.6M1399.8 423.9L1413.8 402.3M1394.8 421.0L1415.0 395.0M1389.7 417.7L1417.2 388.0M1385.0 414.0L1420.5 383.0M1380.8 409.8L1420.1 382.5M1377.1 405.0L1419.1 381.2M1373.7 399.7L1417.5 378.7M1370.5 394.0L1415.7 375.4M1367.7 388.1L1413.8 371.4M1366.0 384.0L1412.9 369.2M1364.4 379.6L1411.8 366.3M1362.9 375.1L1410.8 363.3M1361.6 370.7L1410.0 360.4M1360.6 366.5L1409.5 358.6M1359.6 360.4L1402.6 356.0M1359.1 354.5L1394.8 353.3M1359.0 348.9L1387.3 349.4M1359.3 343.5L1380.1 345.1M1359.8 338.3L1373.1 340.3M1360.8 333.1L1371.8 335.4M1348.3 305.1L1362.7 300.5M1345.3 299.6L1360.0 295.2M1342.3 293.3L1360.3 288.8M1340.8 289.1L1366.0 284.1M1339.6 284.8L1371.9 279.4M1338.6 280.2L1377.9 274.5M1337.7 275.4L1384.0 269.6M1336.9 270.5L1390.2 264.8M1336.2 265.4L1396.6 260.3M1335.6 260.2L1403.1 256.0M1335.2 254.8L1404.8 251.9M1335.0 249.2L1404.6 247.5M1334.8 243.5L1404.5 242.9M1334.8 237.8L1404.5 238.4M1335.0 232.1L1404.6 234.0M1335.3 226.6L1404.8 229.9M1335.7 221.3L1405.2 225.9M1336.3 216.1L1405.6 222.1M1337.0 210.9L1406.1 218.4M1337.8 205.9L1406.7 214.9M1338.8 201.0L1407.3 211.7M1340.0 196.2L1408.0 208.9M1341.3 191.5L1408.8 206.1M1342.8 186.9L1409.7 203.4M1344.6 182.4L1410.7 200.7M1346.7 178.1L1409.5 198.3M1350.5 172.2L1404.6 192.9M1354.5 167.2L1399.2 189.0M1358.7 162.8L1394.1 184.9M1362.9 159.0L1390.0 179.9M1367.1 155.6L1386.6 174.7M1372.5 151.8L1384.9 168.5M1377.8 148.8L1385.0 162.0M1382.8 146.2L1388.7 157.4M1387.3 143.7L1393.3 154.9" stroke="#999999" stroke-width="1.1" opacity="0.36" fill="none"/><path d="M1519.9 141.5L1511.2 153.4M1523.5 144.2L1513.7 155.3M1526.5 147.4L1514.6 158.8M1529.3 151.2L1512.6 165.8M1531.1 154.5L1509.2 170.9M1532.4 158.1L1505.7 175.7M1533.5 162.2L1502.2 180.3M1534.3 166.6L1498.8 184.9M1535.1 171.5L1495.3 189.4M1535.8 176.7L1491.6 193.7M1536.8 182.4L1488.5 198.1M1538.0 188.5L1489.3 201.8M1539.2 194.9L1490.2 206.5M1539.9 199.2L1490.6 209.4M1540.5 203.6L1491.1 212.7M1541.1 208.1L1491.5 216.0M1541.6 212.7L1491.9 219.4M1542.0 217.4L1492.2 222.6M1542.3 222.0L1492.4 225.7M1542.5 226.6L1492.5 228.6M1542.6 231.2L1492.6 231.5M1542.5 235.8L1492.5 234.6M1542.4 240.5L1492.4 237.8M1542.2 245.1L1492.3 241.0M1541.8 249.6L1492.1 244.2M1541.4 254.0L1491.8 246.7M1540.7 260.5L1491.3 251.3M1539.7 266.8L1494.6 256.3M1538.6 272.8L1498.5 261.3M1537.3 278.3L1502.4 265.8M1535.9 283.1L1506.2 269.8M1534.3 287.4L1509.8 274.0M1532.8 291.3L1513.1 278.6M1530.7 295.9L1515.7 284.3M1528.4 299.7L1518.0 289.9M1526.0 303.0L1517.0 293.6M1523.1 306.8L1514.2 297.1M1517.8 335.7L1508.9 336.2M1518.2 340.9L1506.4 341.1M1518.2 346.2L1499.9 345.6M1518.0 351.6L1493.1 349.9M1517.6 357.3L1486.3 354.0M1517.0 363.2L1479.4 356.9M1516.0 368.9L1477.0 359.4M1514.7 374.7L1476.3 362.6M1513.1 380.5L1475.3 366.1M1511.2 386.3L1474.3 369.2M1509.0 391.6L1473.3 371.6M1506.5 396.5L1472.3 373.6M1503.8 401.2L1471.1 375.6M1500.8 405.6L1469.8 377.6M1497.7 409.6L1468.6 379.1M1494.3 413.3L1468.9 381.7M1490.9 416.6L1471.4 388.9M1487.4 419.6L1472.8 396.8M1484.0 422.3L1473.9 404.7M1480.5 424.5L1474.4 412.8M1476.6 426.5L1472.4 417.3M1411.8 428.8L1414.8 419.4M1406.5 427.0L1411.1 416.1M1401.4 424.7L1410.9 408.6M1396.5 422.0L1411.8 401.1M1391.4 418.8L1413.2 393.7M1386.5 415.3L1416.2 387.3M1382.1 411.2L1420.3 382.7M1378.3 406.6L1419.5 381.8M1374.8 401.5L1418.1 379.6M1371.5 395.9L1416.3 376.6M1368.6 390.1L1414.3 372.7M1366.8 386.1L1413.4 370.5M1365.2 381.8L1412.3 367.7M1363.6 377.3L1411.3 364.8M1362.2 372.9L1410.4 361.8M1361.1 368.6L1409.8 359.7M1359.8 362.4L1409.0 356.2M1359.2 356.5L1402.4 354.0M1359.0 350.7L1394.8 350.8M1359.2 345.2L1387.5 346.8M1359.6 340.1L1380.3 342.6M1360.4 334.8L1373.6 337.4M1361.4 329.7L1372.5 332.4M1347.4 303.4L1361.8 298.8M1344.2 297.5L1359.1 293.3M1342.3 293.3L1360.4 289.0M1340.8 289.1L1366.0 284.1M1339.6 284.8L1371.9 279.4M1338.6 280.2L1377.9 274.5M1337.7 275.4L1384.0 269.6M1336.9 270.5L1390.2 264.8M1336.2 265.4L1396.6 260.3M1335.6 260.2L1403.1 256.0M1335.2 254.8L1404.8 251.9M1335.0 249.2L1404.6 247.5M1334.8 243.5L1404.5 242.9M1334.8 237.8L1404.5 238.4M1335.0 232.1L1404.6 234.0M1335.3 226.6L1404.8 229.9M1335.7 221.3L1405.2 225.9M1336.3 216.1L1405.6 222.1M1337.0 210.9L1406.1 218.4M1337.8 205.9L1406.7 214.9M1338.8 201.0L1407.3 211.7M1340.0 196.2L1408.0 208.9M1341.3 191.5L1408.8 206.1M1342.8 186.9L1409.7 203.4M1344.6 182.4L1410.7 200.7M1346.7 178.1L1409.5 198.3M1350.5 172.2L1404.6 192.9M1354.5 167.2L1399.2 189.0M1358.7 162.8L1394.1 184.9M1362.9 159.0L1390.0 179.9M1367.1 155.6L1386.6 174.7M1372.5 151.8L1384.9 168.5M1377.8 148.8L1385.0 162.0M1382.8 146.2L1388.7 157.4M1387.3 143.7L1393.3 154.9" stroke="#ffffff" stroke-width="1.3" opacity="0.38" fill="none"/></g><path d="M1423.6 546.1h1.6M1406.9 597.8h1.6M1421.4 539.5h1.6M1439.7 523.0h1.6M1440.7 468.6h1.6M1433.8 489.7h1.6M1398.2 624.7h1.6M1421.8 556.5h1.6M1415.5 577.9h1.6M1438.1 480.2h1.6M1436.1 521.7h1.6M1420.1 548.6h1.6M1416.3 568.0h1.6M1418.8 539.8h1.6M1435.8 522.1h1.6M1429.2 540.4h1.6M1415.9 582.5h1.6M1419.5 563.0h1.6M1427.5 558.3h1.6M1455.6 467.8h1.6M1423.1 514.5h1.6M1436.2 476.7h1.6M1440.4 462.6h1.6M1432.7 522.9h1.6M1435.8 531.9h1.6M1417.5 565.5h1.6M1409.7 603.1h1.6M1403.7 619.2h1.6M1399.2 618.9h1.6M1447.6 499.1h1.6M1458.4 454.3h1.6M1401.6 609.3h1.6M1452.6 476.8h1.6M1405.4 617.9h1.6M1420.4 576.8h1.6M1422.1 504.2h1.6M1428.6 560.0h1.6M1403.0 616.0h1.6M1434.8 452.0h1.6M1421.8 528.8h1.6M1435.0 455.3h1.6M1417.5 537.7h1.6M1432.2 470.2h1.6M1453.5 456.4h1.6M1404.8 601.5h1.6M1428.1 561.1h1.6M1432.7 493.0h1.6M1409.9 604.2h1.6M1427.5 558.8h1.6M1421.8 550.4h1.6M1423.3 570.0h1.6M1438.4 460.2h1.6M1444.6 501.8h1.6M1439.5 500.8h1.6M1425.7 526.3h1.6M1432.9 537.7h1.6M1418.6 565.3h1.6M1436.3 476.7h1.6M1429.5 532.6h1.6M1398.2 624.6h1.6M1407.2 614.4h1.6M1421.9 527.7h1.6M1448.6 491.3h1.6M1444.0 480.8h1.6M1415.3 564.3h1.6M1449.0 456.0h1.6M1445.5 459.7h1.6M1401.1 619.9h1.6M1424.4 504.9h1.6M1430.1 503.2h1.6M1447.9 470.9h1.6M1427.4 555.5h1.6M1434.9 469.2h1.6M1399.6 611.8h1.6M1438.8 515.0h1.6M1430.2 490.4h1.6M1417.4 561.7h1.6M1430.4 509.1h1.6M1438.7 502.6h1.6M1419.8 578.6h1.6M1397.2 621.5h1.6M1449.2 495.3h1.6M1415.6 589.7h1.6M1427.9 489.3h1.6M1445.7 498.5h1.6M1413.2 581.4h1.6M1424.2 565.4h1.6M1425.2 500.5h1.6M1414.0 591.9h1.6M1414.7 591.3h1.6M1435.2 514.2h1.6M1441.0 514.5h1.6M1447.4 472.1h1.6M1442.3 510.9h1.6M1407.8 590.7h1.6M1436.6 453.2h1.6M1404.4 618.1h1.6M1413.3 573.6h1.6M1436.8 487.5h1.6M1429.5 543.4h1.6M1454.4 461.0h1.6M1442.6 493.2h1.6M1428.8 505.8h1.6M1404.7 602.3h1.6M1432.3 538.4h1.6M1413.0 594.9h1.6M1440.4 492.9h1.6M1422.3 533.1h1.6M1416.1 585.1h1.6M1405.5 606.4h1.6" stroke="#6a6a6a" stroke-width="1.8" opacity="0.55"/></g>
</g>
<g clip-path="url(#cf5)">
<g><path d="M1753.4 84.0 C1757.2 83.6 1760.5 84.9 1764.1 85.5 C1767.7 86.2 1771.3 86.7 1774.8 88.0 C1778.4 89.3 1782.2 91.2 1785.6 93.2 C1788.9 95.3 1792.0 97.5 1794.8 100.3 C1797.6 103.1 1800.1 106.9 1802.4 110.1 C1804.8 113.3 1806.8 116.6 1808.6 119.3 C1810.5 122.0 1811.2 124.1 1813.7 126.1 C1816.3 128.0 1820.7 129.0 1824.0 131.0 C1827.4 132.9 1831.0 134.5 1833.9 137.7 C1836.7 140.9 1839.4 144.9 1841.0 150.0 C1842.6 155.1 1842.4 161.2 1843.5 168.4 C1844.5 175.6 1846.3 184.2 1847.4 192.9 C1848.5 201.6 1849.7 211.4 1850.0 220.6 C1850.2 229.8 1849.8 239.5 1848.9 248.2 C1848.1 256.9 1846.5 265.8 1844.9 272.7 C1843.2 279.6 1841.0 285.0 1838.9 289.6 C1836.8 294.2 1834.3 297.3 1832.1 300.3 C1829.9 303.4 1826.9 304.4 1825.8 308.0 C1824.7 311.6 1825.3 316.4 1825.5 321.8 C1825.6 327.2 1826.9 333.3 1826.8 340.2 C1826.6 347.1 1826.1 355.6 1824.6 363.2 C1823.1 370.9 1820.7 379.3 1817.6 386.3 C1814.6 393.2 1810.5 399.4 1806.4 404.7 C1802.3 409.9 1797.6 414.2 1793.2 417.6 C1788.8 420.9 1783.4 420.1 1780.1 424.6 C1776.8 429.1 1776.5 436.1 1773.4 444.6 C1770.3 453.1 1765.3 465.1 1761.6 475.4 C1757.8 485.6 1754.3 495.9 1750.8 506.1 C1747.2 516.4 1743.9 526.6 1740.2 536.9 C1736.5 547.1 1732.8 557.4 1728.8 567.7 C1724.9 577.9 1720.5 589.2 1716.5 598.4 C1712.5 607.6 1705.8 623.0 1704.9 623.0 C1704.1 623.0 1709.3 607.6 1711.6 598.4 C1713.9 589.2 1716.7 577.9 1719.0 567.7 C1721.3 557.4 1723.5 547.1 1725.5 536.9 C1727.4 526.6 1729.5 516.4 1730.8 506.1 C1732.2 495.9 1733.2 485.6 1733.7 475.4 C1734.1 465.1 1734.5 452.7 1733.5 444.6 C1732.6 436.5 1732.1 430.9 1728.0 426.8 C1724.0 422.7 1715.8 423.4 1709.2 420.0 C1702.6 416.6 1694.4 412.1 1688.6 406.2 C1682.8 400.3 1678.3 392.6 1674.5 384.7 C1670.7 376.8 1667.3 366.8 1665.8 358.6 C1664.2 350.5 1664.6 342.5 1665.0 335.6 C1665.4 328.7 1669.6 322.3 1668.2 317.2 C1666.8 312.1 1660.4 310.6 1656.6 304.9 C1652.8 299.3 1648.2 291.9 1645.5 283.5 C1642.7 275.0 1641.0 264.8 1640.1 254.3 C1639.1 243.8 1639.0 231.3 1639.7 220.6 C1640.5 209.8 1641.7 199.3 1644.6 189.9 C1647.5 180.4 1652.1 170.8 1657.3 163.8 C1662.4 156.7 1669.7 151.8 1675.5 147.5 C1681.3 143.3 1687.2 140.9 1691.8 138.3 C1696.4 135.8 1700.1 134.8 1703.1 132.2 C1706.0 129.5 1707.0 126.2 1709.5 122.4 C1712.0 118.6 1714.8 113.7 1718.1 109.5 C1721.3 105.3 1725.0 100.8 1728.8 97.2 C1732.6 93.6 1737.0 90.2 1741.1 88.0 C1745.2 85.8 1749.5 84.4 1753.4 84.0 Z" fill="#ababab" filter="url(#fb1)"/><path d="M1754.5 96.0 C1757.7 95.6 1760.6 96.9 1763.6 97.5 C1766.7 98.2 1769.7 98.6 1772.7 99.8 C1775.7 101.0 1778.9 102.7 1781.6 104.6 C1784.4 106.4 1787.0 108.4 1789.1 110.9 C1791.3 113.4 1793.0 116.8 1794.7 119.6 C1796.3 122.4 1797.6 125.2 1799.0 127.5 C1800.4 129.7 1800.8 131.4 1803.1 132.9 C1805.3 134.4 1809.4 134.9 1812.6 136.3 C1815.8 137.8 1819.1 137.8 1822.2 141.5 C1825.2 145.2 1828.9 152.9 1830.9 158.5 C1832.9 164.1 1833.0 168.7 1834.2 175.1 C1835.4 181.5 1837.1 189.2 1838.0 196.9 C1839.0 204.6 1839.8 213.0 1840.0 221.0 C1840.2 229.0 1840.0 237.5 1839.3 245.1 C1838.7 252.7 1837.6 260.7 1836.2 266.8 C1834.8 272.9 1832.9 275.1 1830.9 281.9 C1829.0 288.7 1826.7 301.9 1824.6 307.4 C1822.5 312.9 1819.4 311.6 1818.1 315.0 C1816.8 318.3 1816.9 322.7 1816.6 327.3 C1816.3 332.0 1817.0 337.2 1816.6 343.0 C1816.2 348.8 1815.6 355.6 1814.2 361.9 C1812.8 368.1 1810.9 374.9 1808.4 380.5 C1806.0 386.2 1802.8 391.3 1799.4 395.7 C1796.0 400.0 1791.7 403.7 1788.0 406.6 C1784.3 409.4 1780.1 408.4 1777.3 412.8 C1774.5 417.2 1773.8 424.5 1771.3 433.0 C1768.8 441.4 1765.7 453.2 1762.5 463.5 C1759.3 473.7 1755.5 484.0 1752.1 494.3 C1748.7 504.5 1745.7 514.7 1742.3 525.0 C1738.9 535.2 1735.3 545.5 1731.6 555.7 C1727.8 566.0 1723.6 577.2 1719.8 586.4 C1716.1 595.7 1709.6 611.0 1709.0 611.0 C1708.3 611.0 1713.6 595.6 1716.1 586.4 C1718.6 577.2 1721.6 565.9 1724.1 555.7 C1726.6 545.4 1728.9 535.2 1731.1 525.0 C1733.2 514.8 1735.2 504.5 1736.8 494.4 C1738.4 484.3 1740.1 474.3 1740.7 464.3 C1741.3 454.2 1741.8 442.1 1740.4 434.0 C1739.0 425.9 1736.3 419.6 1732.2 415.6 C1728.1 411.6 1721.4 413.0 1715.9 410.2 C1710.4 407.3 1703.9 403.6 1699.2 398.6 C1694.4 393.6 1690.6 387.1 1687.3 380.4 C1684.0 373.6 1681.0 365.2 1679.5 358.2 C1678.0 351.3 1678.1 344.5 1678.4 338.5 C1678.7 332.6 1682.8 327.1 1681.3 322.6 C1679.9 318.0 1673.7 318.8 1669.7 311.1 C1665.7 303.4 1659.9 286.6 1657.3 276.5 C1654.6 266.4 1654.4 259.6 1654.0 250.4 C1653.5 241.1 1653.7 230.4 1654.4 221.0 C1655.1 211.7 1656.1 202.7 1658.2 194.4 C1660.3 186.1 1663.2 177.6 1667.1 171.3 C1671.0 165.0 1675.7 161.5 1681.6 156.8 C1687.6 152.0 1697.7 145.9 1702.9 142.8 C1708.2 139.7 1710.6 140.3 1713.1 138.2 C1715.6 136.0 1716.0 133.2 1718.1 130.0 C1720.1 126.8 1722.5 122.6 1725.2 118.9 C1727.8 115.2 1730.9 111.2 1734.0 108.0 C1737.2 104.8 1740.7 101.6 1744.1 99.6 C1747.5 97.6 1751.2 96.3 1754.5 96.0 Z" fill="#e3e3e3" filter="url(#fb4)"/><path d="M1726.4 134.0 C1735.2 128.5 1744.5 127.0 1753.0 126.0 C1761.5 125.0 1769.1 126.3 1777.2 128.0 C1785.4 129.7 1797.2 130.8 1802.1 136.0 C1806.9 141.2 1805.3 149.3 1806.5 159.0 C1807.7 168.7 1809.2 181.5 1809.4 194.0 C1809.6 206.5 1809.1 221.5 1807.7 234.0 C1806.3 246.5 1803.0 259.0 1801.1 269.0 C1799.2 279.0 1796.1 284.8 1796.5 294.0 C1796.8 303.2 1801.8 314.0 1803.3 324.0 C1804.8 334.0 1806.2 344.0 1805.4 354.0 C1804.6 364.0 1802.1 375.3 1798.4 384.0 C1794.8 392.7 1788.9 400.7 1783.6 406.0 C1778.3 411.3 1772.4 414.3 1766.4 416.0 C1760.3 417.7 1754.4 417.7 1747.4 416.0 C1740.4 414.3 1731.1 411.3 1724.5 406.0 C1717.8 400.7 1711.3 392.7 1707.3 384.0 C1703.3 375.3 1701.5 364.0 1700.4 354.0 C1699.4 344.0 1700.3 333.7 1701.0 324.0 C1701.7 314.3 1705.8 305.2 1704.7 296.0 C1703.6 286.8 1697.5 279.3 1694.3 269.0 C1691.1 258.7 1687.2 246.5 1685.7 234.0 C1684.3 221.5 1683.4 206.5 1685.7 194.0 C1688.1 181.5 1693.2 169.0 1699.9 159.0 C1706.7 149.0 1717.5 139.5 1726.4 134.0 Z" fill="#ababab" opacity="0.55" filter="url(#fb6)"/><path d="M1789.5 202.0 C1789.5 205.4 1788.9 209.0 1787.8 212.3 C1786.7 215.5 1784.9 218.7 1782.9 221.3 C1780.8 223.9 1778.2 226.3 1775.4 228.0 C1772.6 229.7 1769.4 231.0 1766.2 231.5 C1763.0 232.1 1760.0 232.1 1756.4 231.5 C1752.8 231.0 1748.3 229.7 1744.4 228.0 C1740.6 226.3 1736.4 223.9 1733.4 221.3 C1730.3 218.7 1727.8 215.5 1726.2 212.3 C1724.5 209.0 1723.6 205.4 1723.6 202.0 C1723.6 198.6 1724.5 195.0 1726.2 191.7 C1727.8 188.5 1730.3 185.3 1733.4 182.7 C1736.4 180.1 1740.6 177.7 1744.4 176.0 C1748.3 174.3 1752.8 173.0 1756.4 172.5 C1760.0 171.9 1763.1 171.9 1766.3 172.5 C1769.4 173.0 1772.6 174.3 1775.4 176.0 C1778.2 177.7 1780.8 180.1 1782.9 182.7 C1784.9 185.3 1786.7 188.5 1787.8 191.7 C1788.9 195.0 1789.5 198.6 1789.5 202.0 Z" fill="#a9a9a9" opacity="0.35" filter="url(#fb6)"/><path d="M1761.7 346.0 C1761.7 351.9 1761.3 358.2 1760.5 363.8 C1759.7 369.4 1758.5 374.9 1756.8 379.4 C1755.2 384.0 1753.2 388.1 1750.7 391.0 C1748.2 394.0 1744.8 396.2 1741.8 397.2 C1738.7 398.2 1735.3 398.2 1732.2 397.2 C1729.2 396.2 1726.0 394.0 1723.3 391.0 C1720.6 388.1 1718.0 384.0 1716.0 379.4 C1714.0 374.9 1712.3 369.4 1711.2 363.8 C1710.2 358.2 1709.6 351.9 1709.6 346.0 C1709.5 340.1 1710.1 333.8 1711.0 328.2 C1711.9 322.6 1713.1 317.1 1714.9 312.6 C1716.7 308.0 1719.2 303.9 1721.8 301.0 C1724.5 298.0 1727.8 295.8 1731.0 294.8 C1734.2 293.8 1737.8 293.8 1741.1 294.8 C1744.4 295.8 1748.0 298.0 1750.6 301.0 C1753.2 303.9 1755.1 308.0 1756.8 312.6 C1758.4 317.1 1759.6 322.6 1760.4 328.2 C1761.3 333.8 1761.7 340.1 1761.7 346.0 Z" fill="#e4e4e4" opacity="0.55" filter="url(#fb6)"/><path d="M1803.7 346.0 C1803.7 351.7 1803.3 357.7 1802.5 363.1 C1801.8 368.5 1800.6 373.8 1799.2 378.1 C1797.8 382.5 1796.0 386.5 1794.1 389.3 C1792.2 392.2 1789.9 394.3 1787.8 395.2 C1785.6 396.2 1783.3 396.2 1781.1 395.2 C1779.0 394.3 1776.7 392.2 1774.8 389.3 C1772.9 386.5 1771.1 382.5 1769.7 378.1 C1768.3 373.8 1767.1 368.5 1766.4 363.1 C1765.6 357.7 1765.2 351.7 1765.2 346.0 C1765.2 340.3 1765.6 334.3 1766.3 328.9 C1767.0 323.5 1768.1 318.2 1769.4 313.9 C1770.7 309.5 1772.3 305.5 1774.1 302.7 C1775.9 299.8 1777.9 297.7 1780.0 296.8 C1782.0 295.8 1784.3 295.8 1786.4 296.8 C1788.5 297.7 1790.7 299.8 1792.7 302.7 C1794.7 305.5 1796.7 309.5 1798.3 313.9 C1799.9 318.2 1801.4 323.5 1802.3 328.9 C1803.2 334.3 1803.6 340.3 1803.7 346.0 Z" fill="#e4e4e4" opacity="0.55" filter="url(#fb6)"/><path d="M1780.3 156.2 C1783.7 162.0 1797.1 183.7 1800.8 191.1 C1804.5 198.6 1802.2 197.3 1802.4 200.7 C1802.6 204.2 1802.1 208.4 1802.0 212.1 C1801.9 215.7 1801.8 219.2 1801.9 222.7 C1802.0 226.3 1802.3 229.7 1802.5 233.2 C1802.7 236.8 1803.2 240.9 1803.1 244.1 C1802.9 247.3 1803.2 237.2 1801.7 252.3 C1800.2 267.4 1796.7 319.7 1794.2 334.6 C1791.6 349.5 1787.8 340.4 1786.5 341.6" fill="none" stroke="#f0f0f0" stroke-width="7" opacity="0.65" filter="url(#fb2)"/><path d="M1792.1 342.1 C1791.7 343.5 1790.3 347.7 1789.4 350.4 C1788.4 353.1 1787.3 355.8 1786.4 358.3 C1785.5 360.8 1784.7 363.1 1783.8 365.3 C1782.9 367.6 1782.1 369.7 1780.9 371.7 C1779.7 373.7 1778.2 375.6 1776.8 377.2 C1775.4 378.8 1773.2 380.5 1772.4 381.2" fill="none" stroke="#f0f0f0" stroke-width="7" opacity="0.65" filter="url(#fb2)"/><path d="M1736.5 383.9 C1735.0 383.0 1730.0 380.9 1727.5 378.4 C1724.9 375.8 1723.3 372.3 1721.4 368.7 C1719.5 365.2 1717.3 361.0 1716.0 357.2 C1714.8 353.5 1714.0 349.6 1713.8 346.2 C1713.7 342.8 1714.8 338.4 1714.9 336.9" fill="none" stroke="#f0f0f0" stroke-width="7" opacity="0.65" filter="url(#fb2)"/><path d="M1717.4 334.6 C1715.0 320.4 1704.7 266.2 1703.0 249.7 C1701.3 233.1 1705.8 239.8 1707.1 235.3 C1708.4 230.8 1710.1 226.8 1710.6 222.8 C1711.1 218.9 1710.3 215.6 1710.3 211.8 C1710.2 208.0 1709.7 203.4 1710.4 200.1 C1711.1 196.8 1708.2 199.0 1714.4 192.1 C1720.5 185.2 1741.4 164.6 1747.2 158.9 C1753.1 153.1 1748.9 158.2 1749.4 157.6 C1750.0 157.1 1750.3 156.0 1750.5 155.7" fill="none" stroke="#f0f0f0" stroke-width="7" opacity="0.65" filter="url(#fb2)"/><path d="M1737.4 434.0 C1743.8 422.3 1770.4 422.3 1773.1 434.0 C1775.9 445.7 1760.9 482.5 1753.9 504.2 C1746.8 525.9 1738.5 545.1 1730.7 564.4 C1722.8 583.6 1708.2 619.5 1706.8 619.5 C1705.5 619.5 1718.0 583.6 1722.7 564.4 C1727.3 545.1 1732.4 525.9 1734.9 504.2 C1737.3 482.5 1731.0 445.7 1737.4 434.0 Z" fill="#848484" opacity="0.6" filter="url(#fb4)"/><path d="M1756.4 429.0 C1754.9 438.2 1751.0 466.6 1747.2 484.2 C1743.4 501.7 1738.6 517.6 1733.8 534.3 C1729.0 551.0 1722.7 571.0 1718.4 584.4 C1714.1 597.8 1709.6 609.5 1707.8 614.5" fill="none" stroke="#d8d8d8" stroke-width="5" opacity="0.6" filter="url(#fb2)"/><path d="M1760.7 129.0 C1760.8 141.5 1760.9 178.2 1761.3 204.0 C1761.7 229.8 1762.4 257.3 1763.0 284.0 C1763.5 310.7 1764.2 340.7 1764.4 364.0 C1764.5 387.3 1764.1 414.0 1764.0 424.0" fill="none" stroke="#ececec" stroke-width="3" opacity="0.35" filter="url(#fb1)"/><ellipse cx="1759.6" cy="202.0" rx="5.5" ry="10" fill="#7a7a7a" filter="url(#fb2)"/><path d="M1730.8 118.0 C1732.5 116.5 1737.3 111.0 1741.0 109.0 C1744.7 107.0 1749.0 106.0 1753.0 106.0 C1757.0 106.0 1761.4 107.0 1765.0 109.0 C1768.6 111.0 1773.2 116.5 1774.8 118.0" fill="none" stroke="#a0a0a0" stroke-width="2" opacity="0.55" filter="url(#fb1)"/><clipPath id="fc5"><path d="M1753.6 86.5 C1757.3 86.1 1760.5 87.4 1764.0 88.0 C1767.5 88.7 1770.9 89.2 1774.4 90.5 C1777.8 91.7 1781.5 93.6 1784.8 95.6 C1788.0 97.6 1790.9 99.7 1793.6 102.5 C1796.3 105.2 1798.7 109.0 1800.9 112.1 C1803.1 115.2 1804.9 118.4 1806.6 121.0 C1808.4 123.6 1809.0 125.6 1811.5 127.5 C1814.0 129.3 1818.3 130.2 1821.6 132.1 C1825.0 133.9 1828.5 135.2 1831.4 138.5 C1834.3 141.8 1837.1 146.5 1838.8 151.8 C1840.5 157.0 1840.4 162.8 1841.5 169.8 C1842.6 176.8 1844.4 185.3 1845.5 193.8 C1846.5 202.2 1847.6 211.7 1847.9 220.7 C1848.1 229.6 1847.7 239.1 1846.9 247.5 C1846.1 256.0 1844.7 264.7 1843.1 271.5 C1841.4 278.2 1839.3 282.9 1837.2 288.0 C1835.1 293.0 1832.7 298.2 1830.5 301.8 C1828.4 305.4 1825.4 305.9 1824.2 309.5 C1823.1 313.0 1823.6 317.7 1823.6 323.0 C1823.7 328.2 1824.8 334.1 1824.6 340.8 C1824.4 347.5 1823.9 355.6 1822.4 363.0 C1821.0 370.3 1818.6 378.4 1815.7 385.1 C1812.8 391.7 1808.9 397.8 1804.9 402.8 C1801.0 407.8 1796.3 412.0 1792.0 415.3 C1787.8 418.5 1782.7 417.7 1779.5 422.1 C1776.3 426.6 1776.0 433.7 1773.0 442.2 C1770.1 450.6 1765.5 462.6 1761.8 472.9 C1758.1 483.1 1754.6 493.4 1751.1 503.7 C1747.6 513.9 1744.3 524.2 1740.6 534.4 C1737.0 544.7 1733.3 554.9 1729.4 565.2 C1725.5 575.4 1721.1 586.7 1717.2 595.9 C1713.3 605.1 1706.6 620.5 1705.8 620.5 C1705.0 620.5 1710.2 605.1 1712.5 595.9 C1714.9 586.7 1717.7 575.4 1720.1 565.2 C1722.4 554.9 1724.6 544.7 1726.6 534.4 C1728.6 524.2 1730.7 513.9 1732.1 503.7 C1733.5 493.5 1734.7 483.3 1735.2 473.1 C1735.6 462.8 1736.0 450.5 1735.0 442.4 C1734.0 434.3 1733.0 428.5 1728.9 424.4 C1724.9 420.4 1716.9 421.3 1710.5 418.0 C1704.1 414.7 1696.3 410.3 1690.8 404.6 C1685.2 398.9 1680.9 391.5 1677.2 383.8 C1673.5 376.1 1670.2 366.5 1668.6 358.6 C1667.1 350.6 1667.4 342.9 1667.8 336.2 C1668.2 329.5 1672.4 323.3 1671.0 318.3 C1669.6 313.3 1663.2 312.3 1659.3 306.2 C1655.5 300.2 1650.6 290.8 1647.9 282.0 C1645.1 273.2 1643.8 263.7 1643.0 253.5 C1642.1 243.3 1642.0 231.1 1642.8 220.7 C1643.5 210.2 1644.7 200.0 1647.4 190.8 C1650.2 181.6 1654.3 172.3 1659.2 165.4 C1664.1 158.5 1670.9 153.8 1676.7 149.5 C1682.5 145.1 1689.4 141.9 1694.1 139.3 C1698.8 136.6 1702.3 136.0 1705.1 133.4 C1708.0 130.9 1708.9 127.6 1711.3 124.0 C1713.7 120.3 1716.5 115.5 1719.6 111.4 C1722.7 107.4 1726.2 103.0 1729.9 99.5 C1733.6 96.0 1737.8 92.6 1741.7 90.4 C1745.7 88.3 1749.9 86.9 1753.6 86.5 Z"/></clipPath><g clip-path="url(#fc5)"><path d="M1826.6 134.4L1817.7 146.4M1830.3 136.8L1820.5 148.3M1833.4 139.7L1821.8 151.3M1836.0 143.2L1819.7 158.1M1837.8 146.3L1816.7 163.5M1839.2 149.6L1813.4 168.3M1840.2 153.4L1809.9 172.6M1841.0 157.6L1806.6 177.0M1841.5 162.2L1803.4 181.4M1842.0 167.2L1800.0 185.6M1842.6 172.5L1796.5 189.8M1843.6 178.4L1796.6 193.2M1844.8 184.6L1797.4 197.2M1845.9 191.1L1798.2 202.1M1846.5 195.4L1798.7 205.0M1847.1 199.8L1799.1 208.4M1847.6 204.4L1799.5 211.7M1848.0 209.0L1799.8 215.0M1848.4 213.7L1800.0 218.2M1848.6 218.3L1800.2 221.2M1848.8 222.9L1800.3 224.0M1848.8 227.5L1800.3 227.0M1848.7 232.2L1800.2 230.2M1848.5 236.8L1800.1 233.4M1848.3 241.4L1799.9 236.6M1847.9 245.8L1799.7 239.7M1847.5 250.2L1799.4 242.5M1847.0 254.5L1799.7 245.0M1846.0 260.8L1803.5 250.6M1844.9 266.8L1807.1 255.6M1843.7 272.3L1810.7 260.1M1842.3 277.1L1814.3 264.1M1840.8 281.4L1817.6 268.4M1839.3 285.3L1820.7 272.9M1837.3 289.9L1823.1 278.7M1835.1 293.7L1825.3 284.2M1832.8 297.0L1824.0 287.6M1830.0 300.8L1821.3 291.1M1824.7 326.5L1816.1 327.1M1825.2 331.4L1814.4 331.9M1825.5 336.7L1808.5 336.7M1825.4 341.9L1802.3 340.8M1825.1 347.5L1795.9 345.1M1824.7 353.3L1789.5 348.8M1824.0 359.1L1785.7 351.5M1822.9 364.8L1785.2 354.4M1821.6 370.6L1784.3 357.8M1819.9 376.5L1783.3 361.2M1817.9 382.1L1782.3 364.1M1815.7 387.3L1781.4 366.3M1813.2 392.1L1780.4 368.2M1810.5 396.7L1779.2 370.3M1807.5 401.0L1777.9 372.1M1804.4 404.9L1776.9 373.4M1801.1 408.4L1778.1 377.6M1797.8 411.7L1779.9 384.8M1794.5 414.6L1781.0 392.5M1791.3 417.1L1781.9 400.1M1787.7 419.2L1782.0 407.9M1784.0 421.1L1779.8 411.8M1723.8 423.9L1726.6 414.4M1718.7 422.3L1722.5 411.2M1713.3 420.3L1721.4 403.6M1708.2 417.9L1722.3 396.3M1703.0 415.0L1723.6 389.0M1697.8 411.7L1725.8 382.0M1692.8 408.0L1729.2 377.0M1688.5 403.8L1728.8 376.5M1684.7 399.0L1727.7 375.2M1681.2 393.7L1726.1 372.7M1678.1 388.0L1724.2 369.4M1675.2 382.1L1722.3 365.4M1673.4 378.0L1721.3 363.2M1671.7 373.6L1720.2 360.3M1670.2 369.1L1719.2 357.3M1668.9 364.7L1718.4 354.4M1667.9 360.5L1717.9 352.6M1666.8 354.4L1710.8 350.0M1666.3 348.5L1702.9 347.3M1666.3 342.9L1695.2 343.4M1666.6 337.5L1687.8 339.1M1667.1 332.3L1680.6 334.3M1668.0 327.1L1679.4 329.4M1655.1 299.1L1669.8 294.5M1651.9 293.6L1667.0 289.2M1648.8 287.3L1667.3 282.8M1647.2 283.1L1673.1 278.1M1646.0 278.8L1679.2 273.4M1645.0 274.2L1685.3 268.5M1644.0 269.4L1691.6 263.6M1643.2 264.5L1698.0 258.8M1642.5 259.4L1704.5 254.3M1641.9 254.2L1711.2 250.0M1641.5 248.8L1713.0 245.9M1641.2 243.2L1712.8 241.5M1641.1 237.5L1712.7 236.9M1641.1 231.8L1712.7 232.4M1641.2 226.1L1712.8 228.0M1641.5 220.6L1713.0 223.9M1642.0 215.3L1713.3 219.9M1642.6 210.1L1713.7 216.1M1643.3 204.9L1714.3 212.4M1644.2 199.9L1714.9 208.9M1645.2 195.0L1715.5 205.7M1646.4 190.2L1716.2 202.9M1647.8 185.5L1717.0 200.1M1649.3 180.9L1718.0 197.4M1651.1 176.4L1719.0 194.7M1653.3 172.1L1717.8 192.3M1657.3 166.2L1712.8 186.9M1661.6 161.2L1707.2 183.0M1666.0 156.8L1701.9 178.9M1670.5 153.0L1697.7 173.9M1674.9 149.6L1694.3 168.7M1680.6 145.8L1692.7 162.5M1686.1 142.8L1693.0 156.0M1691.2 140.2L1696.9 151.4M1695.8 137.7L1701.6 148.9" stroke="#999999" stroke-width="1.1" opacity="0.36" fill="none"/><path d="M1828.4 135.5L1819.3 147.4M1831.9 138.2L1821.7 149.3M1834.7 141.4L1822.4 152.8M1837.3 145.2L1820.1 159.8M1838.8 148.5L1816.7 164.9M1839.9 152.1L1813.2 169.7M1840.7 156.2L1809.7 174.3M1841.3 160.6L1806.3 178.9M1841.8 165.5L1802.9 183.4M1842.4 170.7L1799.4 187.7M1843.2 176.4L1796.4 192.1M1844.4 182.5L1797.2 195.8M1845.5 188.9L1798.0 200.5M1846.2 193.2L1798.4 203.4M1846.8 197.6L1798.9 206.7M1847.4 202.1L1799.3 210.0M1847.8 206.7L1799.7 213.4M1848.2 211.4L1799.9 216.6M1848.5 216.0L1800.1 219.7M1848.7 220.6L1800.2 222.6M1848.8 225.2L1800.3 225.5M1848.8 229.8L1800.3 228.6M1848.6 234.5L1800.2 231.8M1848.4 239.1L1800.0 235.0M1848.1 243.6L1799.8 238.2M1847.7 248.0L1799.6 240.7M1847.0 254.5L1799.1 245.3M1846.0 260.8L1802.3 250.3M1844.9 266.8L1806.1 255.3M1843.7 272.3L1809.8 259.8M1842.3 277.1L1813.5 263.8M1840.8 281.4L1817.0 268.0M1839.3 285.3L1820.2 272.6M1837.3 289.9L1822.7 278.3M1835.1 293.7L1825.0 283.9M1832.8 297.0L1824.0 287.6M1830.0 300.8L1821.3 291.1M1825.1 329.7L1816.4 330.2M1825.4 334.9L1814.0 335.1M1825.5 340.2L1807.6 339.6M1825.2 345.6L1801.0 343.9M1824.9 351.3L1794.3 348.0M1824.3 357.2L1787.6 350.9M1823.3 362.9L1785.4 353.4M1822.1 368.7L1784.6 356.6M1820.5 374.5L1783.7 360.1M1818.6 380.3L1782.7 363.2M1816.5 385.6L1781.7 365.6M1814.1 390.5L1780.8 367.6M1811.4 395.2L1779.6 369.6M1808.5 399.6L1778.3 371.6M1805.4 403.6L1777.2 373.1M1802.2 407.3L1777.4 375.7M1798.9 410.6L1779.8 382.9M1795.6 413.6L1781.2 390.8M1792.3 416.3L1782.3 398.7M1788.9 418.5L1782.8 406.8M1785.2 420.5L1780.9 411.3M1720.4 422.8L1723.4 413.4M1715.0 421.0L1719.5 410.1M1709.8 418.7L1719.3 402.6M1704.8 416.0L1720.3 395.1M1699.5 412.8L1721.7 387.7M1694.4 409.3L1724.8 381.3M1689.9 405.2L1728.9 376.7M1686.0 400.6L1728.1 375.8M1682.4 395.5L1726.7 373.6M1679.1 389.9L1724.9 370.6M1676.1 384.1L1722.9 366.7M1674.3 380.1L1721.9 364.5M1672.5 375.8L1720.8 361.7M1671.0 371.3L1719.7 358.8M1669.6 366.9L1718.8 355.8M1668.4 362.6L1718.2 353.7M1667.1 356.4L1717.4 350.2M1666.4 350.5L1710.6 348.0M1666.3 344.7L1702.9 344.8M1666.5 339.2L1695.4 340.8M1666.9 334.1L1688.0 336.6M1667.7 328.8L1681.2 331.4M1668.7 323.7L1680.1 326.4M1654.0 297.4L1668.8 292.8M1650.8 291.5L1666.0 287.3M1648.8 287.3L1667.4 283.0M1647.2 283.1L1673.1 278.1M1646.0 278.8L1679.2 273.4M1645.0 274.2L1685.3 268.5M1644.0 269.4L1691.6 263.6M1643.2 264.5L1698.0 258.8M1642.5 259.4L1704.5 254.3M1641.9 254.2L1711.2 250.0M1641.5 248.8L1713.0 245.9M1641.2 243.2L1712.8 241.5M1641.1 237.5L1712.7 236.9M1641.1 231.8L1712.7 232.4M1641.2 226.1L1712.8 228.0M1641.5 220.6L1713.0 223.9M1642.0 215.3L1713.3 219.9M1642.6 210.1L1713.7 216.1M1643.3 204.9L1714.3 212.4M1644.2 199.9L1714.9 208.9M1645.2 195.0L1715.5 205.7M1646.4 190.2L1716.2 202.9M1647.8 185.5L1717.0 200.1M1649.3 180.9L1718.0 197.4M1651.1 176.4L1719.0 194.7M1653.3 172.1L1717.8 192.3M1657.3 166.2L1712.8 186.9M1661.6 161.2L1707.2 183.0M1666.0 156.8L1701.9 178.9M1670.5 153.0L1697.7 173.9M1674.9 149.6L1694.3 168.7M1680.6 145.8L1692.7 162.5M1686.1 142.8L1693.0 156.0M1691.2 140.2L1696.9 151.4M1695.8 137.7L1701.6 148.9" stroke="#ffffff" stroke-width="1.3" opacity="0.38" fill="none"/></g><path d="M1753.7 500.1h1.6M1713.3 607.5h1.6M1725.4 578.7h1.6M1758.7 444.1h1.6M1751.7 486.3h1.6M1738.2 517.7h1.6M1736.5 536.6h1.6M1724.0 585.1h1.6M1748.5 502.9h1.6M1713.0 595.6h1.6M1750.6 465.1h1.6M1722.4 574.4h1.6M1754.0 475.5h1.6M1751.6 499.4h1.6M1751.6 472.8h1.6M1750.4 509.7h1.6M1761.1 467.7h1.6M1734.8 515.2h1.6M1747.2 479.5h1.6M1716.3 602.4h1.6M1711.9 604.2h1.6M1746.4 484.3h1.6M1725.6 554.8h1.6M1704.3 612.2h1.6M1738.3 484.1h1.6M1736.7 472.6h1.6M1742.7 484.9h1.6M1711.3 604.1h1.6M1727.9 550.5h1.6M1750.7 473.0h1.6M1718.3 568.1h1.6M1724.3 554.7h1.6M1724.4 561.6h1.6M1739.4 469.2h1.6M1720.9 579.1h1.6M1764.3 458.6h1.6M1738.8 491.2h1.6M1748.1 444.5h1.6M1741.5 539.5h1.6M1743.3 495.0h1.6M1757.9 457.7h1.6M1740.2 495.2h1.6M1752.8 490.2h1.6M1705.1 611.1h1.6M1727.6 520.9h1.6M1728.6 571.9h1.6M1755.9 465.5h1.6M1741.9 495.9h1.6M1731.3 541.6h1.6M1726.1 555.1h1.6M1730.7 528.6h1.6M1729.5 516.3h1.6M1731.5 505.0h1.6M1729.2 549.9h1.6M1746.4 515.4h1.6M1750.3 470.7h1.6M1733.6 548.0h1.6M1720.4 573.7h1.6M1713.5 601.7h1.6M1755.6 456.8h1.6M1741.0 532.2h1.6M1727.0 567.7h1.6M1730.6 559.6h1.6M1736.0 520.2h1.6M1726.4 534.6h1.6M1731.3 531.0h1.6M1738.6 516.9h1.6M1727.1 555.1h1.6M1728.5 542.0h1.6M1709.8 610.4h1.6M1729.7 563.3h1.6M1743.6 448.6h1.6M1738.2 508.6h1.6M1739.1 511.8h1.6M1734.5 551.0h1.6M1725.0 562.1h1.6M1720.4 588.7h1.6M1705.2 607.8h1.6M1727.2 542.5h1.6M1721.0 590.9h1.6M1725.1 558.0h1.6M1715.4 592.8h1.6M1721.5 562.6h1.6M1761.2 462.3h1.6M1714.8 590.4h1.6M1746.0 458.3h1.6M1710.0 599.2h1.6M1720.4 571.8h1.6M1709.1 604.9h1.6M1710.3 605.8h1.6M1751.1 445.5h1.6M1729.6 516.5h1.6M1753.8 458.6h1.6M1727.8 567.9h1.6M1734.3 499.6h1.6M1740.3 522.1h1.6M1757.6 480.3h1.6M1707.0 610.7h1.6M1751.3 468.9h1.6M1760.8 470.3h1.6M1730.9 544.6h1.6M1719.5 589.9h1.6M1717.8 570.7h1.6M1736.1 508.0h1.6M1713.3 590.7h1.6M1749.6 462.6h1.6M1747.0 496.1h1.6M1731.2 507.2h1.6M1734.8 557.9h1.6M1727.5 562.2h1.6" stroke="#6a6a6a" stroke-width="1.8" opacity="0.55"/></g>
</g>
<path d="M45 50.0H356M45 146.0H356M45 241.0H356M45 335.0H356M45 429.0H356M45 523.0H356M45 618.0H356M117.0 0V674M212.0 0V674M306.0 0V674M356 50.0H665M356 146.0H665M356 241.0H665M356 335.0H665M356 429.0H665M356 523.0H665M356 618.0H665M428.0 0V674M523.0 0V674M617.0 0V674M665 50.0H970M665 146.0H970M665 241.0H970M665 335.0H970M665 429.0H970M665 523.0H970M665 618.0H970M737.0 0V674M832.0 0V674M926.0 0V674M970 50.0H1279M970 146.0H1279M970 241.0H1279M970 335.0H1279M970 429.0H1279M970 523.0H1279M970 618.0H1279M1042.0 0V674M1137.0 0V674M1231.0 0V674M1279 50.0H1588M1279 146.0H1588M1279 241.0H1588M1279 335.0H1588M1279 429.0H1588M1279 523.0H1588M1279 618.0H1588M1351.0 0V674M1446.0 0V674M1540.0 0V674M1588 50.0H1900M1588 146.0H1900M1588 241.0H1900M1588 335.0H1900M1588 429.0H1900M1588 523.0H1900M1588 618.0H1900M1660.0 0V674M1755.0 0V674M1849.0 0V674" stroke="#8a8a8a" stroke-width="2" fill="none" opacity="0.18"/>
<path d="M158.1 271.9L148.1 324.9M158.1 271.9L166.8 260.8M158.1 271.9L160.2 260.6M158.1 271.9L153.0 258.2M148.1 324.9L152.2 338.4M148.1 324.9L146.0 336.2M148.1 324.9L138.4 335.8" stroke="#ff0000" stroke-width="2.8" stroke-linecap="round" fill="none"/>
<path d="M471.0 268.7L463.4 316.3M471.0 268.7L479.4 257.4M471.0 268.7L472.8 257.3M471.0 268.7L465.6 255.2M463.4 316.3L467.8 329.7M463.4 316.3L461.6 327.7M463.4 316.3L454.0 327.5" stroke="#ff0000" stroke-width="2.8" stroke-linecap="round" fill="none"/>
<path d="M787.7 261.0L781.0 298.5M787.7 261.0L796.3 249.8M787.7 261.0L789.7 249.7M787.7 261.0L782.5 247.4M781.0 298.5L785.2 311.9M781.0 298.5L779.0 309.8M781.0 298.5L771.4 309.5" stroke="#ff0000" stroke-width="2.8" stroke-linecap="round" fill="none"/>
<path d="M1172.9 253.3L1181.7 302.5M1172.9 253.3L1177.1 239.9M1172.9 253.3L1170.9 242.0M1172.9 253.3L1163.3 242.3M1181.7 302.5L1190.3 313.7M1181.7 302.5L1183.7 313.8M1181.7 302.5L1176.5 316.1" stroke="#ff0000" stroke-width="2.8" stroke-linecap="round" fill="none"/>
<path d="M1478.7 243.8L1487.6 296.1M1478.7 243.8L1483.0 230.4M1478.7 243.8L1476.8 232.5M1478.7 243.8L1469.2 232.7M1487.6 296.1L1496.1 307.3M1487.6 296.1L1489.5 307.4M1487.6 296.1L1482.3 309.7" stroke="#ff0000" stroke-width="2.8" stroke-linecap="round" fill="none"/>
<path d="M1786.2 239.1L1794.1 278.8M1786.2 239.1L1790.1 225.6M1786.2 239.1L1784.0 227.8M1786.2 239.1L1776.4 228.3M1794.1 278.8L1802.9 289.8M1794.1 278.8L1796.3 290.1M1794.1 278.8L1789.2 292.5" stroke="#ff0000" stroke-width="2.8" stroke-linecap="round" fill="none"/>
<path d="M236.4 280.4L246.0 316.7M236.4 280.4L246.8 284.6M236.4 280.4L229.4 289.2M246.0 316.7L253.0 307.9M246.0 316.7L235.6 312.5" stroke="#0d1f5c" stroke-width="2.6" stroke-linecap="round" stroke-linejoin="round" fill="none"/>
<path d="M549.3 278.8L558.5 314.7M549.3 278.8L559.7 283.1M549.3 278.8L542.3 287.6M558.5 314.7L565.5 305.9M558.5 314.7L548.1 310.4" stroke="#0d1f5c" stroke-width="2.6" stroke-linecap="round" stroke-linejoin="round" fill="none"/>
<path d="M861.4 261.0L876.0 308.6M861.4 261.0L872.0 264.8M861.4 261.0L854.8 270.1M876.0 308.6L882.6 299.5M876.0 308.6L865.4 304.8" stroke="#0d1f5c" stroke-width="2.6" stroke-linecap="round" stroke-linejoin="round" fill="none"/>
<path d="M1098.4 261.3L1090.4 296.1M1098.4 261.3L1105.7 269.9M1098.4 261.3L1088.1 265.9M1090.4 296.1L1100.7 291.5M1090.4 296.1L1083.1 287.5" stroke="#0d1f5c" stroke-width="2.6" stroke-linecap="round" stroke-linejoin="round" fill="none"/>
<path d="M1400.1 249.5L1389.9 288.2M1400.1 249.5L1407.1 258.3M1400.1 249.5L1389.7 253.7M1389.9 288.2L1400.3 284.0M1389.9 288.2L1382.9 279.4" stroke="#0d1f5c" stroke-width="2.6" stroke-linecap="round" stroke-linejoin="round" fill="none"/>
<path d="M1710.0 237.6L1695.2 285.7M1710.0 237.6L1716.6 246.7M1710.0 237.6L1699.4 241.4M1695.2 285.7L1705.8 281.9M1695.2 285.7L1688.6 276.6" stroke="#0d1f5c" stroke-width="2.6" stroke-linecap="round" stroke-linejoin="round" fill="none"/>
<path d="M45 0.6H1900" stroke="#d4d4d4" stroke-width="1.2"/>
<path d="M45.6 0V674" stroke="#9a9a9a" stroke-width="1.2"/>
<text x="52.0" y="61.0" font-size="74.0" fill="#fff" style="font-family:&quot;Liberation Sans&quot;,Arial,Helvetica,sans-serif">a</text>
<text x="76.0" y="118.6" font-size="55.0" fill="#fff" style="font-family:&quot;Liberation Serif&quot;,&quot;Times New Roman&quot;,serif">i</text>
<text x="365.0" y="118.6" font-size="55.0" fill="#fff" style="font-family:&quot;Liberation Serif&quot;,&quot;Times New Roman&quot;,serif">ii</text>
<text x="690.0" y="118.6" font-size="55.0" fill="#fff" style="font-family:&quot;Liberation Serif&quot;,&quot;Times New Roman&quot;,serif">iii</text>
<text x="985.0" y="118.6" font-size="55.0" fill="#fff" style="font-family:&quot;Liberation Serif&quot;,&quot;Times New Roman&quot;,serif">iv</text>
<text x="1292.0" y="118.6" font-size="55.0" fill="#fff" style="font-family:&quot;Liberation Serif&quot;,&quot;Times New Roman&quot;,serif">v</text>
<text x="1605.0" y="118.6" font-size="55.0" fill="#fff" style="font-family:&quot;Liberation Serif&quot;,&quot;Times New Roman&quot;,serif">vi</text>
<text x="52.5" y="236.8" font-size="33.5" fill="#fff" style="font-family:&quot;Liberation Sans&quot;,Arial,Helvetica,sans-serif">RF</text>
<text x="306.5" y="234.3" font-size="33.5" fill="#fff" style="font-family:&quot;Liberation Sans&quot;,Arial,Helvetica,sans-serif">LF</text>
<text x="65.5" y="417.8" font-size="33.5" fill="#fff" style="font-family:&quot;Liberation Sans&quot;,Arial,Helvetica,sans-serif">RH</text>
<text x="293.5" y="419.3" font-size="33.5" fill="#fff" style="font-family:&quot;Liberation Sans&quot;,Arial,Helvetica,sans-serif">LH</text>
<text x="354.6" y="565.8" font-size="57.5" fill="#ff0000" text-anchor="end" style="font-family:&quot;Liberation Sans&quot;,Arial,Helvetica,sans-serif">0ms</text>
<text x="653.4" y="565.8" font-size="57.5" fill="#ff0000" text-anchor="end" style="font-family:&quot;Liberation Sans&quot;,Arial,Helvetica,sans-serif">30ms</text>
<text x="966.8" y="565.8" font-size="57.5" fill="#ff0000" text-anchor="end" style="font-family:&quot;Liberation Sans&quot;,Arial,Helvetica,sans-serif">60ms</text>
<text x="1274.4" y="565.8" font-size="57.5" fill="#ff0000" text-anchor="end" style="font-family:&quot;Liberation Sans&quot;,Arial,Helvetica,sans-serif">90ms</text>
<text x="1572.3" y="565.8" font-size="57.5" fill="#ff0000" text-anchor="end" style="font-family:&quot;Liberation Sans&quot;,Arial,Helvetica,sans-serif">120ms</text>
<text x="1896.5" y="565.8" font-size="57.5" fill="#ff0000" text-anchor="end" style="font-family:&quot;Liberation Sans&quot;,Arial,Helvetica,sans-serif">150ms</text>
<text x="1889.5" y="643.2" font-size="57.0" fill="#ff0000" text-anchor="end" style="font-family:&quot;Liberation Sans&quot;,Arial,Helvetica,sans-serif">10mm</text>
<path d="M1770.5 649V661.5H1862.5V649" stroke="#ff0000" stroke-width="4" fill="none"/>
<text x="52.0" y="750.0" font-size="70.0" fill="#000" style="font-family:&quot;Liberation Sans&quot;,Arial,Helvetica,sans-serif">b</text>
<rect x="153.3" y="681.0" width="47.75" height="47.75" fill="#ff0000"/>
<rect x="201.1" y="728.8" width="47.75" height="47.75" fill="#ff0000"/>
<path d="M201.1 681.0V776.5M153.3 728.8H248.8" stroke="#111" stroke-width="1.2"/>
<rect x="153.3" y="681.0" width="95.5" height="95.5" fill="none" stroke="#333" stroke-width="1.3"/>
<text x="156.5" y="716.0" font-size="30.5" fill="#000" style="font-family:&quot;Liberation Sans&quot;,Arial,Helvetica,sans-serif">RF</text>
<text x="207.5" y="716.0" font-size="30.5" fill="#000" style="font-family:&quot;Liberation Sans&quot;,Arial,Helvetica,sans-serif">LF</text>
<text x="155.5" y="766.0" font-size="30.5" fill="#000" style="font-family:&quot;Liberation Sans&quot;,Arial,Helvetica,sans-serif">RH</text>
<text x="205.0" y="766.0" font-size="30.5" fill="#000" style="font-family:&quot;Liberation Sans&quot;,Arial,Helvetica,sans-serif">LH</text>
<path d="M594.3 681.0L642.0 681.0L642.0 728.8Z" fill="#ff0000"/>
<path d="M689.8 681.0L689.8 728.8L642.0 728.8Z" fill="#ff0000"/>
<path d="M594.3 728.8L642.0 728.8L594.3 776.5Z" fill="#ff0000"/>
<path d="M642.0 728.8L642.0 776.5L689.8 776.5Z" fill="#ff0000"/>
<path d="M642.0 681.0V776.5M594.3 728.8H689.8" stroke="#111" stroke-width="1.2"/>
<rect x="594.3" y="681.0" width="95.5" height="95.5" fill="none" stroke="#333" stroke-width="1.3"/>
<rect x="970.8" y="681.0" width="47.75" height="47.75" fill="#ff0000"/>
<rect x="923.0" y="728.8" width="47.75" height="47.75" fill="#ff0000"/>
<path d="M970.8 681.0V776.5M923.0 728.8H1018.5" stroke="#111" stroke-width="1.2"/>
<rect x="923.0" y="681.0" width="95.5" height="95.5" fill="none" stroke="#333" stroke-width="1.3"/>
<path d="M1279.3 681.0L1327.0 681.0L1327.0 728.8Z" fill="#ff0000"/>
<path d="M1374.8 681.0L1374.8 728.8L1327.0 728.8Z" fill="#ff0000"/>
<path d="M1279.3 728.8L1327.0 728.8L1279.3 776.5Z" fill="#ff0000"/>
<path d="M1327.0 728.8L1327.0 776.5L1374.8 776.5Z" fill="#ff0000"/>
<path d="M1327.0 681.0V776.5M1279.3 728.8H1374.8" stroke="#111" stroke-width="1.2"/>
<rect x="1279.3" y="681.0" width="95.5" height="95.5" fill="none" stroke="#333" stroke-width="1.3"/>
<rect x="1696.0" y="681.0" width="47.75" height="47.75" fill="#ff0000"/>
<rect x="1743.8" y="728.8" width="47.75" height="47.75" fill="#ff0000"/>
<path d="M1743.8 681.0V776.5M1696.0 728.8H1791.5" stroke="#111" stroke-width="1.2"/>
<rect x="1696.0" y="681.0" width="95.5" height="95.5" fill="none" stroke="#333" stroke-width="1.3"/>
<path d="M101.4 786.5H1848" stroke="#ff0000" stroke-width="1.8"/>
<path d="M1844 780L1868 786.6L1844 793.4Z" fill="#ff0000"/>
<text x="204.0" y="840.8" font-size="57.5" fill="#ff0000" text-anchor="middle" style="font-family:&quot;Liberation Sans&quot;,Arial,Helvetica,sans-serif">0</text>
<text x="520.0" y="840.8" font-size="57.5" fill="#ff0000" text-anchor="middle" style="font-family:&quot;Liberation Sans&quot;,Arial,Helvetica,sans-serif">20%</text>
<text x="827.5" y="840.8" font-size="57.5" fill="#ff0000" text-anchor="middle" style="font-family:&quot;Liberation Sans&quot;,Arial,Helvetica,sans-serif">40%</text>
<text x="1135.0" y="840.8" font-size="57.5" fill="#ff0000" text-anchor="middle" style="font-family:&quot;Liberation Sans&quot;,Arial,Helvetica,sans-serif">60%</text>
<text x="1443.8" y="840.8" font-size="57.5" fill="#ff0000" text-anchor="middle" style="font-family:&quot;Liberation Sans&quot;,Arial,Helvetica,sans-serif">80%</text>
<text x="1753.0" y="840.8" font-size="57.5" fill="#ff0000" text-anchor="middle" style="font-family:&quot;Liberation Sans&quot;,Arial,Helvetica,sans-serif">100%</text>
<rect x="1113.5" y="869.8" width="47.8" height="47.8" fill="#fff" stroke="#777" stroke-width="1.3"/>
<rect x="1479.5" y="869.8" width="47.8" height="47.8" fill="#ff0000" stroke="#555" stroke-width="1"/>
<text x="1194.0" y="910.0" font-size="56.5" fill="#231f20" style="font-family:&quot;Liberation Sans&quot;,Arial,Helvetica,sans-serif">Adduction</text>
<text x="1560.0" y="910.0" font-size="56.5" fill="#231f20" style="font-family:&quot;Liberation Sans&quot;,Arial,Helvetica,sans-serif">Abduction</text>
<text x="52.0" y="872.0" font-size="62.0" fill="#000" style="font-family:&quot;Liberation Sans&quot;,Arial,Helvetica,sans-serif">c</text>
<rect x="137.2" y="844.5" width="229.4" height="1000.0" fill="none" stroke="#444" stroke-width="2"/>
<path d="M137.2 1844.5h7.6M366.6 1844.5h-7.6M137.2 1767.6h7.6M366.6 1767.6h-7.6M137.2 1690.7h7.6M366.6 1690.7h-7.6M137.2 1613.7h7.6M366.6 1613.7h-7.6M137.2 1536.8h7.6M366.6 1536.8h-7.6M137.2 1459.9h7.6M366.6 1459.9h-7.6M137.2 1383.0h7.6M366.6 1383.0h-7.6M137.2 1306.0h7.6M366.6 1306.0h-7.6M137.2 1229.1h7.6M366.6 1229.1h-7.6M137.2 1152.2h7.6M366.6 1152.2h-7.6M137.2 1075.2h7.6M366.6 1075.2h-7.6M137.2 998.3h7.6M366.6 998.3h-7.6M137.2 921.4h7.6M366.6 921.4h-7.6M137.2 844.5h7.6M366.6 844.5h-7.6M213.6 844.5v7.6M213.6 1844.5v-7.6M290.1 844.5v7.6M290.1 1844.5v-7.6" stroke="#444" stroke-width="2"/>
<text x="123.0" y="1854.5" font-size="28.5" fill="#404040" text-anchor="end" style="font-family:&quot;Liberation Sans&quot;,Arial,Helvetica,sans-serif">0</text>
<text x="123.0" y="1777.6" font-size="28.5" fill="#404040" text-anchor="end" style="font-family:&quot;Liberation Sans&quot;,Arial,Helvetica,sans-serif">5</text>
<text x="123.0" y="1700.7" font-size="28.5" fill="#404040" text-anchor="end" style="font-family:&quot;Liberation Sans&quot;,Arial,Helvetica,sans-serif">10</text>
<text x="123.0" y="1623.7" font-size="28.5" fill="#404040" text-anchor="end" style="font-family:&quot;Liberation Sans&quot;,Arial,Helvetica,sans-serif">15</text>
<text x="123.0" y="1546.8" font-size="28.5" fill="#404040" text-anchor="end" style="font-family:&quot;Liberation Sans&quot;,Arial,Helvetica,sans-serif">20</text>
<text x="123.0" y="1469.9" font-size="28.5" fill="#404040" text-anchor="end" style="font-family:&quot;Liberation Sans&quot;,Arial,Helvetica,sans-serif">25</text>
<text x="123.0" y="1393.0" font-size="28.5" fill="#404040" text-anchor="end" style="font-family:&quot;Liberation Sans&quot;,Arial,Helvetica,sans-serif">30</text>
<text x="123.0" y="1316.0" font-size="28.5" fill="#404040" text-anchor="end" style="font-family:&quot;Liberation Sans&quot;,Arial,Helvetica,sans-serif">35</text>
<text x="123.0" y="1239.1" font-size="28.5" fill="#404040" text-anchor="end" style="font-family:&quot;Liberation Sans&quot;,Arial,Helvetica,sans-serif">40</text>
<text x="123.0" y="1162.2" font-size="28.5" fill="#404040" text-anchor="end" style="font-family:&quot;Liberation Sans&quot;,Arial,Helvetica,sans-serif">45</text>
<text x="123.0" y="1085.2" font-size="28.5" fill="#404040" text-anchor="end" style="font-family:&quot;Liberation Sans&quot;,Arial,Helvetica,sans-serif">50</text>
<text x="123.0" y="1008.3" font-size="28.5" fill="#404040" text-anchor="end" style="font-family:&quot;Liberation Sans&quot;,Arial,Helvetica,sans-serif">55</text>
<text x="123.0" y="931.4" font-size="28.5" fill="#404040" text-anchor="end" style="font-family:&quot;Liberation Sans&quot;,Arial,Helvetica,sans-serif">60</text>
<text x="123.0" y="854.5" font-size="28.5" fill="#404040" text-anchor="end" style="font-family:&quot;Liberation Sans&quot;,Arial,Helvetica,sans-serif">65</text>
<text x="134.7" y="1882.0" font-size="28.5" fill="#404040" text-anchor="middle" style="font-family:&quot;Liberation Sans&quot;,Arial,Helvetica,sans-serif">-10</text>
<text x="213.6" y="1882.0" font-size="28.5" fill="#404040" text-anchor="middle" style="font-family:&quot;Liberation Sans&quot;,Arial,Helvetica,sans-serif">-5</text>
<text x="290.1" y="1882.0" font-size="28.5" fill="#404040" text-anchor="middle" style="font-family:&quot;Liberation Sans&quot;,Arial,Helvetica,sans-serif">0</text>
<text x="366.6" y="1882.0" font-size="28.5" fill="#404040" text-anchor="middle" style="font-family:&quot;Liberation Sans&quot;,Arial,Helvetica,sans-serif">5</text>
<text x="0" y="0" font-size="42.0" fill="#000" text-anchor="middle" style="font-family:&quot;Liberation Sans&quot;,Arial,Helvetica,sans-serif" transform="translate(71.5 1380.0) rotate(-90)">Axial displacement (mm)</text>
<text x="493.0" y="1938.0" font-size="42.0" fill="#000" text-anchor="end" style="font-family:&quot;Liberation Sans&quot;,Arial,Helvetica,sans-serif">Lateral displacement (mm)</text>
<polyline points="213.6,1732.2 225.9,1675.3 244.2,1583.0 259.5,1490.6 271.7,1398.3 277.9,1306.0 276.3,1198.3 280.9,1075.2 271.7,998.3 265.6,887.6" fill="none" stroke="#222" stroke-width="1.6"/>
<polyline points="213.6,1747.6 236.6,1659.9 251.9,1598.3 267.2,1521.4 282.5,1444.5 280.9,1336.8 273.3,1259.9 274.8,1152.2 282.5,1059.9 276.3,967.6 290.1,866.0" fill="none" stroke="#222" stroke-width="1.6"/>
<polyline points="248.8,1770.7 242.7,1644.5 250.3,1552.2 261.0,1475.3 274.8,1367.6 270.2,1259.9 280.9,1121.4 276.3,1013.7 285.5,936.8 303.4,856.8" fill="none" stroke="#222" stroke-width="1.6"/>
<polyline points="279.4,1778.3 262.6,1606.0 277.9,1490.6 280.9,1383.0 280.9,1290.6 276.3,1182.9 284.0,1075.2 274.8,982.9 279.1,907.6" fill="none" stroke="#222" stroke-width="1.6"/>
<polyline points="230.5,1803.0 254.9,1659.9 271.7,1583.0 280.9,1506.0 273.3,1383.0 270.2,1290.6 277.9,1182.9 282.5,1106.0 274.8,998.3 290.1,921.4" fill="none" stroke="#222" stroke-width="1.6"/>
<polyline points="261.0,1798.3 271.7,1690.7 276.3,1583.0 279.4,1459.9 276.3,1352.2 282.5,1259.9 287.0,1152.2 280.9,1044.5 267.2,952.2 265.6,890.6" fill="none" stroke="#222" stroke-width="1.6"/>
<path d="M266.3 875.8l11.0 11.0l-11.0 11.0l-11.0 -11.0Z" fill="none" stroke="#1010ff" stroke-width="2.4"/>
<path d="M268.5 873.0l11.0 11.0l-11.0 11.0l-11.0 -11.0Z" fill="none" stroke="#1010ff" stroke-width="2.4"/>
<path d="M290.0 855.3l11.0 11.0l-11.0 11.0l-11.0 -11.0Z" fill="none" stroke="#1010ff" stroke-width="2.4"/>
<path d="M303.4 846.2l11.0 11.0l-11.0 11.0l-11.0 -11.0Z" fill="none" stroke="#1010ff" stroke-width="2.4"/>
<path d="M279.3 896.4l11.0 11.0l-11.0 11.0l-11.0 -11.0Z" fill="none" stroke="#1010ff" stroke-width="2.4"/>
<path d="M290.0 909.8l11.0 11.0l-11.0 11.0l-11.0 -11.0Z" fill="none" stroke="#1010ff" stroke-width="2.4"/>
<path d="M278.5 876.5L286.5 871.3M268 893L272.5 897" stroke="#1010ff" stroke-width="2.2"/>
<path d="M203.6 1726.8h18l-9 16Z" fill="none" stroke="#1010ff" stroke-width="2.4" stroke-linejoin="miter"/>
<path d="M203.0 1740.0h18l-9 16Z" fill="none" stroke="#1010ff" stroke-width="2.4" stroke-linejoin="miter"/>
<path d="M239.8 1762.0h18l-9 16Z" fill="none" stroke="#1010ff" stroke-width="2.4" stroke-linejoin="miter"/>
<path d="M270.7 1769.5h18l-9 16Z" fill="none" stroke="#1010ff" stroke-width="2.4" stroke-linejoin="miter"/>
<path d="M222.0 1796.0h18l-9 16Z" fill="none" stroke="#1010ff" stroke-width="2.4" stroke-linejoin="miter"/>
<path d="M251.6 1791.6h18l-9 16Z" fill="none" stroke="#1010ff" stroke-width="2.4" stroke-linejoin="miter"/>
<path d="M220 1752.5L226 1755.5M235 1762L242 1765.5M239 1802.5L246 1801.5M262 1773.5L268.5 1774M268 1795L272 1790" stroke="#1010ff" stroke-width="2.2"/>
<path d="M426.9 894.7L338.1 865.4" stroke="#000" stroke-width="1.6"/>
<path d="M317.2 858.5L342.5 858.4L337.5 873.6Z" fill="#000"/>
<path d="M410.6 1198.0L321.5 1235.9" stroke="#000" stroke-width="1.6"/>
<path d="M301.3 1244.5L320.3 1227.7L326.5 1242.5Z" fill="#000"/>
<path d="M410.8 1729.8L322.1 1766.2" stroke="#000" stroke-width="1.6"/>
<path d="M301.8 1774.6L321.0 1758.1L327.0 1772.9Z" fill="#000"/>
<path d="M204.7 1140.3L214.5 1068" stroke="#000" stroke-width="5.5" stroke-linecap="round"/>
<path d="M220.8 1032.2L228.4 1071.5L203 1068Z" fill="#000"/>
<text x="396.5" y="941.6" font-size="42.8" fill="#000" style="font-family:&quot;Liberation Sans&quot;,Arial,Helvetica,sans-serif">Head</text>
<text x="383.0" y="1195.0" font-size="43.0" fill="#000" style="font-family:&quot;Liberation Sans&quot;,Arial,Helvetica,sans-serif">Midline</text>
<text x="141.0" y="1184.0" font-size="32.8" fill="#000" style="font-family:&quot;Liberation Sans&quot;,Arial,Helvetica,sans-serif">Direction</text>
<text x="385.0" y="1712.9" font-size="44.0" fill="#000" style="font-family:&quot;Liberation Sans&quot;,Arial,Helvetica,sans-serif">Tail</text>
<text x="490.0" y="998.5" font-size="68.5" fill="#000" style="font-family:&quot;Liberation Sans&quot;,Arial,Helvetica,sans-serif">d</text>
<path d="M638.4 988.0V1351.6M630.4 1351.6H1133.4M638.4 1351.6v8M737.4 1351.6v8M836.4 1351.6v8M935.4 1351.6v8M1034.4 1351.6v8M1133.4 1351.6v8M687.9 1351.6v4M786.9 1351.6v4M885.9 1351.6v4M984.9 1351.6v4M1083.9 1351.6v4M638.4 1351.6h-8M638.4 1278.9h-8M638.4 1206.2h-8M638.4 1133.4h-8M638.4 1060.7h-8M638.4 988.0h-8M638.4 1315.2h-4M638.4 1242.5h-4M638.4 1169.8h-4M638.4 1097.1h-4M638.4 1024.4h-4" stroke="#000" stroke-width="1.4" fill="none"/>
<text x="626.4" y="1361.1" font-size="32.5" fill="#000" text-anchor="end" style="font-family:&quot;Liberation Sans&quot;,Arial,Helvetica,sans-serif">0</text>
<text x="626.4" y="1288.4" font-size="32.5" fill="#000" text-anchor="end" style="font-family:&quot;Liberation Sans&quot;,Arial,Helvetica,sans-serif">1</text>
<text x="626.4" y="1215.7" font-size="32.5" fill="#000" text-anchor="end" style="font-family:&quot;Liberation Sans&quot;,Arial,Helvetica,sans-serif">2</text>
<text x="626.4" y="1142.9" font-size="32.5" fill="#000" text-anchor="end" style="font-family:&quot;Liberation Sans&quot;,Arial,Helvetica,sans-serif">3</text>
<text x="626.4" y="1070.2" font-size="32.5" fill="#000" text-anchor="end" style="font-family:&quot;Liberation Sans&quot;,Arial,Helvetica,sans-serif">4</text>
<text x="626.4" y="997.5" font-size="32.5" fill="#000" text-anchor="end" style="font-family:&quot;Liberation Sans&quot;,Arial,Helvetica,sans-serif">5</text>
<text x="638.4" y="1388.6" font-size="32.5" fill="#000" text-anchor="middle" style="font-family:&quot;Liberation Sans&quot;,Arial,Helvetica,sans-serif">0</text>
<text x="737.4" y="1388.6" font-size="32.5" fill="#000" text-anchor="middle" style="font-family:&quot;Liberation Sans&quot;,Arial,Helvetica,sans-serif">30</text>
<text x="836.4" y="1388.6" font-size="32.5" fill="#000" text-anchor="middle" style="font-family:&quot;Liberation Sans&quot;,Arial,Helvetica,sans-serif">60</text>
<text x="935.4" y="1388.6" font-size="32.5" fill="#000" text-anchor="middle" style="font-family:&quot;Liberation Sans&quot;,Arial,Helvetica,sans-serif">90</text>
<text x="1034.4" y="1388.6" font-size="32.5" fill="#000" text-anchor="middle" style="font-family:&quot;Liberation Sans&quot;,Arial,Helvetica,sans-serif">120</text>
<text x="1133.4" y="1388.6" font-size="32.5" fill="#000" text-anchor="middle" style="font-family:&quot;Liberation Sans&quot;,Arial,Helvetica,sans-serif">150</text>
<text x="878.0" y="1432.0" font-size="43.0" fill="#000" text-anchor="middle" style="font-family:&quot;Liberation Sans&quot;,Arial,Helvetica,sans-serif">Time (ms)</text>
<text x="0" y="0" font-size="32.0" fill="#000" text-anchor="middle" style="font-family:&quot;Liberation Sans&quot;,Arial,Helvetica,sans-serif" transform="translate(590.0 1192.3) rotate(-90)">Axial displacement (mm)</text>
<path d="M638.4 1059.3H1134.0" stroke="#db8a84" stroke-width="1.6" stroke-dasharray="13.3 7.8"/>
<polyline points="667.1,1351.6 697.5,1332.0 730.5,1306.5 764.8,1273.8 797.5,1254.2 829.1,1222.2 862.8,1209.1 895.5,1196.0 928.8,1196.0 961.8,1176.3 994.5,1144.3 1028.5,1118.2 1061.1,1078.9 1093.5,1059.3 1126.8,1059.3" fill="none" stroke="#000" stroke-width="1.3" stroke-linejoin="round"/>
<text x="1194.0" y="998.0" font-size="62.0" fill="#000" style="font-family:&quot;Liberation Sans&quot;,Arial,Helvetica,sans-serif">e</text>
<path d="M1336.9 988.5V1351.1M1328.9 1351.1H1830.9M1336.9 1351.1v8M1435.7 1351.1v8M1534.5 1351.1v8M1633.3 1351.1v8M1732.1 1351.1v8M1830.9 1351.1v8M1386.3 1351.1v4M1485.1 1351.1v4M1583.9 1351.1v4M1682.7 1351.1v4M1781.5 1351.1v4M1336.9 1351.1h-8M1336.9 1299.3h-8M1336.9 1247.5h-8M1336.9 1195.7h-8M1336.9 1143.9h-8M1336.9 1092.1h-8M1336.9 1040.3h-8M1336.9 988.5h-8M1336.9 1325.2h-4M1336.9 1273.4h-4M1336.9 1221.6h-4M1336.9 1169.8h-4M1336.9 1118.0h-4M1336.9 1066.2h-4M1336.9 1014.4h-4" stroke="#000" stroke-width="1.4" fill="none"/>
<text x="1324.9" y="1360.6" font-size="32.5" fill="#000" text-anchor="end" style="font-family:&quot;Liberation Sans&quot;,Arial,Helvetica,sans-serif">0</text>
<text x="1324.9" y="1308.8" font-size="32.5" fill="#000" text-anchor="end" style="font-family:&quot;Liberation Sans&quot;,Arial,Helvetica,sans-serif">10</text>
<text x="1324.9" y="1257.0" font-size="32.5" fill="#000" text-anchor="end" style="font-family:&quot;Liberation Sans&quot;,Arial,Helvetica,sans-serif">20</text>
<text x="1324.9" y="1205.2" font-size="32.5" fill="#000" text-anchor="end" style="font-family:&quot;Liberation Sans&quot;,Arial,Helvetica,sans-serif">30</text>
<text x="1324.9" y="1153.4" font-size="32.5" fill="#000" text-anchor="end" style="font-family:&quot;Liberation Sans&quot;,Arial,Helvetica,sans-serif">40</text>
<text x="1324.9" y="1101.6" font-size="32.5" fill="#000" text-anchor="end" style="font-family:&quot;Liberation Sans&quot;,Arial,Helvetica,sans-serif">50</text>
<text x="1324.9" y="1049.8" font-size="32.5" fill="#000" text-anchor="end" style="font-family:&quot;Liberation Sans&quot;,Arial,Helvetica,sans-serif">60</text>
<text x="1324.9" y="998.0" font-size="32.5" fill="#000" text-anchor="end" style="font-family:&quot;Liberation Sans&quot;,Arial,Helvetica,sans-serif">70</text>
<text x="1336.9" y="1388.1" font-size="32.5" fill="#000" text-anchor="middle" style="font-family:&quot;Liberation Sans&quot;,Arial,Helvetica,sans-serif">0</text>
<text x="1435.7" y="1388.1" font-size="32.5" fill="#000" text-anchor="middle" style="font-family:&quot;Liberation Sans&quot;,Arial,Helvetica,sans-serif">30</text>
<text x="1534.5" y="1388.1" font-size="32.5" fill="#000" text-anchor="middle" style="font-family:&quot;Liberation Sans&quot;,Arial,Helvetica,sans-serif">60</text>
<text x="1633.3" y="1388.1" font-size="32.5" fill="#000" text-anchor="middle" style="font-family:&quot;Liberation Sans&quot;,Arial,Helvetica,sans-serif">90</text>
<text x="1732.1" y="1388.1" font-size="32.5" fill="#000" text-anchor="middle" style="font-family:&quot;Liberation Sans&quot;,Arial,Helvetica,sans-serif">120</text>
<text x="1830.9" y="1388.1" font-size="32.5" fill="#000" text-anchor="middle" style="font-family:&quot;Liberation Sans&quot;,Arial,Helvetica,sans-serif">150</text>
<text x="1569.3" y="1432.0" font-size="43.0" fill="#000" text-anchor="middle" style="font-family:&quot;Liberation Sans&quot;,Arial,Helvetica,sans-serif">Time (ms)</text>
<text x="0" y="0" font-size="32.0" fill="#000" text-anchor="middle" style="font-family:&quot;Liberation Sans&quot;,Arial,Helvetica,sans-serif" transform="translate(1270.0 1193.0) rotate(-90)">Axial velocity (mm/s)</text>
<polyline points="1336.9,1351.1 1364.6,1247.5 1395.9,1112.3 1429.4,1042.9 1462.4,1077.6 1495.3,1077.6 1527.9,1112.3 1560.8,1215.4 1594.1,1282.7 1627.0,1248.0 1660.3,1077.6 1692.9,1043.4 1725.8,1009.2 1758.8,1043.4 1791.7,1248.0 1824.3,1351.1" fill="none" stroke="#000" stroke-width="1.3" stroke-linejoin="round"/>
<text x="500.0" y="1464.0" font-size="68.0" fill="#000" style="font-family:&quot;Liberation Sans&quot;,Arial,Helvetica,sans-serif">f</text>
<path d="M640.6 1497.8V1870.4M632.6 1870.4H1146.2M640.6 1870.4v8M741.7 1870.4v8M842.8 1870.4v8M944.0 1870.4v8M1045.1 1870.4v8M1146.2 1870.4v8M691.2 1870.4v4M792.3 1870.4v4M893.4 1870.4v4M994.5 1870.4v4M1095.6 1870.4v4M640.6 1870.4h-8M640.6 1795.9h-8M640.6 1721.4h-8M640.6 1646.8h-8M640.6 1572.3h-8M640.6 1497.8h-8M640.6 1833.1h-4M640.6 1758.6h-4M640.6 1684.1h-4M640.6 1609.6h-4M640.6 1535.1h-4" stroke="#000" stroke-width="1.4" fill="none"/>
<text x="628.6" y="1879.9" font-size="32.5" fill="#000" text-anchor="end" style="font-family:&quot;Liberation Sans&quot;,Arial,Helvetica,sans-serif">3.0</text>
<text x="628.6" y="1805.4" font-size="32.5" fill="#000" text-anchor="end" style="font-family:&quot;Liberation Sans&quot;,Arial,Helvetica,sans-serif">3.5</text>
<text x="628.6" y="1730.9" font-size="32.5" fill="#000" text-anchor="end" style="font-family:&quot;Liberation Sans&quot;,Arial,Helvetica,sans-serif">4.0</text>
<text x="628.6" y="1656.3" font-size="32.5" fill="#000" text-anchor="end" style="font-family:&quot;Liberation Sans&quot;,Arial,Helvetica,sans-serif">4.5</text>
<text x="628.6" y="1581.8" font-size="32.5" fill="#000" text-anchor="end" style="font-family:&quot;Liberation Sans&quot;,Arial,Helvetica,sans-serif">5.0</text>
<text x="628.6" y="1507.3" font-size="32.5" fill="#000" text-anchor="end" style="font-family:&quot;Liberation Sans&quot;,Arial,Helvetica,sans-serif">5.5</text>
<text x="640.6" y="1907.4" font-size="32.5" fill="#000" text-anchor="middle" style="font-family:&quot;Liberation Sans&quot;,Arial,Helvetica,sans-serif">0</text>
<text x="741.7" y="1907.4" font-size="32.5" fill="#000" text-anchor="middle" style="font-family:&quot;Liberation Sans&quot;,Arial,Helvetica,sans-serif">30</text>
<text x="842.8" y="1907.4" font-size="32.5" fill="#000" text-anchor="middle" style="font-family:&quot;Liberation Sans&quot;,Arial,Helvetica,sans-serif">60</text>
<text x="944.0" y="1907.4" font-size="32.5" fill="#000" text-anchor="middle" style="font-family:&quot;Liberation Sans&quot;,Arial,Helvetica,sans-serif">90</text>
<text x="1045.1" y="1907.4" font-size="32.5" fill="#000" text-anchor="middle" style="font-family:&quot;Liberation Sans&quot;,Arial,Helvetica,sans-serif">120</text>
<text x="1146.2" y="1907.4" font-size="32.5" fill="#000" text-anchor="middle" style="font-family:&quot;Liberation Sans&quot;,Arial,Helvetica,sans-serif">150</text>
<rect x="770" y="1905" width="240" height="51" fill="#fff"/>
<text x="898.0" y="1945.0" font-size="43.0" fill="#000" text-anchor="middle" style="font-family:&quot;Liberation Sans&quot;,Arial,Helvetica,sans-serif">Time (ms)</text>
<text x="0" y="0" font-size="32.0" fill="#000" text-anchor="middle" style="font-family:&quot;Liberation Sans&quot;,Arial,Helvetica,sans-serif" transform="translate(562.0 1688.8) rotate(-90)">Girdle muscle length (mm)</text>
<path d="M640.6 1544.3H1190.0" stroke="#db8a84" stroke-width="1.6" stroke-dasharray="13.3 7.8"/>
<path d="M640.6 1828.7H1190.0" stroke="#db8a84" stroke-width="1.6" stroke-dasharray="13.3 7.8"/>
<text x="675.5" y="1538.7" font-size="33.3" fill="#000" style="font-family:&quot;Liberation Sans&quot;,Arial,Helvetica,sans-serif">Protractor ischii</text>
<text x="684.5" y="1858.0" font-size="33.3" fill="#000" style="font-family:&quot;Liberation Sans&quot;,Arial,Helvetica,sans-serif">Retractor ischii</text>
<path d="M962.7 1475.7H1027" stroke="#000" stroke-width="1.3" stroke-dasharray="2.5 1.8"/>
<path d="M962.7 1513.7H1027" stroke="#000" stroke-width="1.4"/>
<text x="1038.0" y="1486.0" font-size="32.4" fill="#000" style="font-family:&quot;Liberation Sans&quot;,Arial,Helvetica,sans-serif">Left</text>
<text x="1038.0" y="1523.0" font-size="32.4" fill="#000" style="font-family:&quot;Liberation Sans&quot;,Arial,Helvetica,sans-serif">Right</text>
<polyline points="640.6,1578.2 647.6,1578.2 655.0,1591.1 660.5,1576.3 667.9,1587.4 675.3,1604.7 681.9,1604.7 689.3,1617.6 701.1,1617.6 708.4,1646.3 714.7,1646.3 727.6,1672.1 735.0,1660.0 741.6,1672.1 748.2,1699.8 754.5,1686.1 761.9,1714.5 769.2,1727.4 774.8,1727.4 782.1,1742.9 788.8,1740.3 796.1,1767.9 815.3,1767.9 822.7,1784.5 828.2,1781.9 835.6,1797.4 842.9,1797.4 850.3,1811.0 863.2,1811.0 870.6,1823.2 877.2,1811.0 896.4,1811.0 903.7,1797.4 910.4,1797.4 917.4,1810.3 924.0,1797.4 950.9,1797.4 957.9,1811.0 964.5,1811.0 971.9,1797.4 979.3,1780.8 985.5,1767.9 991.4,1767.9 998.8,1740.3 1006.2,1727.4 1012.4,1712.7 1019.8,1699.8 1025.3,1686.9 1032.7,1656.3 1038.2,1659.2 1045.6,1630.9 1053.0,1616.9 1060.3,1602.1 1065.9,1604.7 1073.2,1589.2 1079.5,1589.2 1087.2,1576.3 1093.1,1576.3 1100.1,1559.7 1106.4,1559.7 1113.8,1575.6 1121.1,1559.7 1126.6,1559.7 1134.0,1571.9 1140.6,1571.9" fill="none" stroke="#000" stroke-width="1.3" stroke-linejoin="round"/>
<polyline points="640.6,1798.1 658.7,1798.1 667.9,1785.6 688.2,1785.6 695.5,1771.6 708.4,1769.8 715.8,1755.0 726.9,1731.1 734.2,1714.5 740.5,1715.6 747.1,1701.6 754.5,1690.6 761.9,1675.1 769.2,1674.7 774.8,1648.2 789.5,1646.3 796.9,1633.4 804.2,1620.5 809.8,1607.6 817.1,1578.2 822.7,1569.0 828.2,1549.8 835.6,1565.3 842.9,1551.6 855.8,1548.7 865.0,1565.3 872.4,1565.3 883.5,1563.4 890.8,1549.8 896.4,1549.8 903.7,1563.4 911.1,1575.6 917.7,1564.5 924.0,1575.6 936.9,1575.6 944.3,1616.9 949.8,1631.6 957.2,1646.3 964.5,1635.3 970.1,1644.5 977.4,1657.4 984.8,1648.2 992.2,1675.8 999.5,1675.8 1005.1,1664.8 1012.4,1690.6 1019.8,1675.8 1030.8,1701.6 1038.2,1731.1 1045.6,1718.9 1053.0,1747.7 1060.3,1760.6 1067.7,1788.2 1078.7,1788.2 1088.0,1801.1 1093.5,1801.1 1106.4,1828.7 1111.9,1817.7 1119.3,1814.0 1128.5,1801.1 1141.4,1801.1" fill="none" stroke="#000" stroke-width="1.3" stroke-dasharray="3 2" stroke-linejoin="round"/>
<text x="1194.0" y="1463.0" font-size="62.0" fill="#000" style="font-family:&quot;Liberation Sans&quot;,Arial,Helvetica,sans-serif">g</text>
<path d="M1343.7 1507.5V1866.3M1335.7 1866.3H1832.5M1343.7 1866.3v8M1441.5 1866.3v8M1539.2 1866.3v8M1637.0 1866.3v8M1734.7 1866.3v8M1832.5 1866.3v8M1392.6 1866.3v4M1490.3 1866.3v4M1588.1 1866.3v4M1685.9 1866.3v4M1783.6 1866.3v4M1343.7 1866.3h-8M1343.7 1828.4h-8M1343.7 1790.5h-8M1343.7 1752.6h-8M1343.7 1714.7h-8M1343.7 1676.8h-8M1343.7 1639.0h-8M1343.7 1601.1h-8M1343.7 1563.2h-8M1343.7 1525.3h-8M1343.7 1847.4h-4M1343.7 1809.5h-4M1343.7 1771.6h-4M1343.7 1733.7h-4M1343.7 1695.8h-4M1343.7 1657.9h-4M1343.7 1620.0h-4M1343.7 1582.1h-4M1343.7 1544.2h-4M1343.7 1506.3h-4" stroke="#000" stroke-width="1.4" fill="none"/>
<text x="1331.7" y="1875.8" font-size="32.5" fill="#000" text-anchor="end" style="font-family:&quot;Liberation Sans&quot;,Arial,Helvetica,sans-serif">-40</text>
<text x="1331.7" y="1837.9" font-size="32.5" fill="#000" text-anchor="end" style="font-family:&quot;Liberation Sans&quot;,Arial,Helvetica,sans-serif">-30</text>
<text x="1331.7" y="1800.0" font-size="32.5" fill="#000" text-anchor="end" style="font-family:&quot;Liberation Sans&quot;,Arial,Helvetica,sans-serif">-20</text>
<text x="1331.7" y="1762.1" font-size="32.5" fill="#000" text-anchor="end" style="font-family:&quot;Liberation Sans&quot;,Arial,Helvetica,sans-serif">-10</text>
<text x="1331.7" y="1724.2" font-size="32.5" fill="#000" text-anchor="end" style="font-family:&quot;Liberation Sans&quot;,Arial,Helvetica,sans-serif">0</text>
<text x="1331.7" y="1686.3" font-size="32.5" fill="#000" text-anchor="end" style="font-family:&quot;Liberation Sans&quot;,Arial,Helvetica,sans-serif">10</text>
<text x="1331.7" y="1648.5" font-size="32.5" fill="#000" text-anchor="end" style="font-family:&quot;Liberation Sans&quot;,Arial,Helvetica,sans-serif">20</text>
<text x="1331.7" y="1610.6" font-size="32.5" fill="#000" text-anchor="end" style="font-family:&quot;Liberation Sans&quot;,Arial,Helvetica,sans-serif">30</text>
<text x="1331.7" y="1572.7" font-size="32.5" fill="#000" text-anchor="end" style="font-family:&quot;Liberation Sans&quot;,Arial,Helvetica,sans-serif">40</text>
<text x="1331.7" y="1534.8" font-size="32.5" fill="#000" text-anchor="end" style="font-family:&quot;Liberation Sans&quot;,Arial,Helvetica,sans-serif">50</text>
<text x="1343.7" y="1903.3" font-size="32.5" fill="#000" text-anchor="middle" style="font-family:&quot;Liberation Sans&quot;,Arial,Helvetica,sans-serif">0</text>
<text x="1441.5" y="1903.3" font-size="32.5" fill="#000" text-anchor="middle" style="font-family:&quot;Liberation Sans&quot;,Arial,Helvetica,sans-serif">30</text>
<text x="1539.2" y="1903.3" font-size="32.5" fill="#000" text-anchor="middle" style="font-family:&quot;Liberation Sans&quot;,Arial,Helvetica,sans-serif">60</text>
<text x="1637.0" y="1903.3" font-size="32.5" fill="#000" text-anchor="middle" style="font-family:&quot;Liberation Sans&quot;,Arial,Helvetica,sans-serif">90</text>
<text x="1734.7" y="1903.3" font-size="32.5" fill="#000" text-anchor="middle" style="font-family:&quot;Liberation Sans&quot;,Arial,Helvetica,sans-serif">120</text>
<text x="1832.5" y="1903.3" font-size="32.5" fill="#000" text-anchor="middle" style="font-family:&quot;Liberation Sans&quot;,Arial,Helvetica,sans-serif">150</text>
<text x="1589.0" y="1944.0" font-size="43.0" fill="#000" text-anchor="middle" style="font-family:&quot;Liberation Sans&quot;,Arial,Helvetica,sans-serif">Time (ms)</text>
<text x="0" y="0" font-size="32.0" fill="#000" text-anchor="middle" style="font-family:&quot;Liberation Sans&quot;,Arial,Helvetica,sans-serif" transform="translate(1277.0 1709.0) rotate(-90)">Girdle muscle rate (mm/s)</text>
<path d="M1343.7 1542.3H1837.5" stroke="#db8a84" stroke-width="1.6" stroke-dasharray="13.3 7.8"/>
<path d="M1343.7 1839.8H1837.5" stroke="#db8a84" stroke-width="1.6" stroke-dasharray="13.3 7.8"/>
<path d="M1665 1476H1729.5" stroke="#000" stroke-width="1.3" stroke-dasharray="2.5 1.8"/>
<path d="M1665 1512.8H1729.5" stroke="#000" stroke-width="1.4"/>
<text x="1742.0" y="1486.0" font-size="32.4" fill="#000" style="font-family:&quot;Liberation Sans&quot;,Arial,Helvetica,sans-serif">Left</text>
<text x="1742.0" y="1523.4" font-size="32.4" fill="#000" style="font-family:&quot;Liberation Sans&quot;,Arial,Helvetica,sans-serif">Right</text>
<polyline points="1343.7,1772.7 1377.0,1792.4 1411.9,1818.9 1416.8,1820.8 1422.5,1822.7 1430.1,1828.4 1441.5,1829.2 1454.7,1828.0 1468.0,1824.6 1474.8,1820.4 1481.3,1819.7 1492.6,1814.0 1500.2,1812.5 1513.5,1796.2 1519.9,1790.5 1532.4,1771.6 1540.0,1762.1 1551.4,1748.8 1560.8,1737.5 1570.3,1729.9 1579.8,1721.2 1585.5,1717.8 1591.1,1715.5 1596.8,1710.9 1604.4,1704.5 1612.0,1697.7 1617.7,1693.9 1623.3,1687.1 1634.7,1671.1 1642.3,1659.8 1651.8,1644.6 1657.5,1632.5 1663.1,1622.6 1668.8,1607.9 1676.4,1591.6 1687.8,1570.7 1697.2,1557.5 1704.8,1549.9 1710.5,1546.9 1716.2,1546.1 1722.6,1548.8 1729.5,1553.7 1735.1,1563.2 1742.7,1573.4 1748.4,1583.2 1756.0,1599.2 1767.3,1625.7 1778.7,1652.2 1790.1,1678.7 1801.4,1705.3 1812.8,1731.8 1826.8,1766.6" fill="none" stroke="#000" stroke-width="1.3" stroke-linejoin="round"/>
<polyline points="1343.7,1713.6 1358.1,1693.9 1373.3,1674.9 1388.4,1654.1 1403.6,1633.3 1415.7,1613.6 1426.3,1605.6 1437.7,1599.2 1443.4,1593.5 1450.9,1585.9 1460.4,1576.4 1468.0,1574.5 1475.6,1575.7 1483.1,1580.2 1490.7,1585.9 1498.3,1595.4 1505.9,1606.0 1513.5,1617.3 1521.0,1627.6 1528.6,1637.0 1536.2,1648.4 1543.8,1661.7 1551.4,1673.0 1558.9,1688.2 1566.5,1705.3 1574.1,1724.2 1581.7,1743.1 1587.4,1755.3 1596.8,1769.7 1608.2,1782.9 1619.6,1794.3 1630.9,1804.5 1640.4,1811.4 1651.8,1815.1 1663.1,1815.9 1672.6,1818.9 1684.0,1820.8 1693.5,1825.8 1702.9,1824.6 1712.4,1827.3 1721.9,1834.1 1731.3,1837.1 1740.8,1834.8 1748.4,1826.5 1759.8,1815.9 1771.1,1796.2 1782.5,1773.5 1793.9,1746.9 1805.2,1720.4 1814.7,1701.5 1825.3,1680.6" fill="none" stroke="#000" stroke-width="1.3" stroke-dasharray="3 2" stroke-linejoin="round"/>
</svg>
</body></html>
